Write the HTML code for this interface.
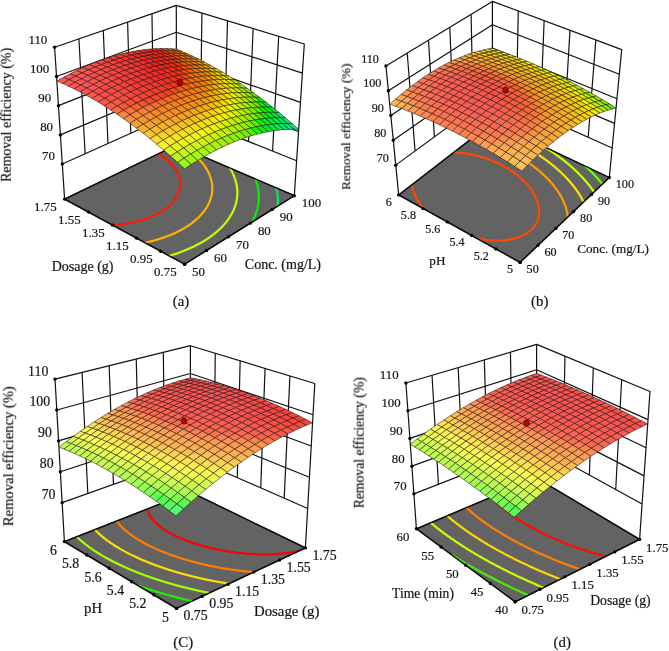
<!DOCTYPE html><html><head><meta charset="utf-8"><style>html,body{margin:0;padding:0;background:#fff;}svg{display:block;will-change:transform;}</style></head><body><svg width="669" height="651" viewBox="0 0 669 651"><clipPath id="fla"><polygon points="184.6,264.2 64.6,199.1 176.5,145 294.3,195.7"/></clipPath><path d="M62.29,164.07L176.45,112.78 M176.45,112.78L296.61,160.69 M60.37,134.88L176.42,85.94 M176.42,85.94L298.53,131.52 M58.45,105.68L176.38,59.09 M176.38,59.09L300.45,102.35 M56.52,76.49L176.34,32.25 M176.34,32.25L302.38,73.17 M85.12,153.81L78.94,38.92 M107.96,143.56L103.28,30.54 M130.79,133.3L127.62,22.16 M153.62,123.04L151.96,13.78 M272.58,151.11L278.7,36.28 M248.55,141.53L253.1,28.56 M224.52,131.95L227.5,20.84 M200.48,122.37L201.9,13.12" stroke="#111" stroke-width="1.2" fill="none"/><polyline points="64.6,199.1 54.6,47.3 176.3,5.4 304.3,44 294.3,195.7" stroke="#111" stroke-width="1.2" fill="none" stroke-linejoin="round"/><path d="M176.3,5.4L176.5,145" stroke="#111" stroke-width="1.2"/><polygon points="184.6,264.2 64.6,199.1 176.5,145 294.3,195.7" fill="#636363" stroke="#111" stroke-width="1.3" stroke-linejoin="round"/><g fill="none" stroke-width="2.2" stroke-linejoin="round" stroke-linecap="round" clip-path="url(#fla)"><polyline points="112.17,225.05 113.12,225 113.24,225 114.06,224.95 114.34,224.93 114.98,224.89 115.46,224.85 115.9,224.82 116.6,224.77 116.81,224.75 117.71,224.67 117.77,224.67 118.59,224.59 118.95,224.55 119.47,224.5 120.16,224.43 120.34,224.41 121.2,224.31 121.39,224.29 122.05,224.21 122.65,224.14 122.89,224.11 123.72,224 123.94,223.97 124.55,223.88 125.27,223.78 125.36,223.76 126.17,223.64 126.63,223.57 126.97,223.51 127.76,223.38 128.02,223.34 128.55,223.25 129.32,223.11 129.47,223.08 130.09,222.97 130.85,222.82 130.96,222.8 131.61,222.67 132.35,222.52 132.51,222.49 133.09,222.36 133.83,222.2 134.12,222.14 134.55,222.04 135.27,221.87 135.81,221.75 135.98,221.7 136.69,221.53 137.39,221.36 137.59,221.3 138.08,221.18 138.76,220.99 139.44,220.81 139.48,220.8 140.11,220.62 140.78,220.43 141.44,220.24 141.52,220.21 142.09,220.04 142.74,219.84 143.38,219.64 143.75,219.52 144.02,219.43 144.65,219.22 145.27,219.01 145.89,218.8 146.26,218.67 146.5,218.59 147.1,218.37 147.7,218.15 148.3,217.92 148.89,217.7 149.26,217.55 149.47,217.47 150.05,217.24 150.62,217 151.18,216.77 151.74,216.53 152.3,216.29 152.85,216.05 153.39,215.8 153.42,215.79 153.93,215.56 154.46,215.31 154.99,215.05 155.51,214.8 156.03,214.54 156.54,214.28 157.05,214.02 157.55,213.76 158.04,213.5 158.53,213.23 159.02,212.96 159.5,212.69 159.97,212.41 160.44,212.14 160.9,211.86 161.36,211.58 161.81,211.3 162.26,211.01 162.71,210.73 163.14,210.44 163.22,210.39 163.58,210.15 164,209.86 164.43,209.56 164.84,209.27 165.25,208.97 165.66,208.67 166.06,208.37 166.37,208.13 166.46,208.06 166.85,207.75 167.24,207.45 167.62,207.14 167.99,206.82 168.36,206.51 168.37,206.51 168.73,206.19 169.09,205.88 169.45,205.56 169.8,205.23 169.87,205.16 170.14,204.91 170.48,204.58 170.81,204.26 171.1,203.97 171.14,203.93 171.47,203.6 171.79,203.26 172.1,202.93 172.13,202.89 172.41,202.59 172.71,202.25 173.01,201.91 173.03,201.89 173.3,201.56 173.59,201.22 173.81,200.95 173.87,200.87 174.14,200.52 174.41,200.17 174.5,200.06 174.68,199.82 174.94,199.46 175.12,199.21 175.19,199.11 175.44,198.75 175.67,198.4 175.68,198.38 175.92,198.02 176.15,197.66 176.17,197.62 176.37,197.29 176.59,196.92 176.63,196.87 176.81,196.55 177.02,196.17 177.04,196.14 177.22,195.8 177.41,195.43 177.42,195.42 177.61,195.04 177.75,194.74 177.79,194.66 177.97,194.27 178.06,194.08 178.14,193.88 178.31,193.5 178.34,193.42 178.47,193.1 178.59,192.79 178.62,192.71 178.77,192.31 178.82,192.17 178.91,191.92 179.03,191.56 179.04,191.52 179.17,191.11 179.22,190.96 179.29,190.71 179.39,190.37 179.41,190.3 179.52,189.89 179.54,189.8 179.62,189.48 179.67,189.23 179.71,189.06 179.79,188.68 179.8,188.64 179.88,188.22 179.89,188.13 179.95,187.8 179.98,187.6 180.02,187.37 180.06,187.07 180.07,186.95 180.12,186.55 180.12,186.51 180.17,186.08 180.17,186.04 180.2,185.64 180.21,185.53 180.23,185.2 180.23,185.03 180.24,184.76 180.25,184.54 180.25,184.31 180.26,184.05 180.26,183.86 180.25,183.57 180.25,183.41 180.24,183.1 180.23,182.96 180.22,182.63 180.21,182.5 180.19,182.17 180.17,182.03 180.15,181.71 180.13,181.57 180.1,181.26 180.08,181.1 180.04,180.82 180.01,180.62 179.98,180.37 179.94,180.15 179.91,179.94 179.86,179.66 179.83,179.51 179.76,179.18 179.74,179.08 179.66,178.69 179.65,178.65 179.55,178.24 179.54,178.2 179.45,177.82 179.41,177.7 179.33,177.41 179.27,177.19 179.22,177 179.12,176.69 179.09,176.6 178.96,176.2 178.96,176.17 178.83,175.81 178.78,175.65 178.69,175.41 178.58,175.13 178.54,175.03 178.39,174.64 178.38,174.6 178.24,174.26 178.15,174.07 178.07,173.88 177.92,173.52 177.91,173.51 177.74,173.14 177.66,172.98 177.56,172.77 177.39,172.42 177.38,172.4 177.2,172.04 177.1,171.86 177.01,171.68 176.81,171.32 176.8,171.29 176.62,170.97 176.47,170.71 176.41,170.62 176.21,170.27 176.12,170.13 176,169.93 175.78,169.59 175.75,169.53 175.57,169.25 175.35,168.92 175.34,168.91 175.12,168.58 174.93,168.31 174.89,168.24 174.65,167.91 174.49,167.68 174.42,167.59 174.18,167.26 174.01,167.04 173.93,166.94 173.69,166.62 173.5,166.39 173.43,166.3 173.18,165.99 172.96,165.72 172.92,165.68 172.66,165.37 172.4,165.06 172.38,165.04 172.13,164.75 171.86,164.45 171.76,164.34 171.58,164.15 171.31,163.85 171.1,163.62 171.03,163.55 170.74,163.25 170.46,162.96 170.38,162.88 170.17,162.67 169.87,162.38 169.6,162.11 169.58,162.09 169.28,161.81 168.98,161.53 168.75,161.32 168.67,161.24 168.37,160.97 168.06,160.69 167.83,160.49 167.75,160.41 167.43,160.14 167.11,159.87 166.81,159.62 166.79,159.6 166.47,159.33 166.14,159.07 165.81,158.8 165.68,158.69 165.48,158.54 165.14,158.28 164.81,158.02 164.47,157.76 164.39,157.71 164.13,157.51 163.78,157.25 163.43,157 163.08,156.75 162.91,156.63 162.73,156.5 162.37,156.26 162.02,156.01 161.66,155.77 161.29,155.53 161.15,155.43 160.93,155.29 160.56,155.05 160.19,154.81 159.82,154.58 159.44,154.35 159.06,154.12 158.92,154.03 158.68,153.89 158.3,153.66" stroke="#ff1800"/><polyline points="144.86,242.71 145.05,242.67 145.63,242.55 146.4,242.38 146.66,242.33 147.16,242.22 147.92,242.04 148.32,241.95 148.67,241.87 149.42,241.7 150.04,241.55 150.16,241.52 150.9,241.34 151.63,241.15 151.81,241.11 152.35,240.97 153.07,240.78 153.65,240.62 153.79,240.59 154.5,240.4 155.2,240.2 155.57,240.1 155.9,240 156.6,239.8 157.29,239.6 157.59,239.51 157.97,239.4 158.65,239.19 159.33,238.98 159.72,238.86 160,238.77 160.66,238.56 161.32,238.35 161.98,238.13 161.99,238.13 162.63,237.91 163.28,237.69 163.92,237.47 164.45,237.28 164.56,237.24 165.19,237.02 165.82,236.79 166.44,236.56 167.06,236.33 167.17,236.28 167.67,236.09 168.28,235.85 168.89,235.62 169.49,235.38 170.09,235.13 170.28,235.06 170.68,234.89 171.27,234.65 171.85,234.4 172.43,234.15 173,233.9 173.57,233.65 174.12,233.4 174.14,233.39 174.7,233.14 175.26,232.88 175.81,232.62 176.36,232.36 176.91,232.09 177.45,231.83 177.98,231.56 178.51,231.3 179.04,231.03 179.57,230.76 180.09,230.48 180.51,230.26 180.6,230.21 181.11,229.93 181.62,229.66 182.12,229.38 182.62,229.1 183.11,228.82 183.6,228.53 184.09,228.25 184.57,227.96 185.05,227.67 185.52,227.38 185.99,227.09 186.46,226.8 186.61,226.71 186.92,226.51 187.38,226.21 187.83,225.91 188.28,225.62 188.73,225.32 189.17,225.01 189.61,224.71 190.04,224.41 190.47,224.1 190.9,223.8 191.32,223.49 191.74,223.18 191.88,223.07 192.15,222.87 192.56,222.55 192.96,222.24 193.37,221.92 193.76,221.61 194.16,221.29 194.55,220.97 194.62,220.91 194.93,220.65 195.31,220.33 195.69,220 196.06,219.68 196.43,219.35 196.63,219.18 196.8,219.02 197.16,218.7 197.52,218.37 197.87,218.03 198.22,217.7 198.24,217.68 198.57,217.37 198.91,217.03 199.25,216.69 199.58,216.36 199.6,216.34 199.91,216.02 200.24,215.67 200.56,215.33 200.77,215.1 200.87,214.99 201.19,214.64 201.5,214.3 201.8,213.95 201.81,213.95 202.1,213.6 202.4,213.25 202.69,212.9 202.72,212.86 202.98,212.55 203.27,212.19 203.55,211.84 203.55,211.83 203.83,211.48 204.1,211.12 204.3,210.85 204.37,210.76 204.63,210.4 204.89,210.04 204.98,209.91 205.15,209.68 205.4,209.31 205.61,209 205.65,208.95 205.89,208.58 206.13,208.21 206.18,208.13 206.37,207.84 206.6,207.47 206.71,207.28 206.82,207.1 207.05,206.72 207.2,206.46 207.27,206.35 207.48,205.97 207.65,205.66 207.69,205.59 207.89,205.21 208.07,204.88 208.1,204.83 208.29,204.45 208.46,204.12 208.48,204.07 208.67,203.68 208.82,203.38 208.86,203.29 209.03,202.91 209.15,202.65 209.21,202.52 209.38,202.13 209.46,201.94 209.54,201.73 209.71,201.34 209.74,201.24 209.86,200.95 210.01,200.56 210.01,200.55 210.16,200.15 210.26,199.89 210.3,199.75 210.44,199.35 210.48,199.23 210.58,198.95 210.69,198.58 210.7,198.55 210.83,198.14 210.88,197.95 210.95,197.74 211.06,197.33 211.06,197.32 211.17,196.92 211.22,196.71 211.27,196.51 211.37,196.1 211.37,196.09 211.47,195.68 211.51,195.5 211.56,195.26 211.63,194.91 211.64,194.85 211.72,194.43 211.74,194.33 211.8,194.01 211.84,193.75 211.87,193.58 211.93,193.19 211.93,193.16 211.99,192.73 212,192.63 212.04,192.31 212.07,192.07 212.09,191.88 212.12,191.53 212.13,191.45 212.17,191.01 212.17,190.99 212.2,190.58 212.21,190.45 212.23,190.14 212.24,189.93 212.25,189.71 212.26,189.41 212.26,189.27 212.27,188.89 212.27,188.82 212.27,188.38 212.27,188.38 212.27,187.94 212.27,187.87 212.26,187.49 212.26,187.37 212.25,187.04 212.24,186.88 212.23,186.59 212.21,186.39 212.2,186.13 212.18,185.9 212.16,185.68 212.14,185.42 212.12,185.22 212.1,184.95 212.08,184.76 212.05,184.47 212.03,184.3 211.99,184.01 211.97,183.83 211.92,183.54 211.9,183.37 211.86,183.08 211.83,182.9 211.78,182.63 211.74,182.43 211.7,182.18 211.66,181.95 211.61,181.73 211.56,181.48 211.52,181.29 211.46,181 211.43,180.85 211.35,180.52 211.32,180.41 211.23,180.04 211.22,179.98 211.11,179.55 211.11,179.55 210.99,179.12 210.98,179.06 210.87,178.7 210.83,178.57 210.75,178.28 210.68,178.07 210.62,177.86 210.53,177.58 210.49,177.45 210.36,177.08 210.35,177.04 210.21,176.63 210.19,176.57 210.06,176.23 210,176.06 209.91,175.83 209.81,175.55 209.76,175.43 209.6,175.04 209.6,175.03 209.44,174.64 209.39,174.52 209.28,174.25 209.17,174 209.11,173.87 208.94,173.48 208.94,173.48 208.76,173.1 208.69,172.95 208.58,172.72 208.44,172.42 208.4,172.34 208.22,171.97 208.17,171.88 208.03,171.6 207.9,171.34 207.84,171.23 207.64,170.86 207.61,170.8 207.44,170.5 207.31,170.25 207.24,170.13 207.04,169.77 206.99,169.7 206.83,169.42 206.67,169.14 206.62,169.06 206.41,168.71 206.33,168.58 206.19,168.36 205.97,168.01 205.97,168.01 205.75,167.66 205.6,167.43 205.53,167.32 205.3,166.98 205.22,166.85 205.07,166.64 204.84,166.3 204.82,166.27 204.6,165.96 204.4,165.68 204.37,165.63 204.13,165.29 203.97,165.08 203.89,164.96 203.64,164.64 203.52,164.47 203.39,164.31 203.14,163.98 203.04,163.86 202.89,163.66 202.64,163.34 202.55,163.24 202.38,163.02 202.12,162.7 202.04,162.61 201.86,162.39 201.6,162.08 201.51,161.97 201.33,161.76 201.06,161.45 200.95,161.32 200.79,161.14 200.52,160.84 200.36,160.66 200.24,160.53 199.97,160.23 199.75,160 199.69,159.93 199.41,159.63 199.12,159.33 199.11,159.32 198.84,159.03 198.55,158.74 198.44,158.63 198.26,158.44 197.97,158.15 197.73,157.92 197.68,157.86 197.38,157.57 197.08,157.29 196.99,157.2 196.78,157 196.48,156.72 196.21,156.46 196.18,156.43 195.87,156.15 195.57,155.87 195.38,155.71 195.26,155.6 194.95,155.32 194.63,155.04 194.51,154.93 194.32,154.77 194,154.5 193.69,154.23 193.58,154.14 193.37,153.96 193.04,153.69 192.72,153.42 192.59,153.32 192.39,153.16 192.07,152.89 191.74,152.63 191.53,152.46 191.41,152.37 191.07,152.11 190.74,151.85 190.4,151.6 190.38,151.58 190.07,151.34 189.73,151.09 189.39,150.83 189.14,150.65 189.04,150.58 188.7,150.33 188.35,150.08 188,149.83 187.78,149.68" stroke="#ffb200"/><polyline points="169.19,255.86 169.91,255.65 170.1,255.59 170.61,255.43 171.32,255.22 172.02,255.01 172.18,254.96 172.72,254.79 173.41,254.57 174.09,254.35 174.36,254.27 174.78,254.13 175.46,253.9 176.13,253.68 176.65,253.5 176.8,253.45 177.47,253.22 178.13,252.99 178.79,252.76 179.08,252.65 179.44,252.52 180.09,252.29 180.74,252.05 181.38,251.81 181.7,251.69 182.02,251.57 182.65,251.33 183.28,251.08 183.91,250.84 184.53,250.59 184.57,250.57 185.15,250.34 185.76,250.09 186.37,249.84 186.98,249.58 187.58,249.33 187.79,249.24 188.18,249.07 188.78,248.81 189.37,248.55 189.95,248.29 190.54,248.03 191.12,247.76 191.62,247.53 191.69,247.5 192.26,247.23 192.83,246.96 193.4,246.69 193.96,246.42 194.51,246.15 195.07,245.87 195.62,245.6 196.16,245.32 196.7,245.04 196.88,244.95 197.24,244.76 197.78,244.48 198.31,244.2 198.83,243.92 199.36,243.63 199.88,243.35 200.39,243.06 200.91,242.77 201.41,242.48 201.92,242.19 202.42,241.89 202.92,241.6 203.41,241.3 203.9,241.01 204.39,240.71 204.88,240.41 205.36,240.11 205.83,239.81 206.31,239.51 206.77,239.2 207.24,238.9 207.7,238.59 208.16,238.28 208.62,237.98 209.07,237.67 209.52,237.35 209.96,237.04 210.4,236.73 210.47,236.68 210.84,236.41 211.27,236.1 211.7,235.78 212.13,235.46 212.56,235.14 212.98,234.82 213.39,234.5 213.81,234.18 214.22,233.86 214.53,233.6 214.62,233.53 215.02,233.21 215.42,232.88 215.82,232.55 216.21,232.22 216.6,231.89 216.98,231.56 217.17,231.39 217.37,231.23 217.74,230.89 218.12,230.56 218.49,230.22 218.86,229.89 219.22,229.55 219.22,229.55 219.58,229.21 219.94,228.87 220.3,228.53 220.65,228.19 220.9,227.94 220.99,227.84 221.34,227.5 221.68,227.15 222.01,226.81 222.33,226.47 222.35,226.46 222.68,226.11 223,225.76 223.33,225.41 223.59,225.12 223.65,225.06 223.96,224.71 224.27,224.35 224.58,224 224.71,223.85 224.89,223.64 225.19,223.29 225.49,222.93 225.71,222.66 225.78,222.57 226.07,222.21 226.36,221.85 226.62,221.53 226.65,221.49 226.93,221.12 227.2,220.76 227.44,220.44 227.48,220.4 227.75,220.03 228.02,219.66 228.2,219.4 228.28,219.3 228.54,218.93 228.79,218.56 228.9,218.4 229.05,218.19 229.3,217.81 229.54,217.44 229.55,217.43 229.78,217.07 230.02,216.69 230.14,216.5 230.26,216.32 230.49,215.94 230.7,215.59 230.72,215.56 230.94,215.18 231.16,214.8 231.22,214.7 231.38,214.42 231.59,214.04 231.7,213.84 231.8,213.65 232.01,213.27 232.15,213 232.21,212.89 232.41,212.5 232.57,212.18 232.6,212.11 232.79,211.72 232.96,211.38 232.98,211.33 233.16,210.94 233.32,210.59 233.34,210.55 233.52,210.16 233.67,209.82 233.69,209.77 233.86,209.37 233.99,209.07 234.03,208.98 234.19,208.58 234.29,208.33 234.34,208.18 234.5,207.78 234.57,207.6 234.65,207.38 234.79,206.98 234.83,206.89 234.94,206.58 235.07,206.18 235.07,206.18 235.21,205.77 235.3,205.49 235.34,205.37 235.47,204.96 235.51,204.81 235.59,204.55 235.71,204.15 235.71,204.14 235.82,203.74 235.89,203.48 235.93,203.32 236.04,202.91 236.06,202.82 236.14,202.5 236.22,202.18 236.24,202.09 236.33,201.67 236.36,201.55 236.42,201.25 236.49,200.92 236.51,200.84 236.59,200.42 236.61,200.3 236.67,200 236.72,199.69 236.74,199.58 236.81,199.15 236.82,199.09 236.88,198.73 236.91,198.49 236.94,198.31 236.99,197.9 237,197.88 237.05,197.45 237.06,197.32 237.1,197.02 237.13,196.74 237.14,196.6 237.18,196.17 237.18,196.16 237.21,195.73 237.22,195.61 237.24,195.3 237.26,195.05 237.27,194.86 237.29,194.5 237.29,194.43 237.31,193.99 237.31,193.95 237.32,193.55 237.32,193.41 237.33,193.11 237.33,192.88 237.33,192.67 237.33,192.35 237.33,192.23 237.32,191.82 237.32,191.78 237.31,191.34 237.31,191.3 237.29,190.89 237.29,190.78 237.27,190.44 237.26,190.27 237.24,189.99 237.23,189.76 237.21,189.54 237.19,189.26 237.18,189.09 237.15,188.76 237.13,188.63 237.1,188.27 237.09,188.18 237.04,187.78 237.04,187.72 236.98,187.29 236.98,187.26 236.92,186.81 236.92,186.8 236.85,186.34 236.85,186.33 236.77,185.88 236.77,185.86 236.7,185.41 236.69,185.39 236.61,184.94 236.61,184.92 236.52,184.48 236.52,184.46 236.43,184 236.42,184 236.33,183.54 236.32,183.53 236.22,183.09 236.22,183.06 236.12,182.64 236.1,182.58 236,182.19 235.98,182.1 235.89,181.75 235.86,181.63 235.77,181.31 235.73,181.14 235.65,180.87 235.59,180.66 235.52,180.44 235.44,180.17 235.39,180 235.29,179.69 235.26,179.58 235.13,179.2 235.12,179.15 234.98,178.73 234.97,178.71 234.83,178.31 234.8,178.21 234.69,177.89 234.62,177.72 234.53,177.48 234.44,177.22 234.38,177.07 234.24,176.72 234.22,176.66 234.06,176.25 234.05,176.21 233.9,175.85 233.84,175.71 233.73,175.45 233.62,175.2 233.56,175.05 233.4,174.69 233.38,174.65 233.21,174.26 233.17,174.18 233.03,173.87 232.93,173.66 232.85,173.48 232.69,173.14 232.66,173.09 232.47,172.7 232.43,172.62 232.28,172.32 232.17,172.1 232.09,171.94 231.9,171.57 231.89,171.56 231.7,171.19 231.62,171.04 231.5,170.82 231.33,170.51 231.29,170.44 231.09,170.08 231.03,169.97 230.88,169.71 230.72,169.44 230.67,169.34 230.45,168.98 230.4,168.89 230.24,168.62 230.07,168.35 230.02,168.26 229.8,167.9 229.73,167.8" stroke="#c4ff00"/><polyline points="251.94,222.1 252.12,221.78 252.33,221.39 252.44,221.19 252.54,221.01 252.75,220.62 252.91,220.3 252.95,220.23 253.15,219.84 253.34,219.44 253.35,219.42 253.54,219.05 253.72,218.66 253.77,218.57 253.91,218.26 254.09,217.87 254.15,217.73 254.27,217.47 254.45,217.07 254.52,216.91 254.62,216.68 254.79,216.28 254.86,216.11 254.96,215.88 255.12,215.48 255.18,215.32 255.28,215.08 255.43,214.68 255.48,214.54 255.59,214.27 255.73,213.87 255.77,213.78 255.88,213.47 256.02,213.06 256.03,213.03 256.16,212.65 256.28,212.29 256.3,212.25 256.43,211.84 256.52,211.56 256.56,211.43 256.68,211.02 256.74,210.84 256.8,210.61 256.92,210.2 256.94,210.13 257.04,209.79 257.13,209.44 257.15,209.38 257.26,208.96 257.31,208.75 257.36,208.55 257.46,208.13 257.47,208.07 257.56,207.71 257.63,207.4 257.65,207.3 257.74,206.88 257.77,206.74 257.83,206.46 257.9,206.09 257.91,206.04 257.99,205.62 258.02,205.44 258.07,205.2 258.13,204.8 258.14,204.77 258.21,204.35 258.23,204.17 258.27,203.93 258.32,203.55 258.33,203.5 258.39,203.07 258.41,202.93 258.44,202.65 258.48,202.32 258.49,202.22 258.54,201.79 258.54,201.72 258.58,201.36 258.6,201.12 258.62,200.93 258.65,200.53 258.65,200.49 258.68,200.06 258.69,199.95 258.71,199.63 258.72,199.37 258.73,199.19 258.75,198.79 258.75,198.75 258.77,198.32 258.77,198.22 258.78,197.88 258.78,197.66 258.78,197.44 258.79,197.1 258.79,197 258.79,196.56 258.79,196.55 258.78,196.12 258.78,196 258.77,195.67 258.76,195.46 258.76,195.23 258.75,194.92 258.74,194.78 258.72,194.39 258.72,194.33 258.69,193.89 258.69,193.86 258.66,193.44 258.65,193.33 258.63,192.99 258.61,192.81 258.59,192.54 258.57,192.29 258.55,192.08 258.51,191.78 258.5,191.63 258.46,191.27 258.45,191.18 258.4,190.77 258.39,190.72 258.33,190.27 258.33,190.26 258.26,189.8 258.26,189.77 258.19,189.34 258.18,189.28 258.12,188.88 258.1,188.79 258.04,188.42 258.02,188.3 257.96,187.96 257.93,187.82 257.87,187.49 257.84,187.34 257.77,187.03 257.74,186.87 257.68,186.56 257.64,186.39 257.57,186.09 257.54,185.93 257.46,185.62 257.43,185.46 257.35,185.15 257.31,185 257.23,184.68 257.2,184.54 257.11,184.2 257.08,184.08 256.98,183.73 256.96,183.63 256.85,183.25 256.83,183.18 256.71,182.77 256.7,182.73 256.57,182.29 256.57,182.29 256.43,181.85 256.42,181.81 256.29,181.41 256.26,181.33 256.15,180.97 256.1,180.84 256,180.54 255.94,180.35 255.85,180.11 255.76,179.87 255.7,179.68 255.59,179.38 255.54,179.25 255.4,178.88" stroke="#07ed00"/><polyline points="277.74,206.09 277.75,205.92 277.79,205.48 277.79,205.47 277.82,205.05 277.84,204.86 277.85,204.62 277.88,204.25 277.88,204.18 277.9,203.75 277.91,203.65 277.92,203.31 277.93,203.05 277.94,202.87 277.95,202.46 277.95,202.43 277.96,201.99 277.96,201.88 277.96,201.55 277.96,201.3 277.96,201.11 277.96,200.72 277.96,200.67 277.96,200.23 277.95,200.15 277.95,199.78 277.94,199.59 277.93,199.34 277.92,199.03 277.92,198.9 277.9,198.47 277.9,198.45 277.87,198 277.87,197.92 277.84,197.55 277.83,197.38 277.81,197.11 277.79,196.84 277.78,196.66 277.75,196.3 277.74,196.21 277.7,195.76 277.7,195.76 277.65,195.3 277.64,195.23 277.6,194.85 277.58,194.71 277.54,194.4 277.52,194.19 277.48,193.94 277.45,193.67 277.42,193.48 277.37,193.16 277.36,193.03 277.3,192.65 277.29,192.57 277.22,192.14 277.21,192.11 277.13,191.65 277.13,191.64 277.05,191.19 277.04,191.14 276.96,190.73 276.95,190.64 276.87,190.26 276.85,190.15 276.78,189.8 276.75,189.66 276.68,189.34 276.64,189.17 276.57,188.87 276.53,188.69 276.47,188.4 276.42,188.21 276.35,187.93" stroke="#00ed63"/></g><polygon points="184.6,264.2 64.6,199.1 176.5,145 294.3,195.7" fill="none" stroke="#111" stroke-width="1.3" stroke-linejoin="round"/><g stroke="#201010" stroke-width="0.65" stroke-opacity="0.82" stroke-linejoin="round"><polygon points="176.59,50.99 170.95,48.69 176.26,49.03 181.88,51.33" fill="#f38c00"/><polygon points="182.28,53.46 176.59,50.99 181.88,51.33 187.56,53.81" fill="#f29200"/><polygon points="171.22,50.83 165.58,48.53 170.95,48.69 176.59,50.99" fill="#f37603"/><polygon points="188.03,56.11 182.28,53.46 187.56,53.81 193.29,56.45" fill="#f29b00"/><polygon points="176.92,53.3 171.22,50.83 176.59,50.99 182.28,53.46" fill="#f37900"/><polygon points="165.79,50.86 160.13,48.56 165.58,48.53 171.22,50.83" fill="#f46409"/><polygon points="193.83,58.93 188.03,56.11 193.29,56.45 199.08,59.27" fill="#f2a500"/><polygon points="182.69,55.95 176.92,53.3 182.28,53.46 188.03,56.11" fill="#f37e00"/><polygon points="171.5,53.33 165.79,50.86 171.22,50.83 176.92,53.3" fill="#f36806"/><polygon points="199.69,61.93 193.83,58.93 199.08,59.27 204.93,62.27" fill="#f1b200"/><polygon points="160.28,51.08 154.61,48.78 160.13,48.56 165.79,50.86" fill="#f4330f"/><polygon points="188.51,58.77 182.69,55.95 188.03,56.11 193.83,58.93" fill="#f28500"/><polygon points="177.27,55.98 171.5,53.33 176.92,53.3 182.69,55.95" fill="#f36c03"/><polygon points="205.61,65.1 199.69,61.93 204.93,62.27 210.83,65.44" fill="#f1c100"/><polygon points="166,53.55 160.28,51.08 165.79,50.86 171.5,53.33" fill="#f43d0c"/><polygon points="194.38,61.77 188.51,58.77 193.83,58.93 199.69,61.93" fill="#f29000"/><polygon points="154.69,51.49 149.02,49.2 154.61,48.78 160.28,51.08" fill="#f52915"/><polygon points="183.1,58.8 177.27,55.98 182.69,55.95 188.51,58.77" fill="#f37101"/><polygon points="211.58,68.46 205.61,65.1 210.83,65.44 216.78,68.8" fill="#f1d100"/><polygon points="171.78,56.2 166,53.55 171.5,53.33 177.27,55.98" fill="#f44b09"/><polygon points="200.32,64.95 194.38,61.77 199.69,61.93 205.61,65.1" fill="#f29e00"/><polygon points="160.43,53.96 154.69,51.49 160.28,51.08 166,53.55" fill="#f42912"/><polygon points="149.04,52.1 143.36,49.81 149.02,49.2 154.69,51.49" fill="#f5261a"/><polygon points="189,61.81 183.1,58.8 188.51,58.77 194.38,61.77" fill="#f37900"/><polygon points="217.61,72 211.58,68.46 216.78,68.8 222.79,72.33" fill="#f1e100"/><polygon points="177.63,59.02 171.78,56.2 177.27,55.98 183.1,58.8" fill="#f35b06"/><polygon points="206.31,68.32 200.32,64.95 205.61,65.1 211.58,68.46" fill="#f1af00"/><polygon points="166.22,56.61 160.43,53.96 166,53.55 171.78,56.2" fill="#f42a0f"/><polygon points="194.94,64.99 189,61.81 194.38,61.77 200.32,64.95" fill="#f28200"/><polygon points="154.78,54.58 149.04,52.1 154.69,51.49 160.43,53.96" fill="#f52618"/><polygon points="223.69,75.73 217.61,72 222.79,72.33 228.85,76.05" fill="#eef000"/><polygon points="143.31,52.91 137.63,50.62 143.36,49.81 149.04,52.1" fill="#f62520"/><polygon points="183.53,62.03 177.63,59.02 183.1,58.8 189,61.81" fill="#f36703"/><polygon points="212.35,71.86 206.31,68.32 211.58,68.46 217.61,72" fill="#f1c200"/><polygon points="172.08,59.44 166.22,56.61 171.78,56.2 177.63,59.02" fill="#f42b0c"/><polygon points="229.83,79.64 223.69,75.73 228.85,76.05 234.96,79.95" fill="#d8f000"/><polygon points="200.95,68.36 194.94,64.99 200.32,64.95 206.31,68.32" fill="#f28f00"/><polygon points="160.58,57.23 154.78,54.58 160.43,53.96 166.22,56.61" fill="#f52615"/><polygon points="149.06,55.39 143.31,52.91 149.04,52.1 154.78,54.58" fill="#f5241d"/><polygon points="189.5,65.22 183.53,62.03 189,61.81 194.94,64.99" fill="#f36f00"/><polygon points="218.45,75.6 212.35,71.86 217.61,72 223.69,75.73" fill="#f1d500"/><polygon points="137.52,53.93 131.83,51.63 137.63,50.62 143.31,52.91" fill="#f62926"/><polygon points="177.99,62.46 172.08,59.44 177.63,59.02 183.53,62.03" fill="#f44209"/><polygon points="236.01,83.74 229.83,79.64 234.96,79.95 241.13,84.04" fill="#bef000"/><polygon points="207.01,71.92 200.95,68.36 206.31,68.32 212.35,71.86" fill="#f2a200"/><polygon points="166.45,60.06 160.58,57.23 166.22,56.61 172.08,59.44" fill="#f42712"/><polygon points="195.52,68.6 189.5,65.22 194.94,64.99 200.95,68.36" fill="#f37a00"/><polygon points="154.87,58.05 149.06,55.39 154.78,54.58 160.58,57.23" fill="#f5231a"/><polygon points="224.61,79.52 218.45,75.6 223.69,75.73 229.83,79.64" fill="#f1e800"/><polygon points="143.27,56.41 137.52,53.93 143.31,52.91 149.06,55.39" fill="#f62623"/><polygon points="242.25,88.03 236.01,83.74 241.13,84.04 247.34,88.31" fill="#a5f000"/><polygon points="183.97,65.65 177.99,62.46 183.53,62.03 189.5,65.22" fill="#f35a06"/><polygon points="131.65,55.16 125.96,52.86 131.83,51.63 137.52,53.93" fill="#f72f2b"/><polygon points="213.13,75.66 207.01,71.92 212.35,71.86 218.45,75.6" fill="#f1b600"/><polygon points="172.38,63.08 166.45,60.06 172.08,59.44 177.99,62.46" fill="#f4290f"/><polygon points="230.82,83.63 224.61,79.52 229.83,79.64 236.01,83.74" fill="#e2f000"/><polygon points="201.6,72.16 195.52,68.6 200.95,68.36 207.01,71.92" fill="#f28600"/><polygon points="160.75,60.89 154.87,58.05 160.58,57.23 166.45,60.06" fill="#f52417"/><polygon points="248.54,92.51 242.25,88.03 247.34,88.31 253.61,92.78" fill="#89ef00"/><polygon points="149.09,59.07 143.27,56.41 149.06,55.39 154.87,58.05" fill="#f62420"/><polygon points="190.01,69.04 183.97,65.65 189.5,65.22 195.52,68.6" fill="#f36903"/><polygon points="219.31,79.59 213.13,75.66 218.45,75.6 224.61,79.52" fill="#f1cd00"/><polygon points="137.41,57.64 131.65,55.16 137.52,53.93 143.27,56.41" fill="#f62c28"/><polygon points="178.37,66.28 172.38,63.08 177.99,62.46 183.97,65.65" fill="#f42f0c"/><polygon points="125.71,56.6 120.01,54.29 125.96,52.86 131.65,55.16" fill="#f73431"/><polygon points="237.08,87.93 230.82,83.63 236.01,83.74 242.25,88.03" fill="#c7f000"/><polygon points="207.73,75.91 201.6,72.16 207.01,71.92 213.13,75.66" fill="#f29800"/><polygon points="166.69,63.91 160.75,60.89 166.45,60.06 172.38,63.08" fill="#f52514"/><polygon points="254.88,97.18 248.54,92.51 253.61,92.78 259.92,97.44" fill="#5eef00"/><polygon points="196.1,72.61 190.01,69.04 195.52,68.6 201.6,72.16" fill="#f37400"/><polygon points="225.54,83.71 219.31,79.59 224.61,79.52 230.82,83.63" fill="#f1e200"/><polygon points="154.97,61.92 149.09,59.07 154.87,58.05 160.75,60.89" fill="#f5231d"/><polygon points="143.23,60.31 137.41,57.64 143.27,56.41 149.09,59.07" fill="#f62926"/><polygon points="243.39,92.42 237.08,87.93 242.25,88.03 248.54,92.51" fill="#abf000"/><polygon points="184.42,69.68 178.37,66.28 183.97,65.65 190.01,69.04" fill="#f44e09"/><polygon points="131.47,59.09 125.71,56.6 131.65,55.16 137.41,57.64" fill="#f7312e"/><polygon points="213.93,79.86 207.73,75.91 213.13,75.66 219.31,79.59" fill="#f2af00"/><polygon points="261.27,102.05 254.88,97.18 259.92,97.44 266.28,102.29" fill="#0bef00"/><polygon points="119.7,58.25 114,55.94 120.01,54.29 125.71,56.6" fill="#f83936"/><polygon points="172.69,67.12 166.69,63.91 172.38,63.08 178.37,66.28" fill="#f42811"/><polygon points="231.82,88.03 225.54,83.71 230.82,83.63 237.08,87.93" fill="#e9f100"/><polygon points="202.26,76.37 196.1,72.61 201.6,72.16 207.73,75.91" fill="#f28100"/><polygon points="160.92,64.95 154.97,61.92 160.75,60.89 166.69,63.91" fill="#f5241a"/><polygon points="249.76,97.11 243.39,92.42 248.54,92.51 254.88,97.18" fill="#8eef00"/><polygon points="149.12,63.16 143.23,60.31 149.09,59.07 154.97,61.92" fill="#f62623"/><polygon points="190.53,73.26 184.42,69.68 190.01,69.04 196.1,72.61" fill="#f36706"/><polygon points="220.18,83.99 213.93,79.86 219.31,79.59 225.54,83.71" fill="#f1c800"/><polygon points="267.71,107.11 261.27,102.05 266.28,102.29 272.69,107.33" fill="#00ee1c"/><polygon points="137.3,61.76 131.47,59.09 137.41,57.64 143.23,60.31" fill="#f72e2b"/><polygon points="125.47,60.75 119.7,58.25 125.71,56.6 131.47,59.09" fill="#f73633"/><polygon points="178.75,70.52 172.69,67.12 178.37,66.28 184.42,69.68" fill="#f42b0e"/><polygon points="238.16,92.54 231.82,88.03 237.08,87.93 243.39,92.42" fill="#cbf000"/><polygon points="113.62,60.13 107.92,57.81 114,55.94 119.7,58.25" fill="#f83e3b"/><polygon points="208.47,80.32 202.26,76.37 207.73,75.91 213.93,79.86" fill="#f29400"/><polygon points="166.93,68.17 160.92,64.95 166.69,63.91 172.69,67.12" fill="#f52617"/><polygon points="256.17,102 249.76,97.11 254.88,97.18 261.27,102.05" fill="#62ef00"/><polygon points="274.19,112.36 267.71,107.11 272.69,107.33 279.15,112.56" fill="#00ee3d"/><polygon points="196.7,77.03 190.53,73.26 196.1,72.61 202.26,76.37" fill="#f37202"/><polygon points="226.48,88.32 220.18,83.99 225.54,83.71 231.82,88.03" fill="#f1df00"/><polygon points="155.08,66.2 149.12,63.16 154.97,61.92 160.92,64.95" fill="#f62420"/><polygon points="143.2,64.62 137.3,61.76 143.23,60.31 149.12,63.16" fill="#f62b28"/><polygon points="244.55,97.24 238.16,92.54 243.39,92.42 249.76,97.11" fill="#aef000"/><polygon points="184.88,74.11 178.75,70.52 184.42,69.68 190.53,73.26" fill="#f4480b"/><polygon points="131.3,63.43 125.47,60.75 131.47,59.09 137.3,61.76" fill="#f73430"/><polygon points="214.74,84.47 208.47,80.32 213.93,79.86 220.18,83.99" fill="#f2ac00"/><polygon points="262.63,107.08 256.17,102 261.27,102.05 267.71,107.11" fill="#0cef00"/><polygon points="119.39,62.63 113.62,60.13 119.7,58.25 125.47,60.75" fill="#f83b38"/><polygon points="173.01,71.58 166.93,68.17 172.69,67.12 178.75,70.52" fill="#f52914"/><polygon points="107.47,62.23 101.77,59.9 107.92,57.81 113.62,60.13" fill="#f94340"/><polygon points="280.72,117.82 274.19,112.36 279.15,112.56 285.65,118" fill="#00ee5f"/><polygon points="232.84,92.85 226.48,88.32 231.82,88.03 238.16,92.54" fill="#eaf100"/><polygon points="202.93,81 196.7,77.03 202.26,76.37 208.47,80.32" fill="#f38000"/><polygon points="161.1,69.43 155.08,66.2 160.92,64.95 166.93,68.17" fill="#f5251c"/><polygon points="250.99,102.14 244.55,97.24 249.76,97.11 256.17,102" fill="#8ef000"/><polygon points="149.16,67.67 143.2,64.62 149.12,63.16 155.08,66.2" fill="#f62825"/><polygon points="191.06,77.9 184.88,74.11 190.53,73.26 196.7,77.03" fill="#f36708"/><polygon points="221.06,88.82 214.74,84.47 220.18,83.99 226.48,88.32" fill="#f2c700"/><polygon points="269.15,112.36 262.63,107.08 267.71,107.11 274.19,112.36" fill="#00ef1d"/><polygon points="137.2,66.3 131.3,63.43 137.3,61.76 143.2,64.62" fill="#f7312d"/><polygon points="287.29,123.47 280.72,117.82 285.65,118 292.19,123.62" fill="#00ee70"/><polygon points="125.23,65.32 119.39,62.63 125.47,60.75 131.3,63.43" fill="#f83936"/><polygon points="179.14,75.18 173.01,71.58 178.75,70.52 184.88,74.11" fill="#f42d11"/><polygon points="239.25,97.57 232.84,92.85 238.16,92.54 244.55,97.24" fill="#cbf000"/><polygon points="113.24,64.74 107.47,62.23 113.62,60.13 119.39,62.63" fill="#f8403e"/><polygon points="209.21,85.16 202.93,81 208.47,80.32 214.74,84.47" fill="#f29300"/><polygon points="101.26,64.56 95.56,62.22 101.77,59.9 107.47,62.23" fill="#f94845"/><polygon points="167.19,72.85 161.1,69.43 166.93,68.17 173.01,71.58" fill="#f52819"/><polygon points="257.48,107.24 250.99,102.14 256.17,102 262.63,107.08" fill="#60ef00"/><polygon points="275.71,117.83 269.15,112.36 274.19,112.36 280.72,117.82" fill="#00ee3f"/><polygon points="197.3,81.88 191.06,77.9 196.7,77.03 202.93,81" fill="#f37305"/><polygon points="227.44,93.36 221.06,88.82 226.48,88.32 232.84,92.85" fill="#f1e000"/><polygon points="155.19,70.91 149.16,67.67 155.08,66.2 161.1,69.43" fill="#f62622"/><polygon points="293.91,129.32 287.29,123.47 292.19,123.62 298.78,129.45" fill="#00ed7f"/><polygon points="143.17,69.36 137.2,66.3 143.2,64.62 149.16,67.67" fill="#f72e2a"/><polygon points="245.72,102.49 239.25,97.57 244.55,97.24 250.99,102.14" fill="#acf000"/><polygon points="185.34,78.98 179.14,75.18 184.88,74.11 191.06,77.9" fill="#f44a0d"/><polygon points="131.13,68.2 125.23,65.32 131.3,63.43 137.2,66.3" fill="#f73633"/><polygon points="215.56,89.52 209.21,85.16 214.74,84.47 221.06,88.82" fill="#f2ad00"/><polygon points="264.02,112.54 257.48,107.24 262.63,107.08 269.15,112.36" fill="#09ef00"/><polygon points="119.08,67.44 113.24,64.74 119.39,62.63 125.23,65.32" fill="#f83e3b"/><polygon points="173.33,76.47 167.19,72.85 173.01,71.58 179.14,75.18" fill="#f52b16"/><polygon points="282.31,123.51 275.71,117.83 280.72,117.82 287.29,123.47" fill="#00ee63"/><polygon points="107.02,67.08 101.26,64.56 107.47,62.23 113.24,64.74" fill="#f94542"/><polygon points="94.97,67.12 89.28,64.77 95.56,62.22 101.26,64.56" fill="#f94d4a"/><polygon points="233.88,98.1 227.44,93.36 232.84,92.85 239.25,97.57" fill="#e8f100"/><polygon points="203.61,86.06 197.3,81.88 202.93,81 209.21,85.16" fill="#f38201"/><polygon points="161.29,74.34 155.19,70.91 161.1,69.43 167.19,72.85" fill="#f6281f"/><polygon points="252.23,107.61 245.72,102.49 250.99,102.14 257.48,107.24" fill="#8af000"/><polygon points="149.21,72.61 143.17,69.36 149.16,67.67 155.19,70.91" fill="#f62b27"/><polygon points="191.6,82.97 185.34,78.98 191.06,77.9 197.3,81.88" fill="#f46a0a"/><polygon points="221.96,94.08 215.56,89.52 221.06,88.82 227.44,93.36" fill="#f2ca00"/><polygon points="270.6,118.05 264.02,112.54 269.15,112.36 275.71,117.83" fill="#00ef22"/><polygon points="137.11,71.27 131.13,68.2 137.2,66.3 143.17,69.36" fill="#f73330"/><polygon points="288.96,129.39 282.31,123.51 287.29,123.47 293.91,129.32" fill="#00ee72"/><polygon points="124.99,70.33 119.08,67.44 125.23,65.32 131.13,68.2" fill="#f83b38"/><polygon points="179.55,80.28 173.33,76.47 179.14,75.18 185.34,78.98" fill="#f43013"/><polygon points="240.36,103.04 233.88,98.1 239.25,97.57 245.72,102.49" fill="#c7f100"/><polygon points="112.86,69.79 107.02,67.08 113.24,64.74 119.08,67.44" fill="#f84240"/><polygon points="209.97,90.43 203.61,86.06 209.21,85.16 215.56,89.52" fill="#f39700"/><polygon points="100.74,69.65 94.97,67.12 101.26,64.56 107.02,67.08" fill="#f94a47"/><polygon points="88.62,69.91 82.93,67.55 89.28,64.77 94.97,67.12" fill="#fa514e"/><polygon points="167.45,77.97 161.29,74.34 167.19,72.85 173.33,76.47" fill="#f52b1b"/><polygon points="258.8,112.93 252.23,107.61 257.48,107.24 264.02,112.54" fill="#58f000"/><polygon points="277.24,123.75 270.6,118.05 275.71,117.83 282.31,123.51" fill="#00ee45"/><polygon points="197.92,87.17 191.6,82.97 197.3,81.88 203.61,86.06" fill="#f37707"/><polygon points="228.41,98.84 221.96,94.08 227.44,93.36 233.88,98.1" fill="#f1e400"/><polygon points="155.31,76.05 149.21,72.61 155.19,70.91 161.29,74.34" fill="#f62924"/><polygon points="143.15,74.53 137.11,71.27 143.17,69.36 149.21,72.61" fill="#f7302c"/><polygon points="246.91,108.18 240.36,103.04 245.72,102.49 252.23,107.61" fill="#a7f000"/><polygon points="185.82,84.29 179.55,80.28 185.34,78.98 191.6,82.97" fill="#f4560f"/><polygon points="130.97,73.41 124.99,70.33 131.13,68.2 137.11,71.27" fill="#f73835"/><polygon points="216.39,95.01 209.97,90.43 215.56,89.52 221.96,94.08" fill="#f2b300"/><polygon points="265.42,118.46 258.8,112.93 264.02,112.54 270.6,118.05" fill="#01ef00"/><polygon points="118.78,72.69 112.86,69.79 119.08,67.44 124.99,70.33" fill="#f8403d"/><polygon points="283.92,129.66 277.24,123.75 282.31,123.51 288.96,129.39" fill="#00ee66"/><polygon points="173.67,81.8 167.45,77.97 173.33,76.47 179.55,80.28" fill="#f52f18"/><polygon points="106.58,72.37 100.74,69.65 107.02,67.08 112.86,69.79" fill="#f94744"/><polygon points="94.39,72.45 88.62,69.91 94.97,67.12 100.74,69.65" fill="#fa4e4c"/><polygon points="82.2,72.94 76.52,70.57 82.93,67.55 88.62,69.91" fill="#fa5553"/><polygon points="234.93,103.8 228.41,98.84 233.88,98.1 240.36,103.04" fill="#e2f100"/><polygon points="204.3,91.56 197.92,87.17 203.61,86.06 209.97,90.43" fill="#f38703"/><polygon points="161.48,79.7 155.31,76.05 161.29,74.34 167.45,77.97" fill="#f62c21"/><polygon points="253.5,113.53 246.91,108.18 252.23,107.61 258.8,112.93" fill="#83f000"/><polygon points="149.26,77.99 143.15,74.53 149.21,72.61 155.31,76.05" fill="#f62d29"/><polygon points="192.16,88.5 185.82,84.29 191.6,82.97 197.92,87.17" fill="#f46f0c"/><polygon points="272.08,124.19 265.42,118.46 270.6,118.05 277.24,123.75" fill="#00ef2a"/><polygon points="222.87,99.79 216.39,95.01 221.96,94.08 228.41,98.84" fill="#f2d100"/><polygon points="137.02,76.69 130.97,73.41 137.11,71.27 143.15,74.53" fill="#f73531"/><polygon points="124.76,75.79 118.78,72.69 124.99,70.33 130.97,73.41" fill="#f83d3a"/><polygon points="179.96,85.82 173.67,81.8 179.55,80.28 185.82,84.29" fill="#f53d15"/><polygon points="241.49,108.96 234.93,103.8 240.36,103.04 246.91,108.18" fill="#bff100"/><polygon points="112.49,75.28 106.58,72.37 112.86,69.79 118.78,72.69" fill="#f94441"/><polygon points="210.74,96.16 204.3,91.56 209.97,90.43 216.39,95.01" fill="#f39f00"/><polygon points="100.22,75.19 94.39,72.45 100.74,69.65 106.58,72.37" fill="#f94c49"/><polygon points="87.97,75.49 82.2,72.94 88.62,69.91 94.39,72.45" fill="#fa5350"/><polygon points="75.72,76.21 70.04,73.82 76.52,70.57 82.2,72.94" fill="#fa5553"/><polygon points="260.14,119.08 253.5,113.53 258.8,112.93 265.42,118.46" fill="#41f000"/><polygon points="167.72,83.54 161.48,79.7 167.45,77.97 173.67,81.8" fill="#f5301d"/><polygon points="278.79,130.12 272.08,124.19 277.24,123.75 283.92,129.66" fill="#00ef4f"/><polygon points="229.4,104.77 222.87,99.79 228.41,98.84 234.93,103.8" fill="#f2ec00"/><polygon points="198.55,92.91 192.16,88.5 197.92,87.17 204.3,91.56" fill="#f47e09"/><polygon points="155.44,81.65 149.26,77.99 155.31,76.05 161.48,79.7" fill="#f62e26"/><polygon points="143.14,80.16 137.02,76.69 143.15,74.53 149.26,77.99" fill="#f7322e"/><polygon points="248.11,114.33 241.49,108.96 246.91,108.18 253.5,113.53" fill="#9df100"/><polygon points="186.31,90.05 179.96,85.82 185.82,84.29 192.16,88.5" fill="#f46611"/><polygon points="130.81,79.08 124.76,75.79 130.97,73.41 137.02,76.69" fill="#f83a36"/><polygon points="217.24,100.96 210.74,96.16 216.39,95.01 222.87,99.79" fill="#f2bd00"/><polygon points="266.84,124.84 260.14,119.08 265.42,118.46 272.08,124.19" fill="#00ef0c"/><polygon points="118.48,78.39 112.49,75.28 118.78,72.69 124.76,75.79" fill="#f8413e"/><polygon points="174.02,87.58 167.72,83.54 173.67,81.8 179.96,85.82" fill="#f5351a"/><polygon points="106.14,78.12 100.22,75.19 106.58,72.37 112.49,75.28" fill="#f94946"/><polygon points="93.8,78.24 87.97,75.49 94.39,72.45 100.22,75.19" fill="#fa504d"/><polygon points="69.18,79.72 63.5,77.32 70.04,73.82 75.72,76.21" fill="#fb5553"/><polygon points="81.48,78.78 75.72,76.21 82.2,72.94 87.97,75.49" fill="#fa5553"/><polygon points="235.99,109.96 229.4,104.77 234.93,103.8 241.49,108.96" fill="#d7f100"/><polygon points="205.01,97.52 198.55,92.91 204.3,91.56 210.74,96.16" fill="#f39005"/><polygon points="161.68,85.51 155.44,81.65 161.48,79.7 167.72,83.54" fill="#f63123"/><polygon points="254.78,119.91 248.11,114.33 253.5,113.53 260.14,119.08" fill="#71f000"/><polygon points="149.32,83.84 143.14,80.16 149.26,77.99 155.44,81.65" fill="#f7312b"/><polygon points="192.72,94.48 186.31,90.05 192.16,88.5 198.55,92.91" fill="#f4780e"/><polygon points="273.58,130.8 266.84,124.84 272.08,124.19 278.79,130.12" fill="#00ef35"/><polygon points="223.79,105.96 217.24,100.96 222.87,99.79 229.4,104.77" fill="#f2db00"/><polygon points="136.93,82.57 130.81,79.08 137.02,76.69 143.14,80.16" fill="#f73633"/><polygon points="124.53,81.7 118.48,78.39 124.76,75.79 130.81,79.08" fill="#f83e3b"/><polygon points="180.38,91.82 174.02,87.58 179.96,85.82 186.31,90.05" fill="#f55617"/><polygon points="242.63,115.35 235.99,109.96 241.49,108.96 248.11,114.33" fill="#b3f100"/><polygon points="112.12,81.24 106.14,78.12 112.49,75.28 118.48,78.39" fill="#f94643"/><polygon points="211.53,102.34 205.01,97.52 210.74,96.16 217.24,100.96" fill="#f3ac02"/><polygon points="99.71,81.19 93.8,78.24 100.22,75.19 106.14,78.12" fill="#f94d4a"/><polygon points="62.57,83.48 56.9,81.06 63.5,77.32 69.18,79.72" fill="#fb5653"/><polygon points="87.31,81.54 81.48,78.78 87.97,75.49 93.8,78.24" fill="#fa5452"/><polygon points="74.93,82.31 69.18,79.72 75.72,76.21 81.48,78.78" fill="#fb5553"/><polygon points="261.5,125.69 254.78,119.91 260.14,119.08 266.84,124.84" fill="#14f000"/><polygon points="167.99,89.57 161.68,85.51 167.72,83.54 174.02,87.58" fill="#f6361f"/><polygon points="230.41,111.17 223.79,105.96 229.4,104.77 235.99,109.96" fill="#ecf200"/><polygon points="199.19,99.11 192.72,94.48 198.55,92.91 205.01,97.52" fill="#f4870a"/><polygon points="155.57,87.71 149.32,83.84 155.44,81.65 161.68,85.51" fill="#f63428"/><polygon points="143.13,86.26 136.93,82.57 143.14,80.16 149.32,83.84" fill="#f73530"/><polygon points="249.33,120.96 242.63,115.35 248.11,114.33 254.78,119.91" fill="#8ff100"/><polygon points="186.81,96.27 180.38,91.82 186.31,90.05 192.72,94.48" fill="#f47313"/><polygon points="130.66,85.21 124.53,81.7 130.81,79.08 136.93,82.57" fill="#f83b38"/><polygon points="218.1,107.37 211.53,102.34 217.24,100.96 223.79,105.96" fill="#f3cb00"/><polygon points="268.27,131.69 261.5,125.69 266.84,124.84 273.58,130.8" fill="#00f01e"/><polygon points="118.18,84.56 112.12,81.24 118.48,78.39 124.53,81.7" fill="#f84340"/><polygon points="105.7,84.33 99.71,81.19 106.14,78.12 112.12,81.24" fill="#f94a47"/><polygon points="174.37,93.83 167.99,89.57 174.02,87.58 180.38,91.82" fill="#f5471c"/><polygon points="93.22,84.51 87.31,81.54 93.8,78.24 99.71,81.19" fill="#fa514f"/><polygon points="68.31,86.09 62.57,83.48 69.18,79.72 74.93,82.31" fill="#fb5653"/><polygon points="80.75,85.09 74.93,82.31 81.48,78.78 87.31,81.54" fill="#fa5553"/><polygon points="237.07,116.59 230.41,111.17 235.99,109.96 242.63,115.35" fill="#c7f100"/><polygon points="205.73,103.95 199.19,99.11 205.01,97.52 211.53,102.34" fill="#f39f07"/><polygon points="161.89,91.79 155.57,87.71 161.68,85.51 167.99,89.57" fill="#f63824"/><polygon points="256.08,126.77 249.33,120.96 254.78,119.91 261.5,125.69" fill="#58f000"/><polygon points="149.39,90.15 143.13,86.26 149.32,83.84 155.57,87.71" fill="#f7382d"/><polygon points="193.3,100.93 186.81,96.27 192.72,94.48 199.19,99.11" fill="#f48210"/><polygon points="224.73,112.61 218.1,107.37 223.79,105.96 230.41,111.17" fill="#f2e900"/><polygon points="136.86,88.92 130.66,85.21 136.93,82.57 143.13,86.26" fill="#f73935"/><polygon points="124.31,88.09 118.18,84.56 124.53,81.7 130.66,85.21" fill="#f8403d"/><polygon points="180.81,98.3 174.37,93.83 180.38,91.82 186.81,96.27" fill="#f57018"/><polygon points="243.79,122.22 237.07,116.59 242.63,115.35 249.33,120.96" fill="#a4f100"/><polygon points="111.75,87.67 105.7,84.33 112.12,81.24 118.18,84.56" fill="#f94744"/><polygon points="212.32,109.01 205.73,103.95 211.53,102.34 218.1,107.37" fill="#f3bd03"/><polygon points="99.2,87.67 93.22,84.51 99.71,81.19 105.7,84.33" fill="#fa4e4c"/><polygon points="86.66,88.07 80.75,85.09 87.31,81.54 93.22,84.51" fill="#fa5553"/><polygon points="74.13,88.89 68.31,86.09 74.93,82.31 80.75,85.09" fill="#fb5653"/><polygon points="262.88,132.79 256.08,126.77 261.5,125.69 268.27,131.69" fill="#00f003"/><polygon points="168.28,96.07 161.89,91.79 167.99,89.57 174.37,93.83" fill="#f63f21"/><polygon points="231.42,118.05 224.73,112.61 230.41,111.17 237.07,116.59" fill="#dbf200"/><polygon points="199.85,105.8 193.3,100.93 199.19,99.11 205.73,103.95" fill="#f4950c"/><polygon points="155.72,94.25 149.39,90.15 155.57,87.71 161.89,91.79" fill="#f63b29"/><polygon points="143.12,92.83 136.86,88.92 143.13,86.26 149.39,90.15" fill="#f73c31"/><polygon points="250.57,128.06 243.79,122.22 249.33,120.96 256.08,126.77" fill="#79f100"/><polygon points="187.32,102.98 180.81,98.3 186.81,96.27 193.3,100.93" fill="#f57f15"/><polygon points="130.51,91.82 124.31,88.09 130.66,85.21 136.86,88.92" fill="#f83f39"/><polygon points="218.98,114.27 212.32,109.01 218.1,107.37 224.73,112.61" fill="#f3dc00"/><polygon points="117.89,91.22 111.75,87.67 118.18,84.56 124.31,88.09" fill="#f94441"/><polygon points="105.26,91.03 99.2,87.67 105.7,84.33 111.75,87.67" fill="#f94b49"/><polygon points="174.73,100.57 168.28,96.07 174.37,93.83 180.81,98.3" fill="#f5691d"/><polygon points="92.64,91.25 86.66,88.07 93.22,84.51 99.2,87.67" fill="#fa5350"/><polygon points="80.03,91.89 74.13,88.89 80.75,85.09 86.66,88.07" fill="#fa5553"/><polygon points="238.17,123.71 231.42,118.05 237.07,116.59 243.79,122.22" fill="#b5f200"/><polygon points="206.46,110.87 199.85,105.8 205.73,103.95 212.32,109.01" fill="#f4b208"/><polygon points="162.11,98.55 155.72,94.25 161.89,91.79 168.28,96.07" fill="#f64026"/><polygon points="257.39,134.11 250.57,128.06 256.08,126.77 262.88,132.79" fill="#1ff100"/><polygon points="149.46,96.95 143.12,92.83 149.39,90.15 155.72,94.25" fill="#f73f2e"/><polygon points="193.88,107.87 187.32,102.98 193.3,100.93 199.85,105.8" fill="#f48f11"/><polygon points="225.69,119.74 218.98,114.27 224.73,112.61 231.42,118.05" fill="#ebf200"/><polygon points="136.78,95.75 130.51,91.82 136.86,88.92 143.12,92.83" fill="#f84136"/><polygon points="124.09,94.97 117.89,91.22 124.31,88.09 130.51,91.82" fill="#f8453e"/><polygon points="181.25,105.27 174.73,100.57 180.81,98.3 187.32,102.98" fill="#f57e1a"/><polygon points="244.97,129.58 238.17,123.71 243.79,122.22 250.57,128.06" fill="#8ff100"/><polygon points="111.39,94.59 105.26,91.03 111.75,87.67 117.89,91.22" fill="#f94a45"/><polygon points="213.13,116.16 206.46,110.87 212.32,109.01 218.98,114.27" fill="#f3d205"/><polygon points="98.69,94.63 92.64,91.25 99.2,87.67 105.26,91.03" fill="#fa504d"/><polygon points="86.01,95.09 80.03,91.89 86.66,88.07 92.64,91.25" fill="#fa5753"/><polygon points="168.58,103.07 162.11,98.55 168.28,96.07 174.73,100.57" fill="#f66722"/><polygon points="232.45,125.43 225.69,119.74 231.42,118.05 238.17,123.71" fill="#c4f200"/><polygon points="200.51,112.97 193.88,107.87 199.85,105.8 206.46,110.87" fill="#f4aa0d"/><polygon points="155.87,101.28 149.46,96.95 155.72,94.25 162.11,98.55" fill="#f7442a"/><polygon points="143.13,99.89 136.78,95.75 143.12,92.83 149.46,96.95" fill="#f74433"/><polygon points="251.82,135.66 244.97,129.58 250.57,128.06 257.39,134.11" fill="#56f100"/><polygon points="187.84,110.18 181.25,105.27 187.32,102.98 193.88,107.87" fill="#f58d16"/><polygon points="130.37,98.92 124.09,94.97 130.51,91.82 136.78,95.75" fill="#f8473a"/><polygon points="219.86,121.66 213.13,116.16 218.98,114.27 225.69,119.74" fill="#f3ef01"/><polygon points="117.6,98.36 111.39,94.59 117.89,91.22 124.09,94.97" fill="#f94b42"/><polygon points="104.82,98.22 98.69,94.63 105.26,91.03 111.39,94.59" fill="#f9514a"/><polygon points="175.11,107.8 168.58,103.07 174.73,100.57 181.25,105.27" fill="#f67e1e"/><polygon points="92.06,98.49 86.01,95.09 92.64,91.25 98.69,94.63" fill="#fa5851"/><polygon points="239.28,131.33 232.45,125.43 238.17,123.71 244.97,129.58" fill="#a0f200"/><polygon points="207.2,118.29 200.51,112.97 206.46,110.87 213.13,116.16" fill="#f4c90a"/><polygon points="162.34,105.81 155.87,101.28 162.11,98.55 168.58,103.07" fill="#f66827"/><polygon points="149.54,104.24 143.13,99.89 149.46,96.95 155.87,101.28" fill="#f7492f"/><polygon points="194.48,115.31 187.84,110.18 193.88,107.87 200.51,112.97" fill="#f4a512"/><polygon points="226.65,127.38 219.86,121.66 225.69,119.74 232.45,125.43" fill="#d2f300"/><polygon points="136.72,103.09 130.37,98.92 136.78,95.75 143.13,99.89" fill="#f84a37"/><polygon points="123.88,102.34 117.6,98.36 124.09,94.97 130.37,98.92" fill="#f84d3f"/><polygon points="246.16,137.44 239.28,131.33 244.97,129.58 251.82,135.66" fill="#70f100"/><polygon points="181.7,112.73 175.11,107.8 181.25,105.27 187.84,110.18" fill="#f58d1b"/><polygon points="111.03,102.01 104.82,98.22 111.39,94.59 117.6,98.36" fill="#f95246"/><polygon points="213.95,123.81 207.2,118.29 213.13,116.16 219.86,121.66" fill="#f3e706"/><polygon points="98.19,102.1 92.06,98.49 98.69,94.63 104.82,98.22" fill="#fa584d"/><polygon points="168.88,110.57 162.34,105.81 168.58,103.07 175.11,107.8" fill="#f68023"/><polygon points="233.5,133.31 226.65,127.38 232.45,125.43 239.28,131.33" fill="#acf200"/><polygon points="201.19,120.65 194.48,115.31 200.51,112.97 207.2,118.29" fill="#f4c30f"/><polygon points="156.02,108.81 149.54,104.24 155.87,101.28 162.34,105.81" fill="#f76d2b"/><polygon points="143.14,107.46 136.72,103.09 143.13,99.89 149.54,104.24" fill="#f75134"/><polygon points="188.37,117.89 181.7,112.73 187.84,110.18 194.48,115.31" fill="#f5a217"/><polygon points="130.23,106.53 123.88,102.34 130.37,98.92 136.72,103.09" fill="#f8503b"/><polygon points="220.77,129.56 213.95,123.81 219.86,121.66 226.65,127.38" fill="#def302"/><polygon points="117.31,106.02 111.03,102.01 117.6,98.36 123.88,102.34" fill="#f95443"/><polygon points="104.39,105.92 98.19,102.1 104.82,98.22 111.03,102.01" fill="#f95a4a"/><polygon points="175.49,115.53 168.88,110.57 175.11,107.8 181.7,112.73" fill="#f68e20"/><polygon points="240.4,139.46 233.5,133.31 239.28,131.33 246.16,137.44" fill="#84f200"/><polygon points="207.96,126.21 201.19,120.65 207.2,118.29 213.95,123.81" fill="#f4e10b"/><polygon points="162.58,113.59 156.02,108.81 162.34,105.81 168.88,110.57" fill="#f68328"/><polygon points="149.63,112.05 143.14,107.46 149.54,104.24 156.02,108.81" fill="#f77630"/><polygon points="195.09,123.26 188.37,117.89 194.48,115.31 201.19,120.65" fill="#f5c013"/><polygon points="227.63,135.53 220.77,129.56 226.65,127.38 233.5,133.31" fill="#b7f300"/><polygon points="136.66,110.93 130.23,106.53 136.72,103.09 143.14,107.46" fill="#f86138"/><polygon points="123.67,110.23 117.31,106.02 123.88,102.34 130.23,106.53" fill="#f8573f"/><polygon points="182.17,120.72 175.49,115.53 181.7,112.73 188.37,117.89" fill="#f5a31c"/><polygon points="110.68,109.95 104.39,105.92 111.03,102.01 117.31,106.02" fill="#f95c47"/><polygon points="214.79,131.99 207.96,126.21 213.95,123.81 220.77,129.56" fill="#e7f307"/><polygon points="169.2,118.58 162.58,113.59 168.88,110.57 175.49,115.53" fill="#f69124"/><polygon points="234.56,141.71 227.63,135.53 233.5,133.31 240.4,139.46" fill="#8ff200"/><polygon points="201.88,128.85 195.09,123.26 201.19,120.65 207.96,126.21" fill="#f4dd10"/><polygon points="156.19,116.86 149.63,112.05 156.02,108.81 162.58,113.59" fill="#f7882c"/><polygon points="143.15,115.55 136.66,110.93 143.14,107.46 149.63,112.05" fill="#f78234"/><polygon points="188.91,126.12 182.17,120.72 188.37,117.89 195.09,123.26" fill="#f5bf18"/><polygon points="130.1,114.66 123.67,110.23 130.23,106.53 136.66,110.93" fill="#f8753c"/><polygon points="221.68,137.99 214.79,131.99 220.77,129.56 227.63,135.53" fill="#c0f304"/><polygon points="117.04,114.19 110.68,109.95 117.31,106.02 123.67,110.23" fill="#f96c43"/><polygon points="175.88,123.79 169.2,118.58 175.49,115.53 182.17,120.72" fill="#f6a520"/><polygon points="208.73,134.66 201.88,128.85 207.96,126.21 214.79,131.99" fill="#edf40c"/><polygon points="162.82,121.88 156.19,116.86 162.58,113.59 169.2,118.58" fill="#f69629"/><polygon points="149.72,120.38 143.15,115.55 149.63,112.05 156.19,116.86" fill="#f78e31"/><polygon points="195.71,131.74 188.91,126.12 195.09,123.26 201.88,128.85" fill="#f5dc14"/><polygon points="228.63,144.2 221.68,137.99 227.63,135.53 234.56,141.71" fill="#98f300"/><polygon points="136.6,119.31 130.1,114.66 136.66,110.93 143.15,115.55" fill="#f88a38"/><polygon points="123.47,118.65 117.04,114.19 123.67,110.23 130.1,114.66" fill="#f88840"/><polygon points="182.64,129.23 175.88,123.79 182.17,120.72 188.91,126.12" fill="#f5c11d"/><polygon points="215.64,140.69 208.73,134.66 214.79,131.99 221.68,137.99" fill="#c6f408"/><polygon points="169.52,127.12 162.82,121.88 169.2,118.58 175.88,123.79" fill="#f6aa25"/><polygon points="202.58,137.58 195.71,131.74 201.88,128.85 208.73,134.66" fill="#f0f411"/><polygon points="156.36,125.44 149.72,120.38 156.19,116.86 162.82,121.88" fill="#f79b2d"/><polygon points="143.18,124.17 136.6,119.31 143.15,115.55 149.72,120.38" fill="#f89535"/><polygon points="189.46,134.88 182.64,129.23 188.91,126.12 195.71,131.74" fill="#f5dd19"/><polygon points="129.98,123.33 123.47,118.65 130.1,114.66 136.6,119.31" fill="#f8933c"/><polygon points="222.61,146.95 215.64,140.69 221.68,137.99 228.63,144.2" fill="#a0f305"/><polygon points="176.29,132.59 169.52,127.12 175.88,123.79 182.64,129.23" fill="#f6c521"/><polygon points="209.51,143.65 202.58,137.58 208.73,134.66 215.64,140.69" fill="#caf40d"/><polygon points="163.07,130.71 156.36,125.44 162.82,121.88 169.52,127.12" fill="#f6b129"/><polygon points="149.83,129.26 143.18,124.17 149.72,120.38 156.36,125.44" fill="#f7a331"/><polygon points="196.34,140.76 189.46,134.88 195.71,131.74 202.58,137.58" fill="#f0f515"/><polygon points="136.56,128.22 129.98,123.33 136.6,119.31 143.18,124.17" fill="#f89e39"/><polygon points="183.12,138.28 176.29,132.59 182.64,129.23 189.46,134.88" fill="#f5e01d"/><polygon points="216.5,149.94 209.51,143.65 215.64,140.69 222.61,146.95" fill="#a5f409"/><polygon points="169.85,136.21 163.07,130.71 169.52,127.12 176.29,132.59" fill="#f6cb25"/><polygon points="203.29,146.86 196.34,140.76 202.58,137.58 209.51,143.65" fill="#ccf411"/><polygon points="156.55,134.56 149.83,129.26 156.36,125.44 163.07,130.71" fill="#f7ba2d"/><polygon points="143.21,133.34 136.56,128.22 143.18,124.17 149.83,129.26" fill="#f8ae35"/><polygon points="190.02,144.19 183.12,138.28 189.46,134.88 196.34,140.76" fill="#eff51a"/><polygon points="176.7,141.93 169.85,136.21 176.29,132.59 183.12,138.28" fill="#f6e522"/><polygon points="210.3,153.19 203.29,146.86 209.51,143.65 216.5,149.94" fill="#a7f40e"/><polygon points="163.34,140.1 156.55,134.56 163.07,130.71 169.85,136.21" fill="#f7d32a"/><polygon points="149.94,138.68 143.21,133.34 149.83,129.26 156.55,134.56" fill="#f7c531"/><polygon points="196.99,150.33 190.02,144.19 196.34,140.76 203.29,146.86" fill="#cbf516"/><polygon points="183.61,147.88 176.7,141.93 183.12,138.28 190.02,144.19" fill="#ebf51e"/><polygon points="170.2,145.85 163.34,140.1 169.85,136.21 176.7,141.93" fill="#f6ec26"/><polygon points="204.01,156.69 196.99,150.33 203.29,146.86 210.3,153.19" fill="#a7f412"/><polygon points="156.74,144.25 149.94,138.68 156.55,134.56 163.34,140.1" fill="#f7dd2e"/><polygon points="190.59,154.06 183.61,147.88 190.02,144.19 196.99,150.33" fill="#c8f51a"/><polygon points="177.12,151.84 170.2,145.85 176.7,141.93 183.61,147.88" fill="#e4f622"/><polygon points="163.61,150.04 156.74,144.25 163.34,140.1 170.2,145.85" fill="#f7f42a"/><polygon points="197.64,160.47 190.59,154.06 196.99,150.33 204.01,156.69" fill="#a5f516"/><polygon points="184.12,158.06 177.12,151.84 183.61,147.88 190.59,154.06" fill="#c3f51e"/><polygon points="170.55,156.07 163.61,150.04 170.2,145.85 177.12,151.84" fill="#dcf626"/><polygon points="191.18,164.51 184.12,158.06 190.59,154.06 197.64,160.47" fill="#a0f51a"/><polygon points="177.56,162.33 170.55,156.07 177.12,151.84 184.12,158.06" fill="#bcf622"/><polygon points="184.63,168.82 177.56,162.33 184.12,158.06 191.18,164.51" fill="#99f61e"/></g><ellipse cx="179.96" cy="82.32" rx="2.6" ry="3.2" fill="#c00000" stroke="#4a0000" stroke-width="0.8"/><g fill="#000"><circle cx="62.29" cy="164.07" r="1.7"/><circle cx="60.37" cy="134.88" r="1.7"/><circle cx="58.45" cy="105.68" r="1.7"/><circle cx="56.52" cy="76.49" r="1.7"/><circle cx="54.6" cy="47.3" r="1.7"/><circle cx="184.6" cy="264.2" r="1.7"/><circle cx="160.6" cy="251.18" r="1.7"/><circle cx="136.6" cy="238.16" r="1.7"/><circle cx="112.6" cy="225.14" r="1.7"/><circle cx="88.6" cy="212.12" r="1.7"/><circle cx="64.6" cy="199.1" r="1.7"/><circle cx="184.6" cy="264.2" r="1.7"/><circle cx="206.54" cy="250.5" r="1.7"/><circle cx="228.48" cy="236.8" r="1.7"/><circle cx="250.42" cy="223.1" r="1.7"/><circle cx="272.36" cy="209.4" r="1.7"/><circle cx="294.3" cy="195.7" r="1.7"/></g><g font-family="Liberation Serif" font-size="12.9" fill="#111" stroke="#111" stroke-width="0.2" opacity="0.99"><text x="54.99" y="160.47" text-anchor="end">70</text><text x="53.07" y="131.28" text-anchor="end">80</text><text x="51.15" y="102.08" text-anchor="end">90</text><text x="49.22" y="72.89" text-anchor="end">100</text><text x="47.3" y="43.7" text-anchor="end">110</text><text x="176.6" y="276.2" text-anchor="end">0.75</text><text x="152.6" y="263.18" text-anchor="end">0.95</text><text x="128.6" y="250.16" text-anchor="end">1.15</text><text x="104.6" y="237.14" text-anchor="end">1.35</text><text x="80.6" y="224.12" text-anchor="end">1.55</text><text x="56.6" y="211.1" text-anchor="end">1.75</text><text x="192.1" y="275.9">50</text><text x="214.04" y="262.2">60</text><text x="235.98" y="248.5">70</text><text x="257.92" y="234.8">80</text><text x="279.86" y="221.1">90</text><text x="301.8" y="207.4">100</text></g><g font-family="Liberation Serif" fill="#111" stroke="#111" stroke-width="0.2" opacity="0.99"><text x="0" y="0" font-size="14.0" text-anchor="middle" transform="translate(10.8,114.9) rotate(-90)">Removal efficiency (%)</text><text x="51.7" y="270.7" font-size="14.0" text-anchor="start">Dosage (g)</text><text x="244.8" y="268.7" font-size="14.0" text-anchor="start">Conc. (mg/L)</text><text x="181" y="305.8" font-size="14.8" text-anchor="middle">(a)</text></g><clipPath id="flb"><polygon points="520.1,262.4 398.7,194.9 492.4,122.5 609.3,177.5"/></clipPath><path d="M395.75,165.13L492.4,94.55 M492.4,94.55L612.16,147.98 M393.28,140.32L492.4,71.27 M492.4,71.27L614.55,123.39 M390.82,115.52L492.4,47.98 M492.4,47.98L616.93,98.79 M388.36,90.71L492.4,24.69 M492.4,24.69L619.32,74.2 M415.08,151.02L407.2,53 M434.41,136.9L428.5,40.1 M453.74,122.78L449.8,27.2 M473.07,108.67L471.1,14.3 M588.21,137.3L595.84,39.96 M564.26,126.61L569.98,30.32 M540.3,115.93L544.12,20.68 M516.35,105.24L518.26,11.04" stroke="#111" stroke-width="1.2" fill="none"/><polyline points="398.7,194.9 385.9,65.9 492.4,1.4 621.7,49.6 609.3,177.5" stroke="#111" stroke-width="1.2" fill="none" stroke-linejoin="round"/><path d="M492.4,1.4L492.4,122.5" stroke="#111" stroke-width="1.2"/><polygon points="520.1,262.4 398.7,194.9 492.4,122.5 609.3,177.5" fill="#636363" stroke="#111" stroke-width="1.3" stroke-linejoin="round"/><g fill="none" stroke-width="2.2" stroke-linejoin="round" stroke-linecap="round" clip-path="url(#flb)"><polyline points="476.46,238.25 477.11,238.39 477.79,238.54 478.24,238.63 478.48,238.68 479.18,238.82 479.88,238.95 479.94,238.96 480.59,239.08 481.3,239.21 481.56,239.25 482.02,239.33 482.74,239.45 483.11,239.51 483.46,239.56 484.2,239.67 484.61,239.73 484.93,239.77 485.68,239.87 486.05,239.92 486.43,239.96 487.18,240.05 487.44,240.08 487.95,240.14 488.72,240.21 488.79,240.22 489.49,240.28 490.1,240.33 490.27,240.35 491.06,240.41 491.37,240.43 491.86,240.46 492.6,240.5 492.67,240.5 493.48,240.54 493.8,240.55 494.3,240.57 494.97,240.59 495.13,240.59 495.97,240.61 496.11,240.61 496.82,240.62 497.22,240.62 497.68,240.61 498.3,240.61 498.54,240.6 499.36,240.58 499.42,240.58 500.31,240.55 500.4,240.55 501.22,240.51 501.41,240.5 502.13,240.45 502.39,240.43 503.06,240.38 503.36,240.36 504,240.3 504.31,240.27 504.96,240.21 505.24,240.18 505.94,240.1 506.14,240.07 506.93,239.97 507.03,239.96 507.91,239.83 507.94,239.83 508.76,239.7 508.98,239.66 509.6,239.55 510.04,239.47 510.42,239.4 511.12,239.26 511.22,239.24 512.01,239.07 512.24,239.02 512.78,238.89 513.39,238.75 513.54,238.71 514.29,238.51 514.57,238.44 515.02,238.31 515.74,238.11 515.81,238.09 516.44,237.89 517.09,237.68 517.13,237.67 517.81,237.44 518.45,237.22 518.47,237.21 519.12,236.97 519.76,236.72 519.89,236.67 520.39,236.47 521,236.21 521.45,236.01 521.61,235.94 522.2,235.67 522.78,235.39 523.19,235.19 523.34,235.11 523.9,234.82 524.45,234.53 524.98,234.23 525.21,234.1 525.51,233.93 526.02,233.61 526.52,233.3 527.02,232.98 527.5,232.65 527.95,232.34 527.97,232.32 528.43,231.99 528.88,231.65 529.32,231.3 529.75,230.95 530.17,230.6 530.59,230.24 530.99,229.88 531.38,229.51 531.76,229.13 532.13,228.76 532.49,228.37 532.85,227.99 533.19,227.6 533.52,227.2 533.71,226.98 533.85,226.8 534.16,226.4 534.47,225.99 534.76,225.57 535.05,225.16 535.33,224.73 535.4,224.62 535.59,224.31 535.85,223.88 536.1,223.44 536.34,223 536.37,222.94 536.57,222.56 536.79,222.11 537,221.66 537.06,221.53 537.2,221.21 537.39,220.74 537.57,220.28 537.57,220.28 537.74,219.81 537.91,219.34 537.97,219.14 538.06,218.86 538.2,218.38 538.28,218.08 538.33,217.89 538.46,217.4 538.53,217.09 538.57,216.91 538.67,216.41 538.72,216.14 538.77,215.9 538.85,215.39 538.87,215.24 538.92,214.88 538.98,214.38 538.98,214.36 539.04,213.84 539.06,213.55 539.08,213.31 539.11,212.78 539.11,212.74 539.13,212.25 539.13,211.96 539.14,211.7 539.14,211.21 539.13,211.16 539.12,210.61 539.12,210.47 539.1,210.05 539.08,209.75 539.06,209.49 539.03,209.05 539.01,208.93 538.96,208.37 538.96,208.35 538.88,207.78 538.87,207.7 538.8,207.2 538.78,207.04 538.7,206.61 538.67,206.4 538.6,206.02 538.55,205.76 538.47,205.42 538.41,205.14 538.34,204.81 538.27,204.53 538.19,204.2 538.12,203.93 538.03,203.59 537.96,203.34 537.86,202.97 537.79,202.75 537.67,202.34 537.62,202.18 537.46,201.7 537.43,201.61 537.24,201.06 537.24,201.05 537.04,200.5 537.01,200.41 536.83,199.96 536.75,199.76 536.62,199.42 536.49,199.09 536.4,198.89 536.2,198.42 536.18,198.37 535.95,197.85 535.9,197.74 535.71,197.34 535.58,197.06 535.47,196.83 535.24,196.36 535.23,196.33 534.98,195.84 534.88,195.66 534.72,195.35 534.5,194.94 534.46,194.87 534.2,194.39 534.1,194.22 533.93,193.91 533.68,193.49 533.65,193.44 533.38,192.98 533.23,192.74 533.09,192.52 532.81,192.06 532.76,191.99 532.52,191.61 532.27,191.22 532.23,191.16 531.93,190.72 531.74,190.44 531.63,190.28 531.33,189.84 531.19,189.65 531.02,189.41 530.71,188.98 530.61,188.84 530.4,188.56 530.08,188.14 529.99,188.02 529.76,187.72 529.44,187.31 529.34,187.18 529.11,186.9 528.79,186.49 528.65,186.32 528.45,186.09 528.12,185.69 527.92,185.45 527.78,185.29 527.44,184.9 527.15,184.55 527.1,184.5 526.76,184.12 526.41,183.73 526.32,183.63 526.06,183.35 525.71,182.97 525.44,182.69 525.35,182.59 525,182.22 524.64,181.85 524.51,181.71 524.28,181.48 523.91,181.12 523.55,180.75 523.5,180.71 523.18,180.4 522.81,180.04 522.43,179.68 522.41,179.66 522.06,179.33 521.68,178.98 521.3,178.64 521.23,178.57 520.92,178.29 520.54,177.95 520.15,177.61 519.95,177.43 519.76,177.27 519.37,176.94 518.98,176.61 518.59,176.28 518.53,176.23 518.19,175.95 517.79,175.63 517.39,175.3 516.99,174.98 516.94,174.94 516.59,174.66 516.18,174.35 515.77,174.03 515.36,173.72 515.13,173.55 514.95,173.41 514.54,173.11 514.12,172.8 513.71,172.5 513.29,172.2 513.01,172 512.87,171.9 512.44,171.6 512.02,171.31 511.59,171.02 511.16,170.73 510.73,170.44 510.39,170.21 510.3,170.15 509.87,169.87 509.43,169.59 509,169.31 508.56,169.03 508.12,168.75 507.67,168.48 507.23,168.21 506.78,167.94 506.74,167.91 506.33,167.67 505.88,167.41 505.43,167.14 504.98,166.88 504.52,166.62 504.07,166.36 503.61,166.11 503.15,165.85 502.68,165.6 502.22,165.35 501.75,165.1 501.29,164.86 500.82,164.62 500.34,164.37 499.87,164.13 499.4,163.9 498.92,163.66 498.44,163.43 497.96,163.19 497.47,162.96 496.99,162.74 496.5,162.51 496.01,162.29 495.52,162.06 495.03,161.84 494.54,161.63 494.04,161.41 493.54,161.2 493.04,160.99 492.54,160.78 492.03,160.57 491.52,160.36 491.2,160.23 491.02,160.16 490.5,159.96 489.99,159.76 489.48,159.56 488.96,159.36 488.44,159.17 487.92,158.98 487.39,158.79 487.08,158.68 486.87,158.6 486.34,158.42 485.81,158.24 485.27,158.06 484.74,157.88 484.2,157.7 483.99,157.64 483.66,157.53 483.11,157.36 482.57,157.19 482.02,157.02 481.47,156.86 481.4,156.84 480.92,156.7 480.36,156.54 479.8,156.38 479.24,156.23 479.13,156.2 478.67,156.08 478.11,155.93 477.54,155.78 477.07,155.66 476.96,155.64 476.39,155.49 475.81,155.36 475.23,155.22 475.18,155.21 474.64,155.09 474.05,154.95 473.46,154.83 473.41,154.82 472.86,154.7 472.26,154.58 471.76,154.48 471.66,154.46 471.05,154.34 470.44,154.23 470.2,154.19 469.83,154.12 469.21,154.02 468.71,153.93 468.59,153.91 467.97,153.81 467.34,153.72 467.29,153.71 466.7,153.62 466.06,153.53 465.92,153.51 465.42,153.45 464.77,153.37 464.61,153.35 464.12,153.29 463.46,153.21 463.35,153.2 462.8,153.15 462.13,153.08 462.13,153.08 461.45,153.02 460.95,152.98 460.77,152.96 460.09,152.91 459.81,152.89 459.39,152.86 458.7,152.82 458.7,152.82 457.99,152.79 457.62,152.77 457.28,152.75 456.57,152.73 456.56,152.73 455.83,152.71 455.54,152.7 455.09,152.7 454.55,152.69 454.35,152.69 453.6,152.69" stroke="#ff4800"/><polyline points="411.96,184.34 411.98,184.55 412.01,184.9 412.04,185.15 412.08,185.45 412.12,185.74 412.16,185.99 412.21,186.35 412.24,186.53 412.32,186.97 412.34,187.06 412.44,187.59 412.44,187.59 412.55,188.11 412.57,188.23 412.67,188.63 412.73,188.87 412.79,189.14 412.89,189.52 412.93,189.65 413.07,190.15 413.08,190.19 413.21,190.65 413.28,190.86 413.37,191.14 413.5,191.55 413.53,191.64 413.69,192.12 413.73,192.24 413.86,192.6 413.99,192.95 414.04,193.08 414.22,193.56 414.27,193.68 414.41,194.03 414.57,194.41 414.61,194.5 414.81,194.96 414.89,195.16 415.01,195.43 415.22,195.89 415.24,195.92 415.44,196.34 415.62,196.7 415.66,196.79 415.89,197.24 416.02,197.5 416.12,197.69 416.35,198.13 416.45,198.31 416.59,198.58 416.83,199.01 416.91,199.14 417.08,199.45 417.34,199.88 417.4,199.99 417.59,200.31 417.85,200.74 417.93,200.86 418.12,201.17 418.39,201.59 418.5,201.76 418.66,202.01 418.94,202.43 419.11,202.68 419.22,202.84 419.51,203.26 419.76,203.63 419.8,203.67 420.09,204.08 420.39,204.49 420.47,204.6 420.69,204.89 420.99,205.29 421.24,205.62 421.3,205.69 421.61,206.09 421.93,206.49 422.07,206.66 422.24,206.88 422.57,207.27 422.89,207.66 422.97,207.76 423.22,208.05 423.55,208.44 423.89,208.82 423.96,208.89" stroke="#ff4800"/><polyline points="518.93,262 518.99,261.99 519.88,261.89 519.98,261.88 520.82,261.78 520.99,261.76" stroke="#ff9d00"/><polyline points="567.79,216.85 567.75,216.54 567.71,216.13 567.69,215.97 567.62,215.42 567.61,215.39 567.53,214.81 567.52,214.73 567.44,214.22 567.41,214.04 567.34,213.63 567.29,213.37 567.23,213.04 567.16,212.7 567.11,212.44 567.02,212.05 566.98,211.84 566.88,211.4 566.84,211.24 566.73,210.76 566.7,210.63 566.57,210.13 566.54,210.02 566.41,209.51 566.38,209.41 566.24,208.9 566.21,208.79 566.06,208.29 566.02,208.17 565.87,207.69 565.83,207.54 565.69,207.09 565.63,206.91 565.49,206.51 565.41,206.28 565.29,205.93 565.19,205.64 565.08,205.35 564.95,204.99 564.87,204.78 564.71,204.35 564.66,204.22 564.45,203.69 564.44,203.66 564.21,203.11 564.18,203.04 563.99,202.56 563.9,202.38 563.75,202.02 563.61,201.71 563.51,201.49 563.31,201.04 563.27,200.95 563.03,200.43 563,200.36 562.78,199.91 562.67,199.68 562.53,199.39 562.33,198.99 562.27,198.87 562.01,198.37 561.98,198.3 561.75,197.86 561.61,197.6 561.48,197.36 561.23,196.9 561.21,196.86 560.94,196.37 560.84,196.19 560.67,195.88 560.43,195.47 560.39,195.4 560.11,194.92 560.01,194.75 559.82,194.44 559.57,194.02 559.53,193.96 559.24,193.49 559.12,193.29 558.95,193.03 558.66,192.56 558.65,192.55 558.36,192.1 558.16,191.8 558.06,191.64 557.76,191.19 557.66,191.04 557.45,190.74 557.14,190.29 557.14,190.28 556.83,189.85 556.59,189.5 556.52,189.41 556.21,188.97 556.03,188.72 555.89,188.53 555.57,188.1 555.45,187.93 555.25,187.67 554.93,187.24 554.85,187.13 554.61,186.82 554.28,186.39 554.22,186.32 553.95,185.98 553.62,185.56 553.58,185.51 553.29,185.15 552.95,184.73 552.9,184.68 552.61,184.33 552.28,183.92 552.21,183.83 551.94,183.51 551.59,183.11 551.48,182.98 551.25,182.71 550.9,182.32 550.73,182.11 550.56,181.92 550.21,181.53 549.94,181.23 549.86,181.14 549.51,180.76 549.15,180.37 549.12,180.34 548.8,179.99 548.44,179.61 548.27,179.43 548.08,179.23 547.72,178.85 547.38,178.5 547.36,178.48 546.99,178.11 546.63,177.74 546.45,177.55 546.26,177.37 545.89,177 545.53,176.64 545.48,176.59 545.15,176.28 544.78,175.92 544.45,175.6 544.41,175.56 544.03,175.2 543.66,174.85 543.38,174.59 543.28,174.5 542.9,174.15 542.52,173.8 542.25,173.55 542.14,173.45 541.75,173.11 541.37,172.77 541.05,172.48 540.98,172.43 540.6,172.09 540.21,171.75 539.82,171.41 539.78,171.38 539.43,171.08 539.03,170.75 538.64,170.42 538.42,170.24 538.25,170.09 537.85,169.77 537.45,169.44 537.05,169.12 536.97,169.05 536.65,168.8 536.25,168.48 535.85,168.16 535.45,167.84 535.41,167.81 535.04,167.53 534.64,167.21 534.23,166.9 533.82,166.59 533.71,166.51 533.41,166.29 533,165.98 532.59,165.67 532.18,165.37 531.84,165.13 531.76,165.07 531.35,164.77 530.93,164.47 530.51,164.17 530.09,163.88 529.75,163.64 529.67,163.58 529.25,163.29 528.83,163 528.41,162.71 527.98,162.42 527.56,162.14 527.37,162.01 527.13,161.85 526.7,161.57 526.27,161.29 525.84,161.01 525.41,160.73 524.98,160.45 524.55,160.18 524.54,160.17 524.11,159.9 523.68,159.63 523.24,159.36 522.8,159.09 522.36,158.82 521.92,158.55 521.48,158.29 521.04,158.02 520.95,157.97 520.59,157.76 520.15,157.5 519.7,157.24 519.26,156.98 518.81,156.72 518.36,156.47 517.91,156.21 517.46,155.96 517.01,155.71 516.55,155.46 516.1,155.21 515.64,154.96 515.29,154.77 515.19,154.72 514.73,154.47 514.27,154.23 513.81,153.99 513.35,153.75 512.88,153.51 512.42,153.27 511.95,153.03 511.49,152.8 511.02,152.57 510.55,152.33 510.08,152.1 509.61,151.87 509.14,151.65 508.67,151.42 508.19,151.19 507.72,150.97 507.24,150.75 506.76,150.53 506.28,150.31 505.8,150.09 505.32,149.87 504.84,149.66 504.36,149.44 503.87,149.23 503.38,149.02 502.98,148.85 502.9,148.81 502.41,148.6 501.92,148.39 501.43,148.19 500.93,147.98 500.44,147.78 499.94,147.58 499.45,147.38 498.95,147.18 498.45,146.98 497.95,146.79 497.45,146.59 496.94,146.4 496.93,146.4 496.44,146.21 495.93,146.02 495.43,145.83 494.92,145.65 494.41,145.46 493.89,145.28 493.38,145.09 492.93,144.93 492.87,144.91 492.35,144.73 491.83,144.55 491.31,144.38 490.79,144.2 490.27,144.03 489.75,143.86 489.71,143.84 489.22,143.68 488.7,143.52 488.17,143.35 487.64,143.18 487.11,143.02 486.92,142.96 486.57,142.85 486.04,142.69 485.5,142.53 484.97,142.37 484.43,142.22 484.43,142.22 483.88,142.06 483.34,141.91 482.8,141.76 482.25,141.61 482.15,141.58 481.7,141.46 481.15,141.31 480.6,141.17 480.04,141.02 480.04,141.02 479.49,140.88 478.93,140.74 478.37,140.6 478.07,140.53 477.81,140.47 477.24,140.33 476.68,140.2 476.21,140.09 476.11,140.07 475.54,139.94 474.97,139.81 474.44,139.7 474.39,139.69 473.82,139.56 473.24,139.44 472.76,139.34 472.66,139.32 472.07,139.2 471.49,139.09" stroke="#ff9d00"/><polyline points="583.51,201.76 583.48,201.71 583.24,201.24 583.13,201.02 582.97,200.72 582.77,200.33 582.7,200.2 582.43,199.69 582.4,199.64 582.15,199.18 582.02,198.94 581.87,198.67 581.63,198.24 581.59,198.17 581.31,197.67 581.23,197.53 581.02,197.18 580.82,196.82 580.74,196.69 580.45,196.2 580.39,196.11 580.15,195.71 579.95,195.39 579.86,195.23 579.56,194.75 579.5,194.66 579.26,194.28 579.04,193.93 578.96,193.8 578.66,193.33 578.57,193.2 578.35,192.87 578.08,192.46 578.04,192.4 577.73,191.94 577.58,191.71 577.42,191.48 577.11,191.03 577.06,190.96 576.79,190.57 576.53,190.2 576.48,190.12 576.16,189.68 575.99,189.44 575.84,189.23 575.52,188.79 575.43,188.67 575.19,188.35 574.87,187.91 574.85,187.89 574.54,187.48 574.26,187.11 574.21,187.04 573.88,186.61 573.65,186.32 573.55,186.19 573.21,185.76 573.02,185.52 572.88,185.34 572.54,184.92 572.38,184.71 572.2,184.5 571.86,184.08 571.71,183.9 571.52,183.67 571.18,183.26 571.03,183.08 570.84,182.85 570.49,182.44 570.33,182.25 570.14,182.03 569.8,181.63 569.6,181.41 569.45,181.23 569.1,180.83 568.86,180.56 568.74,180.43 568.39,180.04 568.09,179.7 568.04,179.65 567.68,179.25 567.32,178.87 567.29,178.83 566.96,178.48 566.6,178.09 566.47,177.95 566.24,177.71 565.88,177.33 565.62,177.06 565.52,176.95 565.15,176.57 564.79,176.19 564.75,176.16 564.42,175.82 564.05,175.45 563.84,175.24 563.68,175.08 563.31,174.71 562.94,174.34 562.9,174.31 562.57,173.98 562.2,173.61 561.93,173.36 561.82,173.25 561.45,172.89 561.07,172.53 560.92,172.39 560.69,172.18 560.31,171.82 559.93,171.47 559.87,171.41 559.55,171.12 559.17,170.77 558.79,170.42 558.78,170.41 558.4,170.07 558.02,169.73 557.64,169.39 557.63,169.38 557.24,169.04 556.86,168.7 556.47,168.36 556.45,168.35 556.08,168.03 555.69,167.69 555.29,167.36 555.21,167.28 554.9,167.02 554.51,166.69 554.11,166.36 553.9,166.18 553.72,166.03 553.32,165.71 552.92,165.38 552.53,165.06 552.52,165.06 552.13,164.74 551.73,164.42 551.32,164.1 551.07,163.89 550.92,163.78 550.52,163.46 550.12,163.15 549.71,162.83 549.53,162.69 549.31,162.52 548.9,162.21 548.49,161.9 548.08,161.59 547.88,161.44 547.67,161.28 547.26,160.98 546.85,160.67 546.44,160.37 546.12,160.13 546.03,160.07 545.62,159.77 545.2,159.47 544.79,159.17 544.37,158.88 544.21,158.76 543.95,158.58 543.54,158.29 543.12,158 542.7,157.7 542.28,157.41 542.12,157.31 541.86,157.13 541.44,156.84 541.01,156.55 540.59,156.27 540.17,155.98 539.8,155.74 539.74,155.7 539.31,155.42 538.89,155.14 538.46,154.86 538.03,154.59 537.6,154.31 537.18,154.04 537.17,154.04 536.74,153.76 536.31,153.49 535.88,153.22 535.44,152.95 535.01,152.68 534.58,152.41 534.14,152.15 534.1,152.12 533.7,151.88 533.27,151.62 532.83,151.35 532.39,151.09 531.95,150.83 531.51,150.57 531.07,150.32 530.62,150.06 530.25,149.84 530.18,149.8 529.74,149.55 529.29,149.3 528.85,149.04 528.4,148.79 527.95,148.54 527.5,148.29 527.06,148.05 526.61,147.8 526.16,147.56 525.7,147.31 525.25,147.07 524.8,146.83 524.53,146.68 524.35,146.59 523.89,146.35 523.44,146.11 522.98,145.87 522.52,145.64 522.06,145.4 521.61,145.17 521.15,144.93 520.68,144.7 520.22,144.47 519.76,144.24 519.3,144.01 518.83,143.79 518.37,143.56 517.9,143.34 517.44,143.11 516.97,142.89 516.5,142.67 516.03,142.45 515.56,142.23 515.09,142.01 514.62,141.8 514.15,141.58 513.67,141.36 513.2,141.15 512.72,140.94 512.25,140.73 511.77,140.52 511.29,140.31 510.81,140.1 510.33,139.89 509.85,139.69 509.37,139.48 508.89,139.28 508.58,139.15 508.4,139.08 507.92,138.88 507.43,138.68 506.94,138.48 506.46,138.28 505.97,138.08 505.48,137.89 504.99,137.69 504.5,137.5 504,137.31 503.51,137.12 503.02,136.93 502.52,136.74 502.52,136.74 502.02,136.55 501.53,136.36 501.03,136.18 500.53,136 500.03,135.81 499.53,135.63 499.02,135.45 498.52,135.27 498.31,135.2 498.01,135.09 497.51,134.92 497,134.74 496.49,134.57 495.98,134.39 495.47,134.22 494.96,134.05 494.88,134.02 494.45,133.88 493.93,133.71 493.42,133.54 492.9,133.38 492.38,133.21 491.9,133.06 491.86,133.05 491.34,132.88 490.82,132.72 490.3,132.56 489.78,132.4 489.25,132.25 489.22,132.24 488.73,132.09 488.2,131.93 487.67,131.78 487.14,131.63 486.78,131.52 486.61,131.48 486.08,131.33 485.54,131.18 485.01,131.03 484.5,130.89 484.47,130.88 483.93,130.74 483.39,130.6 482.85,130.45" stroke="#ffe300"/><polyline points="593.97,191.72 593.9,191.62 593.65,191.26 593.37,190.87 593.32,190.81 593,190.35 592.83,190.12 592.67,189.9 592.34,189.45 592.28,189.36 592.02,189.01 591.71,188.6 591.69,188.56 591.35,188.12 591.13,187.83 591.02,187.68 590.69,187.24 590.54,187.05 590.35,186.81 590.01,186.37 589.93,186.27 589.67,185.94 589.33,185.51 589.31,185.49 588.99,185.09 588.68,184.69 588.65,184.66 588.31,184.24 588.03,183.9 587.96,183.82 587.62,183.4 587.36,183.09 587.27,182.98 586.92,182.57 586.68,182.28 586.57,182.16 586.22,181.75 585.98,181.46 585.87,181.34 585.52,180.93 585.26,180.64 585.16,180.53 584.81,180.13 584.53,179.81 584.45,179.72 584.1,179.33 583.77,178.97 583.74,178.93 583.38,178.53 583.02,178.14 583,178.12 582.66,177.75 582.3,177.36 582.2,177.26 581.93,176.97 581.57,176.58 581.39,176.39 581.2,176.2 580.84,175.82 580.55,175.52 580.47,175.43 580.1,175.05 579.73,174.68 579.69,174.63 579.36,174.3 578.99,173.93 578.81,173.74 578.62,173.55 578.25,173.18 577.9,172.83 577.87,172.81 577.5,172.44 577.12,172.08 576.96,171.92 576.75,171.71 576.37,171.35 575.99,170.99 575.99,170.99 575.61,170.63 575.23,170.27 574.99,170.04 574.85,169.91 574.47,169.55 574.09,169.2 573.97,169.09 573.7,168.85 573.32,168.5 572.94,168.15 572.9,168.12 572.55,167.8 572.16,167.45 571.8,167.13 571.78,167.1 571.39,166.76 571,166.42 570.67,166.12 570.61,166.08 570.22,165.74 569.83,165.4 569.49,165.1 569.44,165.06 569.04,164.73 568.65,164.39 568.26,164.06 568.26,164.06 567.86,163.73 567.47,163.4 567.07,163.07 566.98,162.99 566.67,162.74 566.27,162.41 565.88,162.09 565.65,161.91 565.48,161.76 565.08,161.44 564.68,161.12 564.27,160.8 564.26,160.79 563.87,160.48 563.47,160.17 563.07,159.85 562.81,159.65 562.66,159.53 562.26,159.22 561.85,158.91 561.44,158.6 561.27,158.47 561.04,158.29 560.63,157.98 560.22,157.67 559.81,157.37 559.66,157.25 559.4,157.06 558.99,156.76 558.58,156.46 558.17,156.15 557.95,156 557.75,155.85 557.34,155.56 556.93,155.26 556.51,154.96 556.13,154.69 556.1,154.67 555.68,154.37 555.26,154.08 554.85,153.79 554.43,153.5 554.17,153.32 554.01,153.21 553.59,152.92 553.17,152.63 552.75,152.34 552.33,152.06 552.06,151.88 551.91,151.77 551.49,151.49 551.06,151.21 550.64,150.93 550.21,150.65 549.79,150.37 549.75,150.35 549.36,150.09 548.94,149.82 548.51,149.54 548.08,149.27 547.65,149 547.23,148.72 547.19,148.7 546.8,148.45 546.37,148.18 545.93,147.91 545.5,147.65 545.07,147.38 544.64,147.12 544.27,146.89" stroke="#cdff00"/><polyline points="500.17,126.36 499.92,126.27 499.42,126.1 498.92,125.93 498.41,125.77 497.9,125.6 497.4,125.43 496.94,125.29 496.89,125.27 496.38,125.11 495.87,124.94 495.36,124.78 494.85,124.62 494.34,124.46 494.06,124.38 493.82,124.3 493.31,124.15 492.79,123.99 492.28,123.84 491.76,123.68" stroke="#cdff00"/><polyline points="602.26,183.77 601.9,183.34 601.74,183.14 601.55,182.92 601.2,182.51 601.07,182.35 600.85,182.09 600.49,181.67 600.38,181.54 600.14,181.26 599.78,180.85 599.68,180.73 599.42,180.44 599.06,180.03 598.96,179.92 598.71,179.63 598.35,179.22 598.23,179.09 597.98,178.82 597.62,178.42 597.48,178.27 597.26,178.02 596.9,177.63 596.72,177.43 596.53,177.23 596.16,176.84 595.93,176.59 595.8,176.45 595.43,176.06 595.13,175.74 595.06,175.67 594.69,175.28 594.32,174.89 594.32,174.88 593.95,174.51 593.58,174.13 593.48,174.02 593.21,173.75 592.84,173.37 592.62,173.15 592.46,172.99 592.09,172.61 591.74,172.27 591.71,172.24 591.34,171.87 590.96,171.5 590.84,171.38 590.58,171.13 590.21,170.76 589.92,170.48 589.83,170.39 589.45,170.02 589.07,169.66 588.97,169.57 588.69,169.3 588.3,168.94 588,168.65 587.92,168.58 587.54,168.22 587.15,167.86 587,167.72 586.77,167.5 586.38,167.15 586,166.8 585.97,166.77 585.61,166.45 585.22,166.09 584.92,165.82" stroke="#69ff00"/></g><polygon points="520.1,262.4 398.7,194.9 492.4,122.5 609.3,177.5" fill="none" stroke="#111" stroke-width="1.3" stroke-linejoin="round"/><g stroke="#201010" stroke-width="0.65" stroke-opacity="0.82" stroke-linejoin="round"><polygon points="493.46,50.99 487.71,49.07 492.28,48.31 498,50.23" fill="#def310"/><polygon points="499.25,53.02 493.46,50.99 498,50.23 503.78,52.25" fill="#e4f30e"/><polygon points="488.85,51.95 483.09,50.02 487.71,49.07 493.46,50.99" fill="#f4e917"/><polygon points="505.11,55.16 499.25,53.02 503.78,52.25 509.6,54.39" fill="#e9f30d"/><polygon points="494.67,53.98 488.85,51.95 493.46,50.99 499.25,53.02" fill="#f3e415"/><polygon points="511.01,57.4 505.11,55.16 509.6,54.39 515.48,56.63" fill="#ecf20b"/><polygon points="484.18,53.1 478.39,51.17 483.09,50.02 488.85,51.95" fill="#f4d71d"/><polygon points="500.54,56.12 494.67,53.98 499.25,53.02 505.11,55.16" fill="#f3df13"/><polygon points="516.97,59.76 511.01,57.4 515.48,56.63 521.42,58.98" fill="#edf209"/><polygon points="490.01,55.14 484.18,53.1 488.85,51.95 494.67,53.98" fill="#f4d31c"/><polygon points="506.47,58.37 500.54,56.12 505.11,55.16 511.01,57.4" fill="#f3dc11"/><polygon points="479.44,54.46 473.64,52.52 478.39,51.17 484.18,53.1" fill="#f5ca24"/><polygon points="522.98,62.23 516.97,59.76 521.42,58.98 527.4,61.45" fill="#edf207"/><polygon points="495.91,57.28 490.01,55.14 494.67,53.98 500.54,56.12" fill="#f4d01a"/><polygon points="512.45,60.74 506.47,58.37 511.01,57.4 516.97,59.76" fill="#f3da10"/><polygon points="485.3,56.5 479.44,54.46 484.18,53.1 490.01,55.14" fill="#f5c622"/><polygon points="529.04,64.81 522.98,62.23 527.4,61.45 533.43,64.02" fill="#ecf205"/><polygon points="501.86,59.54 495.91,57.28 500.54,56.12 506.47,58.37" fill="#f4cd18"/><polygon points="474.64,56.02 468.82,54.08 473.64,52.52 479.44,54.46" fill="#f5bf2b"/><polygon points="518.48,63.21 512.45,60.74 516.97,59.76 522.98,62.23" fill="#f3d90e"/><polygon points="491.21,58.65 485.3,56.5 490.01,55.14 495.91,57.28" fill="#f4c221"/><polygon points="535.15,67.51 529.04,64.81 533.43,64.02 539.51,66.71" fill="#eaf203"/><polygon points="507.86,61.91 501.86,59.54 506.47,58.37 512.45,60.74" fill="#f3cb16"/><polygon points="480.51,58.07 474.64,56.02 479.44,54.46 485.3,56.5" fill="#f5ba29"/><polygon points="524.57,65.8 518.48,63.21 522.98,62.23 529.04,64.81" fill="#f2d90c"/><polygon points="469.77,57.79 463.94,55.85 468.82,54.08 474.64,56.02" fill="#f6b431"/><polygon points="541.31,70.31 535.15,67.51 539.51,66.71 545.65,69.5" fill="#e6f201"/><polygon points="497.18,60.92 491.21,58.65 495.91,57.28 501.86,59.54" fill="#f4c01f"/><polygon points="513.92,64.4 507.86,61.91 512.45,60.74 518.48,63.21" fill="#f3ca14"/><polygon points="486.44,60.23 480.51,58.07 485.3,56.5 491.21,58.65" fill="#f5b627"/><polygon points="530.71,68.5 524.57,65.8 529.04,64.81 535.15,67.51" fill="#f2da0a"/><polygon points="547.52,73.23 541.31,70.31 545.65,69.5 551.83,72.42" fill="#e1f100"/><polygon points="475.66,59.85 469.77,57.79 474.64,56.02 480.51,58.07" fill="#f6af30"/><polygon points="503.21,63.29 497.18,60.92 501.86,59.54 507.86,61.91" fill="#f4be1d"/><polygon points="520.03,66.99 513.92,64.4 518.48,63.21 524.57,65.8" fill="#f3ca12"/><polygon points="464.85,59.78 459,57.83 463.94,55.85 469.77,57.79" fill="#f6ab38"/><polygon points="492.43,62.5 486.44,60.23 491.21,58.65 497.18,60.92" fill="#f5b325"/><polygon points="536.9,71.32 530.71,68.5 535.15,67.51 541.31,70.31" fill="#f2dd08"/><polygon points="553.78,76.27 547.52,73.23 551.83,72.42 558.05,75.44" fill="#daf100"/><polygon points="509.29,65.78 503.21,63.29 507.86,61.91 513.92,64.4" fill="#f4bc1b"/><polygon points="481.61,62.01 475.66,59.85 480.51,58.07 486.44,60.23" fill="#f6ab2e"/><polygon points="526.2,69.7 520.03,66.99 524.57,65.8 530.71,68.5" fill="#f3cb10"/><polygon points="470.75,61.84 464.85,59.78 469.77,57.79 475.66,59.85" fill="#f6a636"/><polygon points="543.14,74.25 536.9,71.32 541.31,70.31 547.52,73.23" fill="#f2e106"/><polygon points="498.48,64.88 492.43,62.5 497.18,60.92 503.21,63.29" fill="#f5b123"/><polygon points="560.08,79.43 553.78,76.27 558.05,75.44 564.32,78.58" fill="#d2f100"/><polygon points="459.86,61.98 454,60.02 459,57.83 464.85,59.78" fill="#f7a53e"/><polygon points="515.42,68.39 509.29,65.78 513.92,64.4 520.03,66.99" fill="#f4bc19"/><polygon points="487.62,64.29 481.61,62.01 486.44,60.23 492.43,62.5" fill="#f5a72c"/><polygon points="532.41,72.53 526.2,69.7 530.71,68.5 536.9,71.32" fill="#f3cc0e"/><polygon points="549.43,77.3 543.14,74.25 547.52,73.23 553.78,76.27" fill="#f2e604"/><polygon points="476.72,64.01 470.75,61.84 475.66,59.85 481.61,62.01" fill="#f6a234"/><polygon points="566.44,82.7 560.08,79.43 564.32,78.58 570.64,81.84" fill="#c8f100"/><polygon points="504.59,67.38 498.48,64.88 503.21,63.29 509.29,65.78" fill="#f4af22"/><polygon points="465.78,64.05 459.86,61.98 464.85,59.78 470.75,61.84" fill="#f79a3d"/><polygon points="521.61,71.11 515.42,68.39 520.03,66.99 526.2,69.7" fill="#f4bc17"/><polygon points="493.69,66.69 487.62,64.29 492.43,62.5 498.48,64.88" fill="#f5a52a"/><polygon points="538.68,75.47 532.41,72.53 536.9,71.32 543.14,74.25" fill="#f3ce0c"/><polygon points="454.81,64.4 448.94,62.43 454,60.02 459.86,61.98" fill="#f89545"/><polygon points="555.76,80.47 549.43,77.3 553.78,76.27 560.08,79.43" fill="#f2ec02"/><polygon points="572.83,86.08 566.44,82.7 570.64,81.84 577.01,85.22" fill="#bdf100"/><polygon points="510.74,70 504.59,67.38 509.29,65.78 515.42,68.39" fill="#f4ae20"/><polygon points="482.75,66.3 476.72,64.01 481.61,62.01 487.62,64.29" fill="#f69e32"/><polygon points="527.86,73.95 521.61,71.11 526.2,69.7 532.41,72.53" fill="#f3bd15"/><polygon points="471.76,66.23 465.78,64.05 470.75,61.84 476.72,64.01" fill="#f7903b"/><polygon points="499.81,69.19 493.69,66.69 498.48,64.88 504.59,67.38" fill="#f5a328"/><polygon points="545,78.54 538.68,75.47 543.14,74.25 549.43,77.3" fill="#f2d10a"/><polygon points="562.15,83.75 555.76,80.47 560.08,79.43 566.44,82.7" fill="#eff100"/><polygon points="579.28,89.59 572.83,86.08 577.01,85.22 583.41,88.71" fill="#b1f000"/><polygon points="460.75,66.48 454.81,64.4 459.86,61.98 465.78,64.05" fill="#f78643"/><polygon points="516.96,72.73 510.74,70 515.42,68.39 521.61,71.11" fill="#f4ae1e"/><polygon points="488.83,68.7 482.75,66.3 487.62,64.29 493.69,66.69" fill="#f69931"/><polygon points="449.71,67.04 443.83,65.06 448.94,62.43 454.81,64.4" fill="#f8854b"/><polygon points="534.15,76.91 527.86,73.95 532.41,72.53 538.68,75.47" fill="#f3be13"/><polygon points="551.37,81.71 545,78.54 549.43,77.3 555.76,80.47" fill="#f2d408"/><polygon points="477.81,68.53 471.76,66.23 476.72,64.01 482.75,66.3" fill="#f78639"/><polygon points="585.76,93.22 579.28,89.59 583.41,88.71 589.86,92.32" fill="#a5f000"/><polygon points="506,71.82 499.81,69.19 504.59,67.38 510.74,70" fill="#f5a226"/><polygon points="568.58,87.15 562.15,83.75 566.44,82.7 572.83,86.08" fill="#e5f100"/><polygon points="466.74,68.67 460.75,66.48 465.78,64.05 471.76,66.23" fill="#f77841"/><polygon points="523.23,75.58 516.96,72.73 521.61,71.11 527.86,73.95" fill="#f4af1c"/><polygon points="494.98,71.22 488.83,68.7 493.69,66.69 499.81,69.19" fill="#f6952f"/><polygon points="540.5,79.98 534.15,76.91 538.68,75.47 545,78.54" fill="#f3c111"/><polygon points="455.65,69.13 449.71,67.04 454.81,64.4 460.75,66.48" fill="#f87649"/><polygon points="592.29,96.96 585.76,93.22 589.86,92.32 596.35,96.04" fill="#96f000"/><polygon points="557.79,85.01 551.37,81.71 555.76,80.47 562.15,83.75" fill="#f2d706"/><polygon points="575.06,90.68 568.58,87.15 572.83,86.08 579.28,89.59" fill="#d8f100"/><polygon points="444.54,69.91 438.65,67.92 443.83,65.06 449.71,67.04" fill="#f97b51"/><polygon points="512.23,74.56 506,71.82 510.74,70 516.96,72.73" fill="#f5a124"/><polygon points="483.91,70.94 477.81,68.53 482.75,66.3 488.83,68.7" fill="#f67e37"/><polygon points="529.55,78.55 523.23,75.58 527.86,73.95 534.15,76.91" fill="#f4b11a"/><polygon points="472.8,70.98 466.74,68.67 471.76,66.23 477.81,68.53" fill="#f76e3f"/><polygon points="501.18,73.86 494.98,71.22 499.81,69.19 506,71.82" fill="#f5932d"/><polygon points="546.9,83.17 540.5,79.98 545,78.54 551.37,81.71" fill="#f3c40f"/><polygon points="598.87,100.82 592.29,96.96 596.35,96.04 602.89,99.89" fill="#85f000"/><polygon points="564.25,88.43 557.79,85.01 562.15,83.75 568.58,87.15" fill="#f2de04"/><polygon points="581.59,94.32 575.06,90.68 579.28,89.59 585.76,93.22" fill="#caf100"/><polygon points="461.66,71.33 455.65,69.13 460.75,66.48 466.74,68.67" fill="#f86e47"/><polygon points="518.53,77.43 512.23,74.56 516.96,72.73 523.23,75.58" fill="#f5a222"/><polygon points="490.07,73.47 483.91,70.94 488.83,68.7 494.98,71.22" fill="#f67835"/><polygon points="450.5,72.01 444.54,69.91 449.71,67.04 455.65,69.13" fill="#f8724f"/><polygon points="535.93,81.63 529.55,78.55 534.15,76.91 540.5,79.98" fill="#f4b317"/><polygon points="439.33,73.01 433.43,71.01 438.65,67.92 444.54,69.91" fill="#f97752"/><polygon points="605.48,104.81 598.87,100.82 602.89,99.89 609.46,103.85" fill="#6bf000"/><polygon points="478.92,73.4 472.8,70.98 477.81,68.53 483.91,70.94" fill="#f7693d"/><polygon points="553.35,86.48 546.9,83.17 551.37,81.71 557.79,85.01" fill="#f3c80d"/><polygon points="507.44,76.62 501.18,73.86 506,71.82 512.23,74.56" fill="#f5932b"/><polygon points="588.15,98.08 581.59,94.32 585.76,93.22 592.29,96.96" fill="#bbf100"/><polygon points="570.77,91.97 564.25,88.43 568.58,87.15 575.06,90.68" fill="#f2e802"/><polygon points="467.74,73.65 461.66,71.33 466.74,68.67 472.8,70.98" fill="#f86845"/><polygon points="524.88,80.41 518.53,77.43 523.23,75.58 529.55,78.55" fill="#f4a320"/><polygon points="496.3,76.12 490.07,73.47 494.98,71.22 501.18,73.86" fill="#f67533"/><polygon points="456.52,74.22 450.5,72.01 455.65,69.13 461.66,71.33" fill="#f86b4d"/><polygon points="612.13,108.91 605.48,104.81 609.46,103.85 616.07,107.94" fill="#4bef00"/><polygon points="542.36,84.84 535.93,81.63 540.5,79.98 546.9,83.17" fill="#f3b715"/><polygon points="594.76,101.96 588.15,98.08 592.29,96.96 598.87,100.82" fill="#acf000"/><polygon points="559.85,89.92 553.35,86.48 557.79,85.01 564.25,88.43" fill="#f2cd0b"/><polygon points="445.29,75.12 439.33,73.01 444.54,69.91 450.5,72.01" fill="#f96f52"/><polygon points="577.33,95.63 570.77,91.97 575.06,90.68 581.59,94.32" fill="#eff100"/><polygon points="485.1,75.95 478.92,73.4 483.91,70.94 490.07,73.47" fill="#f7653c"/><polygon points="513.76,79.49 507.44,76.62 512.23,74.56 518.53,77.43" fill="#f59529"/><polygon points="434.05,76.33 428.15,74.32 433.43,71.01 439.33,73.01" fill="#fa7552"/><polygon points="531.28,83.51 524.88,80.41 529.55,78.55 535.93,81.63" fill="#f4a61e"/><polygon points="473.87,76.09 467.74,73.65 472.8,70.98 478.92,73.4" fill="#f86244"/><polygon points="502.58,78.89 496.3,76.12 501.18,73.86 507.44,76.62" fill="#f67531"/><polygon points="548.83,88.17 542.36,84.84 546.9,83.17 553.35,86.48" fill="#f3ba13"/><polygon points="601.42,105.97 594.76,101.96 598.87,100.82 605.48,104.81" fill="#9cf000"/><polygon points="462.61,76.56 456.52,74.22 461.66,71.33 467.74,73.65" fill="#f8644c"/><polygon points="566.39,93.47 559.85,89.92 564.25,88.43 570.77,91.97" fill="#f2d308"/><polygon points="583.93,99.41 577.33,95.63 581.59,94.32 588.15,98.08" fill="#e1f100"/><polygon points="520.13,82.49 513.76,79.49 518.53,77.43 524.88,80.41" fill="#f59827"/><polygon points="451.32,77.35 445.29,75.12 450.5,72.01 456.52,74.22" fill="#f96952"/><polygon points="491.34,78.61 485.1,75.95 490.07,73.47 496.3,76.12" fill="#f7633a"/><polygon points="440.03,78.46 434.05,76.33 439.33,73.01 445.29,75.12" fill="#f96d52"/><polygon points="537.74,86.73 531.28,83.51 535.93,81.63 542.36,84.84" fill="#f4a91c"/><polygon points="428.73,79.9 422.82,77.87 428.15,74.32 434.05,76.33" fill="#fa7453"/><polygon points="480.07,78.65 473.87,76.09 478.92,73.4 485.1,75.95" fill="#f75e42"/><polygon points="608.11,110.09 601.42,105.97 605.48,104.81 612.13,108.91" fill="#88f000"/><polygon points="555.36,91.62 548.83,88.17 553.35,86.48 559.85,89.92" fill="#f3bf11"/><polygon points="508.92,81.78 502.58,78.89 507.44,76.62 513.76,79.49" fill="#f6772f"/><polygon points="590.58,103.31 583.93,99.41 588.15,98.08 594.76,101.96" fill="#d0f100"/><polygon points="572.99,97.15 566.39,93.47 570.77,91.97 577.33,95.63" fill="#f2d806"/><polygon points="468.76,79.01 462.61,76.56 467.74,73.65 473.87,76.09" fill="#f85e4a"/><polygon points="526.56,85.6 520.13,82.49 524.88,80.41 531.28,83.51" fill="#f59a25"/><polygon points="497.65,81.39 491.34,78.61 496.3,76.12 502.58,78.89" fill="#f66138"/><polygon points="457.42,79.69 451.32,77.35 456.52,74.22 462.61,76.56" fill="#f96351"/><polygon points="544.24,90.07 537.74,86.73 542.36,84.84 548.83,88.17" fill="#f4ad1a"/><polygon points="446.07,80.7 440.03,78.46 445.29,75.12 451.32,77.35" fill="#f96652"/><polygon points="597.27,107.33 590.58,103.31 594.76,101.96 601.42,105.97" fill="#bff100"/><polygon points="561.94,95.19 555.36,91.62 559.85,89.92 566.39,93.47" fill="#f3c40f"/><polygon points="579.63,100.95 572.99,97.15 577.33,95.63 583.93,99.41" fill="#f2e304"/><polygon points="486.33,81.32 480.07,78.65 485.1,75.95 491.34,78.61" fill="#f75b40"/><polygon points="515.31,84.79 508.92,81.78 513.76,79.49 520.13,82.49" fill="#f67c2d"/><polygon points="434.71,82.04 428.73,79.9 434.05,76.33 440.03,78.46" fill="#fa6c52"/><polygon points="423.35,83.7 417.44,81.66 422.82,77.87 428.73,79.9" fill="#fb7753"/><polygon points="474.97,81.58 468.76,79.01 473.87,76.09 480.07,78.65" fill="#f85a48"/><polygon points="533.04,88.84 526.56,85.6 531.28,83.51 537.74,86.73" fill="#f59d22"/><polygon points="504.01,84.29 497.65,81.39 502.58,78.89 508.92,81.78" fill="#f66136"/><polygon points="550.8,93.54 544.24,90.07 548.83,88.17 555.36,91.62" fill="#f4b218"/><polygon points="463.58,82.16 457.42,79.69 462.61,76.56 468.76,79.01" fill="#f95e50"/><polygon points="604,111.48 597.27,107.33 601.42,105.97 608.11,110.09" fill="#adf100"/><polygon points="568.57,98.89 561.94,95.19 566.39,93.47 572.99,97.15" fill="#f3ca0d"/><polygon points="586.31,104.87 579.63,100.95 583.93,99.41 590.58,103.31" fill="#f2f102"/><polygon points="452.18,83.06 446.07,80.7 451.32,77.35 457.42,79.69" fill="#f96152"/><polygon points="521.77,87.92 515.31,84.79 520.13,82.49 526.56,85.6" fill="#f5842b"/><polygon points="492.65,84.12 486.33,81.32 491.34,78.61 497.65,81.39" fill="#f7593e"/><polygon points="440.76,84.3 434.71,82.04 440.03,78.46 446.07,80.7" fill="#fa6552"/><polygon points="429.34,85.85 423.35,83.7 428.73,79.9 434.71,82.04" fill="#fa6e53"/><polygon points="539.58,92.2 533.04,88.84 537.74,86.73 544.24,90.07" fill="#f4a120"/><polygon points="417.93,87.74 412.01,85.68 417.44,81.66 423.35,83.7" fill="#fb7b53"/><polygon points="481.25,84.27 474.97,81.58 480.07,78.65 486.33,81.32" fill="#f85746"/><polygon points="510.42,87.32 504.01,84.29 508.92,81.78 515.31,84.79" fill="#f66233"/><polygon points="557.41,97.13 550.8,93.54 555.36,91.62 561.94,95.19" fill="#f3b815"/><polygon points="593.04,108.92 586.31,104.87 590.58,103.31 597.27,107.33" fill="#e2f100"/><polygon points="575.25,102.7 568.57,98.89 572.99,97.15 579.63,100.95" fill="#f2d10a"/><polygon points="469.81,84.74 463.58,82.16 468.76,79.01 474.97,81.58" fill="#f8594e"/><polygon points="528.27,91.17 521.77,87.92 526.56,85.6 533.04,88.84" fill="#f58c29"/><polygon points="499.03,87.04 492.65,84.12 497.65,81.39 504.01,84.29" fill="#f7593c"/><polygon points="458.35,85.55 452.18,83.06 457.42,79.69 463.58,82.16" fill="#f95c52"/><polygon points="546.17,95.68 539.58,92.2 544.24,90.07 550.8,93.54" fill="#f4a61e"/><polygon points="446.88,86.67 440.76,84.3 446.07,80.7 452.18,83.06" fill="#fa6052"/><polygon points="564.07,100.84 557.41,97.13 561.94,95.19 568.57,98.89" fill="#f3bd13"/><polygon points="599.82,113.09 593.04,108.92 597.27,107.33 604,111.48" fill="#cff100"/><polygon points="487.58,87.08 481.25,84.27 486.33,81.32 492.65,84.12" fill="#f85544"/><polygon points="435.4,88.13 429.34,85.85 434.71,82.04 440.76,84.3" fill="#fa6753"/><polygon points="581.97,106.65 575.25,102.7 579.63,100.95 586.31,104.87" fill="#f2d808"/><polygon points="516.9,90.47 510.42,87.32 515.31,84.79 521.77,87.92" fill="#f66531"/><polygon points="423.92,89.91 417.93,87.74 423.35,83.7 429.34,85.85" fill="#fb7353"/><polygon points="412.46,92.02 406.53,89.94 412.01,85.68 417.93,87.74" fill="#fb8653"/><polygon points="476.1,87.45 469.81,84.74 474.97,81.58 481.25,84.27" fill="#f8564c"/><polygon points="534.84,94.55 528.27,91.17 533.04,88.84 539.58,92.2" fill="#f59727"/><polygon points="505.47,90.08 499.03,87.04 504.01,84.29 510.42,87.32" fill="#f75a3a"/><polygon points="464.59,88.15 458.35,85.55 463.58,82.16 469.81,84.74" fill="#f95b52"/><polygon points="552.81,99.29 546.17,95.68 550.8,93.54 557.41,97.13" fill="#f4ab1c"/><polygon points="570.78,104.68 564.07,100.84 568.57,98.89 575.25,102.7" fill="#f3c411"/><polygon points="588.73,110.71 581.97,106.65 586.31,104.87 593.04,108.92" fill="#f2e506"/><polygon points="453.06,89.17 446.88,86.67 452.18,83.06 458.35,85.55" fill="#fa5c52"/><polygon points="493.98,90.02 487.58,87.08 492.65,84.12 499.03,87.04" fill="#f75442"/><polygon points="523.43,93.74 516.9,90.47 521.77,87.92 528.27,91.17" fill="#f6702f"/><polygon points="441.52,90.52 435.4,88.13 440.76,84.3 446.88,86.67" fill="#fa6153"/><polygon points="429.98,92.2 423.92,89.91 429.34,85.85 435.4,88.13" fill="#fb6b53"/><polygon points="418.45,94.21 412.46,92.02 417.93,87.74 423.92,89.91" fill="#fb7a53"/><polygon points="406.94,96.54 401.01,94.45 406.53,89.94 412.46,92.02" fill="#fc9953"/><polygon points="541.45,98.05 534.84,94.55 539.58,92.2 546.17,95.68" fill="#f59c24"/><polygon points="482.45,90.28 476.1,87.45 481.25,84.27 487.58,87.08" fill="#f8544a"/><polygon points="511.97,93.24 505.47,90.08 510.42,87.32 516.9,90.47" fill="#f65c38"/><polygon points="559.5,103.03 552.81,99.29 557.41,97.13 564.07,100.84" fill="#f4b219"/><polygon points="595.55,114.91 588.73,110.71 593.04,108.92 599.82,113.09" fill="#eff204"/><polygon points="577.54,108.65 570.78,104.68 575.25,102.7 581.97,106.65" fill="#f3cc0e"/><polygon points="470.89,90.87 464.59,88.15 469.81,84.74 476.1,87.45" fill="#f95a52"/><polygon points="530.02,97.13 523.43,93.74 528.27,91.17 534.84,94.55" fill="#f67d2d"/><polygon points="459.31,91.79 453.06,89.17 458.35,85.55 464.59,88.15" fill="#f95a52"/><polygon points="500.44,93.07 493.98,90.02 499.03,87.04 505.47,90.08" fill="#f75440"/><polygon points="447.71,93.04 441.52,90.52 446.88,86.67 453.06,89.17" fill="#fa5d52"/><polygon points="548.12,101.68 541.45,98.05 546.17,95.68 552.81,99.29" fill="#f5a122"/><polygon points="436.11,94.61 429.98,92.2 435.4,88.13 441.52,90.52" fill="#fb6553"/><polygon points="488.87,93.23 482.45,90.28 487.58,87.08 493.98,90.02" fill="#f85248"/><polygon points="566.24,106.89 559.5,103.03 564.07,100.84 570.78,104.68" fill="#f4b917"/><polygon points="424.51,96.52 418.45,94.21 423.92,89.91 429.98,92.2" fill="#fb7253"/><polygon points="401.38,101.3 395.45,99.19 401.01,94.45 406.94,96.54" fill="#fcac53"/><polygon points="412.93,98.75 406.94,96.54 412.46,92.02 418.45,94.21" fill="#fc8753"/><polygon points="584.34,112.74 577.54,108.65 581.97,106.65 588.73,110.71" fill="#f3d40c"/><polygon points="518.52,96.53 511.97,93.24 516.9,90.47 523.43,93.74" fill="#f66035"/><polygon points="477.26,93.72 470.89,90.87 476.1,87.45 482.45,90.28" fill="#f95850"/><polygon points="536.67,100.65 530.02,97.13 534.84,94.55 541.45,98.05" fill="#f58b2b"/><polygon points="506.96,96.26 500.44,93.07 505.47,90.08 511.97,93.24" fill="#f7563e"/><polygon points="465.63,94.53 459.31,91.79 464.59,88.15 470.89,90.87" fill="#f95a52"/><polygon points="554.85,105.44 548.12,101.68 552.81,99.29 559.5,103.03" fill="#f4a720"/><polygon points="573.03,110.87 566.24,106.89 570.78,104.68 577.54,108.65" fill="#f3c015"/><polygon points="453.97,95.67 447.71,93.04 453.06,89.17 459.31,91.79" fill="#fa5b52"/><polygon points="591.19,116.95 584.34,112.74 588.73,110.71 595.55,114.91" fill="#f2dd0a"/><polygon points="495.35,96.31 488.87,93.23 493.98,90.02 500.44,93.07" fill="#f85246"/><polygon points="525.14,99.95 518.52,96.53 523.43,93.74 530.02,97.13" fill="#f66533"/><polygon points="442.31,97.15 436.11,94.61 441.52,90.52 447.71,93.04" fill="#fa6053"/><polygon points="395.77,106.32 389.85,104.18 395.45,99.19 401.38,101.3" fill="#fcb753"/><polygon points="430.65,98.95 424.51,96.52 429.98,92.2 436.11,94.61" fill="#fb6c53"/><polygon points="407.37,103.53 401.38,101.3 406.94,96.54 412.93,98.75" fill="#fc9e53"/><polygon points="419,101.08 412.93,98.75 418.45,94.21 424.51,96.52" fill="#fb7b53"/><polygon points="543.37,104.3 536.67,100.65 541.45,98.05 548.12,101.68" fill="#f59928"/><polygon points="483.69,96.69 477.26,93.72 482.45,90.28 488.87,93.23" fill="#f8564e"/><polygon points="513.54,99.57 506.96,96.26 511.97,93.24 518.52,96.53" fill="#f7593c"/><polygon points="561.62,109.32 554.85,105.44 559.5,103.03 566.24,106.89" fill="#f4ae1e"/><polygon points="472.01,97.39 465.63,94.53 470.89,90.87 477.26,93.72" fill="#f95952"/><polygon points="579.87,114.98 573.03,110.87 577.54,108.65 584.34,112.74" fill="#f3c813"/><polygon points="460.3,98.43 453.97,95.67 459.31,91.79 465.63,94.53" fill="#fa5a52"/><polygon points="531.81,103.49 525.14,99.95 530.02,97.13 536.67,100.65" fill="#f67331"/><polygon points="501.89,99.51 495.35,96.31 500.44,93.07 506.96,96.26" fill="#f85444"/><polygon points="448.58,99.8 442.31,97.15 447.71,93.04 453.97,95.67" fill="#fa5d53"/><polygon points="550.12,108.08 543.37,104.3 548.12,101.68 554.85,105.44" fill="#f59f26"/><polygon points="436.86,101.5 430.65,98.95 436.11,94.61 442.31,97.15" fill="#fb6753"/><polygon points="401.77,108.57 395.77,106.32 401.38,101.3 407.37,103.53" fill="#fcb253"/><polygon points="425.14,103.53 419,101.08 424.51,96.52 430.65,98.95" fill="#fb7553"/><polygon points="413.44,105.89 407.37,103.53 412.93,98.75 419,101.08" fill="#fc8f53"/><polygon points="490.19,99.78 483.69,96.69 488.87,93.23 495.35,96.31" fill="#f8544c"/><polygon points="568.44,113.32 561.62,109.32 566.24,106.89 573.03,110.87" fill="#f4b61b"/><polygon points="520.18,103 513.54,99.57 518.52,96.53 525.14,99.95" fill="#f75e39"/><polygon points="586.76,119.22 579.87,114.98 584.34,112.74 591.19,116.95" fill="#f3d110"/><polygon points="478.45,100.38 472.01,97.39 477.26,93.72 483.69,96.69" fill="#f95952"/><polygon points="538.53,107.16 531.81,103.49 536.67,100.65 543.37,104.3" fill="#f6842f"/><polygon points="508.49,102.84 501.89,99.51 506.96,96.26 513.54,99.57" fill="#f75642"/><polygon points="466.69,101.32 460.3,98.43 465.63,94.53 472.01,97.39" fill="#fa5a52"/><polygon points="556.92,111.98 550.12,108.08 554.85,105.44 561.62,109.32" fill="#f5a524"/><polygon points="454.92,102.58 448.58,99.8 453.97,95.67 460.3,98.43" fill="#fa5b53"/><polygon points="575.32,117.46 568.44,113.32 573.03,110.87 579.87,114.98" fill="#f4be19"/><polygon points="443.13,104.18 436.86,101.5 442.31,97.15 448.58,99.8" fill="#fb6353"/><polygon points="496.75,103 490.19,99.78 495.35,96.31 501.89,99.51" fill="#f8544a"/><polygon points="526.87,106.56 520.18,103 525.14,99.95 531.81,103.49" fill="#f66437"/><polygon points="431.35,106.1 425.14,103.53 430.65,98.95 436.86,101.5" fill="#fb6f53"/><polygon points="407.83,110.94 401.77,108.57 407.37,103.53 413.44,105.89" fill="#fca753"/><polygon points="419.58,108.36 413.44,105.89 419,101.08 425.14,103.53" fill="#fc8053"/><polygon points="484.97,103.5 478.45,100.38 483.69,96.69 490.19,99.78" fill="#f95951"/><polygon points="545.31,110.96 538.53,107.16 543.37,104.3 550.12,108.08" fill="#f5942c"/><polygon points="515.15,106.29 508.49,102.84 513.54,99.57 520.18,103" fill="#f75a3f"/><polygon points="563.78,116.01 556.92,111.98 561.62,109.32 568.44,113.32" fill="#f4ad21"/><polygon points="473.15,104.33 466.69,101.32 472.01,97.39 478.45,100.38" fill="#f95a52"/><polygon points="582.24,121.72 575.32,117.46 579.87,114.98 586.76,119.22" fill="#f3c616"/><polygon points="461.32,105.49 454.92,102.58 460.3,98.43 466.69,101.32" fill="#fa5b52"/><polygon points="533.62,110.25 526.87,106.56 531.81,103.49 538.53,107.16" fill="#f67035"/><polygon points="503.37,106.35 496.75,103 501.89,99.51 508.49,102.84" fill="#f85647"/><polygon points="449.48,106.98 443.13,104.18 448.58,99.8 454.92,102.58" fill="#fb6053"/><polygon points="437.63,108.8 431.35,106.1 436.86,101.5 443.13,104.18" fill="#fb6b53"/><polygon points="413.98,113.44 407.83,110.94 413.44,105.89 419.58,108.36" fill="#fc9d53"/><polygon points="425.79,110.96 419.58,108.36 425.14,103.53 431.35,106.1" fill="#fc7b53"/><polygon points="552.14,114.88 545.31,110.96 550.12,108.08 556.92,111.98" fill="#f59f2a"/><polygon points="491.54,106.74 484.97,103.5 490.19,99.78 496.75,103" fill="#f9584f"/><polygon points="570.68,120.17 563.78,116.01 568.44,113.32 575.32,117.46" fill="#f4b61f"/><polygon points="521.86,109.88 515.15,106.29 520.18,103 526.87,106.56" fill="#f7603d"/><polygon points="479.68,107.46 473.15,104.33 478.45,100.38 484.97,103.5" fill="#f95a52"/><polygon points="540.43,114.07 533.62,110.25 538.53,107.16 545.31,110.96" fill="#f68333"/><polygon points="467.79,108.52 461.32,105.49 466.69,101.32 473.15,104.33" fill="#fa5b52"/><polygon points="510.05,109.83 503.37,106.35 508.49,102.84 515.15,106.29" fill="#f85a45"/><polygon points="455.89,109.9 449.48,106.98 454.92,102.58 461.32,105.49" fill="#fa5e53"/><polygon points="559.03,118.93 552.14,114.88 556.92,111.98 563.78,116.01" fill="#f5a628"/><polygon points="443.98,111.62 437.63,108.8 443.13,104.18 449.48,106.98" fill="#fb6853"/><polygon points="577.64,124.46 570.68,120.17 575.32,117.46 582.24,121.72" fill="#f4be1d"/><polygon points="498.18,110.11 491.54,106.74 496.75,103 503.37,106.35" fill="#f8594d"/><polygon points="432.08,113.68 425.79,110.96 431.35,106.1 437.63,108.8" fill="#fb7653"/><polygon points="420.19,116.06 413.98,113.44 419.58,108.36 425.79,110.96" fill="#fc9253"/><polygon points="528.64,113.59 521.86,109.88 526.87,106.56 533.62,110.25" fill="#f7673b"/><polygon points="486.27,110.73 479.68,107.46 484.97,103.5 491.54,106.74" fill="#f95b52"/><polygon points="547.29,118.02 540.43,114.07 545.31,110.96 552.14,114.88" fill="#f69630"/><polygon points="516.78,113.43 510.05,109.83 515.15,106.29 521.86,109.88" fill="#f75f43"/><polygon points="474.33,111.68 467.79,108.52 473.15,104.33 479.68,107.46" fill="#fa5b52"/><polygon points="565.97,123.12 559.03,118.93 563.78,116.01 570.68,120.17" fill="#f5ae25"/><polygon points="462.37,112.96 455.89,109.9 461.32,105.49 467.79,108.52" fill="#fa5e53"/><polygon points="504.88,113.61 498.18,110.11 503.37,106.35 510.05,109.83" fill="#f85c4b"/><polygon points="535.47,117.43 528.64,113.59 533.62,110.25 540.43,114.07" fill="#f77539"/><polygon points="450.4,114.57 443.98,111.62 449.48,106.98 455.89,109.9" fill="#fb6653"/><polygon points="438.44,116.52 432.08,113.68 437.63,108.8 443.98,111.62" fill="#fb7353"/><polygon points="426.48,118.8 420.19,116.06 425.79,110.96 432.08,113.68" fill="#fc8953"/><polygon points="554.21,122.1 547.29,118.02 552.14,114.88 559.03,118.93" fill="#f6a12e"/><polygon points="492.92,114.12 486.27,110.73 491.54,106.74 498.18,110.11" fill="#f95d52"/><polygon points="523.58,117.17 516.78,113.43 521.86,109.88 528.64,113.59" fill="#f76541"/><polygon points="572.95,127.43 565.97,123.12 570.68,120.17 577.64,124.46" fill="#f5b723"/><polygon points="480.93,114.96 474.33,111.68 479.68,107.46 486.27,110.73" fill="#f95c52"/><polygon points="468.92,116.14 462.37,112.96 467.79,108.52 474.33,111.68" fill="#fa5f53"/><polygon points="542.36,121.4 535.47,117.43 540.43,114.07 547.29,118.02" fill="#f68a36"/><polygon points="511.64,117.24 504.88,113.61 510.05,109.83 516.78,113.43" fill="#f86049"/><polygon points="456.9,117.65 450.4,114.57 455.89,109.9 462.37,112.96" fill="#fb6653"/><polygon points="561.17,126.31 554.21,122.1 559.03,118.93 565.97,123.12" fill="#f5a92b"/><polygon points="444.86,119.5 438.44,116.52 443.98,111.62 450.4,114.57" fill="#fb7153"/><polygon points="432.84,121.68 426.48,118.8 432.08,113.68 438.44,116.52" fill="#fc8053"/><polygon points="499.64,117.64 492.92,114.12 498.18,110.11 504.88,113.61" fill="#f96050"/><polygon points="530.44,121.04 523.58,117.17 528.64,113.59 535.47,117.43" fill="#f76d3e"/><polygon points="487.6,118.38 480.93,114.96 486.27,110.73 492.92,114.12" fill="#f95f52"/><polygon points="549.3,125.51 542.36,121.4 547.29,118.02 554.21,122.1" fill="#f69c34"/><polygon points="518.46,121 511.64,117.24 516.78,113.43 523.58,117.17" fill="#f86646"/><polygon points="475.54,119.45 468.92,116.14 474.33,111.68 480.93,114.96" fill="#fa6152"/><polygon points="568.19,130.65 561.17,126.31 565.97,123.12 572.95,127.43" fill="#f5b129"/><polygon points="463.46,120.86 456.9,117.65 462.37,112.96 468.92,116.14" fill="#fa6653"/><polygon points="451.36,122.6 444.86,119.5 450.4,114.57 456.9,117.65" fill="#fb7053"/><polygon points="506.42,121.3 499.64,117.64 504.88,113.61 511.64,117.24" fill="#f8644e"/><polygon points="537.35,125.03 530.44,121.04 535.47,117.43 542.36,121.4" fill="#f7803c"/><polygon points="439.27,124.68 432.84,121.68 438.44,116.52 444.86,119.5" fill="#fb7e53"/><polygon points="494.34,121.93 487.6,118.38 492.92,114.12 499.64,117.64" fill="#f96452"/><polygon points="556.3,129.74 549.3,125.51 554.21,122.1 561.17,126.31" fill="#f6a531"/><polygon points="525.34,124.89 518.46,121 523.58,117.17 530.44,121.04" fill="#f86e44"/><polygon points="482.22,122.89 475.54,119.45 480.93,114.96 487.6,118.38" fill="#fa6452"/><polygon points="470.08,124.19 463.46,120.86 468.92,116.14 475.54,119.45" fill="#fa6853"/><polygon points="544.32,129.16 537.35,125.03 542.36,121.4 549.3,125.51" fill="#f7953a"/><polygon points="513.26,125.08 506.42,121.3 511.64,117.24 518.46,121" fill="#f86a4c"/><polygon points="457.93,125.83 451.36,122.6 456.9,117.65 463.46,120.86" fill="#fb7153"/><polygon points="445.78,127.8 439.27,124.68 444.86,119.5 451.36,122.6" fill="#fb7d53"/><polygon points="563.35,134.11 556.3,129.74 561.17,126.31 568.19,130.65" fill="#f6ad2f"/><polygon points="501.13,125.6 494.34,121.93 499.64,117.64 506.42,121.3" fill="#f96a52"/><polygon points="532.28,128.92 525.34,124.89 530.44,121.04 537.35,125.03" fill="#f77c42"/><polygon points="488.97,126.46 482.22,122.89 487.6,118.38 494.34,121.93" fill="#fa6852"/><polygon points="551.35,133.43 544.32,129.16 549.3,125.51 556.3,129.74" fill="#f6a337"/><polygon points="476.78,127.66 470.08,124.19 475.54,119.45 482.22,122.89" fill="#fa6b53"/><polygon points="520.16,129 513.26,125.08 518.46,121 525.34,124.89" fill="#f8714a"/><polygon points="464.57,129.19 457.93,125.83 463.46,120.86 470.08,124.19" fill="#fb7253"/><polygon points="452.36,131.06 445.78,127.8 451.36,122.6 457.93,125.83" fill="#fb7d53"/><polygon points="507.99,129.42 501.13,125.6 506.42,121.3 513.26,125.08" fill="#f97051"/><polygon points="539.27,133.07 532.28,128.92 537.35,125.03 544.32,129.16" fill="#f7913f"/><polygon points="495.78,130.17 488.97,126.46 494.34,121.93 501.13,125.6" fill="#f96e52"/><polygon points="558.43,137.82 551.35,133.43 556.3,129.74 563.35,134.11" fill="#f6ab35"/><polygon points="527.12,133.05 520.16,129 525.34,124.89 532.28,128.92" fill="#f87c47"/><polygon points="483.54,131.26 476.78,127.66 482.22,122.89 488.97,126.46" fill="#fa6f52"/><polygon points="471.28,132.69 464.57,129.19 470.08,124.19 476.78,127.66" fill="#fa7553"/><polygon points="546.32,137.36 539.27,133.07 544.32,129.16 551.35,133.43" fill="#f7a43d"/><polygon points="514.92,133.36 507.99,129.42 513.26,125.08 520.16,129" fill="#f8764f"/><polygon points="459,134.45 452.36,131.06 457.93,125.83 464.57,129.19" fill="#fb7f53"/><polygon points="502.66,134.01 495.78,130.17 501.13,125.6 507.99,129.42" fill="#f97552"/><polygon points="534.14,137.23 527.12,133.05 532.28,128.92 539.27,133.07" fill="#f89245"/><polygon points="490.37,134.99 483.54,131.26 488.97,126.46 495.78,130.17" fill="#fa7552"/><polygon points="553.43,141.79 546.32,137.36 551.35,133.43 558.43,137.82" fill="#f7ab3a"/><polygon points="478.05,136.31 471.28,132.69 476.78,127.66 483.54,131.26" fill="#fa7953"/><polygon points="521.9,137.44 514.92,133.36 520.16,129 527.12,133.05" fill="#f8834c"/><polygon points="465.72,137.97 459,134.45 464.57,129.19 471.28,132.69" fill="#fb8353"/><polygon points="509.6,137.98 502.66,134.01 507.99,129.42 514.92,133.36" fill="#f97d52"/><polygon points="541.22,141.55 534.14,137.23 539.27,133.07 546.32,137.36" fill="#f7a442"/><polygon points="497.26,138.86 490.37,134.99 495.78,130.17 502.66,134.01" fill="#fa7b52"/><polygon points="528.94,141.65 521.9,137.44 527.12,133.05 534.14,137.23" fill="#f8974a"/><polygon points="484.89,140.07 478.05,136.31 483.54,131.26 490.37,134.99" fill="#fa7e53"/><polygon points="472.5,141.63 465.72,137.97 471.28,132.69 478.05,136.31" fill="#fb8b53"/><polygon points="516.61,142.09 509.6,137.98 514.92,133.36 521.9,137.44" fill="#f98e52"/><polygon points="548.35,146.01 541.22,141.55 546.32,137.36 553.43,141.79" fill="#f7ac40"/><polygon points="504.22,142.86 497.26,138.86 502.66,134.01 509.6,137.98" fill="#f98952"/><polygon points="536.04,146 528.94,141.65 534.14,137.23 541.22,141.55" fill="#f8a848"/><polygon points="491.8,143.97 484.89,140.07 490.37,134.99 497.26,138.86" fill="#fa8b52"/><polygon points="479.36,145.42 472.5,141.63 478.05,136.31 484.89,140.07" fill="#fa9553"/><polygon points="523.67,146.33 516.61,142.09 521.9,137.44 528.94,141.65" fill="#f99f4f"/><polygon points="511.24,146.99 504.22,142.86 509.6,137.98 516.61,142.09" fill="#f99a52"/><polygon points="543.2,150.48 536.04,146 541.22,141.55 548.35,146.01" fill="#f8af45"/><polygon points="498.78,148 491.8,143.97 497.26,138.86 504.22,142.86" fill="#fa9952"/><polygon points="486.28,149.34 479.36,145.42 484.89,140.07 491.8,143.97" fill="#faa053"/><polygon points="530.79,150.71 523.67,146.33 528.94,141.65 536.04,146" fill="#f8ad4d"/><polygon points="518.33,151.27 511.24,146.99 516.61,142.09 523.67,146.33" fill="#f9a952"/><polygon points="505.81,152.16 498.78,148 504.22,142.86 511.24,146.99" fill="#faa752"/><polygon points="537.98,155.22 530.79,150.71 536.04,146 543.2,150.48" fill="#f8b34a"/><polygon points="493.27,153.4 486.28,149.34 491.8,143.97 498.78,148" fill="#faab53"/><polygon points="525.47,155.67 518.33,151.27 523.67,146.33 530.79,150.71" fill="#f9b252"/><polygon points="512.92,156.47 505.81,152.16 511.24,146.99 518.33,151.27" fill="#f9b152"/><polygon points="500.32,157.6 493.27,153.4 498.78,148 505.81,152.16" fill="#fab252"/><polygon points="532.68,160.22 525.47,155.67 530.79,150.71 537.98,155.22" fill="#f9b84f"/><polygon points="520.08,160.91 512.92,156.47 518.33,151.27 525.47,155.67" fill="#f9b752"/><polygon points="507.44,161.93 500.32,157.6 505.81,152.16 512.92,156.47" fill="#fab752"/><polygon points="527.31,165.49 520.08,160.91 525.47,155.67 532.68,160.22" fill="#f9be52"/><polygon points="514.62,166.41 507.44,161.93 512.92,156.47 520.08,160.91" fill="#fabd52"/><polygon points="521.87,171.02 514.62,166.41 520.08,160.91 527.31,165.49" fill="#f9c452"/></g><ellipse cx="505.47" cy="90.08" rx="2.6" ry="3.2" fill="#c00000" stroke="#4a0000" stroke-width="0.8"/><g fill="#000"><circle cx="395.75" cy="165.13" r="1.7"/><circle cx="393.28" cy="140.32" r="1.7"/><circle cx="390.82" cy="115.52" r="1.7"/><circle cx="388.36" cy="90.71" r="1.7"/><circle cx="385.9" cy="65.9" r="1.7"/><circle cx="520.1" cy="262.4" r="1.7"/><circle cx="495.82" cy="248.9" r="1.7"/><circle cx="471.54" cy="235.4" r="1.7"/><circle cx="447.26" cy="221.9" r="1.7"/><circle cx="422.98" cy="208.4" r="1.7"/><circle cx="398.7" cy="194.9" r="1.7"/><circle cx="520.1" cy="262.4" r="1.7"/><circle cx="537.94" cy="245.42" r="1.7"/><circle cx="555.78" cy="228.44" r="1.7"/><circle cx="573.62" cy="211.46" r="1.7"/><circle cx="591.46" cy="194.48" r="1.7"/><circle cx="609.3" cy="177.5" r="1.7"/></g><g font-family="Liberation Serif" font-size="12.1" fill="#111" stroke="#111" stroke-width="0.2" opacity="0.99"><text x="388.75" y="161.73" text-anchor="end">70</text><text x="386.28" y="136.92" text-anchor="end">80</text><text x="383.82" y="112.12" text-anchor="end">90</text><text x="381.36" y="87.31" text-anchor="end">100</text><text x="378.9" y="62.5" text-anchor="end">110</text><text x="513.1" y="273.4" text-anchor="end">5</text><text x="488.82" y="259.9" text-anchor="end">5.2</text><text x="464.54" y="246.4" text-anchor="end">5.4</text><text x="440.26" y="232.9" text-anchor="end">5.6</text><text x="415.98" y="219.4" text-anchor="end">5.8</text><text x="391.7" y="205.9" text-anchor="end">6</text><text x="526.6" y="273.3">50</text><text x="544.44" y="256.32">60</text><text x="562.28" y="239.34">70</text><text x="580.12" y="222.36">80</text><text x="597.96" y="205.38">90</text><text x="615.8" y="188.4">100</text></g><g font-family="Liberation Serif" fill="#111" stroke="#111" stroke-width="0.2" opacity="0.99"><text x="0" y="0" font-size="13.2" text-anchor="middle" transform="translate(350.2,126.7) rotate(-90)">Removal efficiency (%)</text><text x="429.3" y="265.1" font-size="13.2" text-anchor="start">pH</text><text x="577.2" y="252.6" font-size="13.2" text-anchor="start">Conc. (mg/L)</text><text x="539.7" y="305.9" font-size="14.8" text-anchor="middle">(b)</text></g><clipPath id="flc"><polygon points="176.5,608.4 64.4,541.6 190.4,492 305.4,547.9"/></clipPath><path d="M62.15,502.67L190.4,456.95 M190.4,456.95L307.65,508.52 M60.36,471.78L190.4,429.14 M190.4,429.14L309.44,477.26 M58.57,440.89L190.4,401.33 M190.4,401.33L311.23,446.01 M56.79,409.99L190.4,373.51 M190.4,373.51L313.01,414.75 M87.8,493.53L82.08,372.42 M113.45,484.39L109.16,365.74 M139.1,475.24L136.24,359.06 M164.75,466.1L163.32,352.38 M284.2,498.21L289.92,375.94 M260.75,487.89L265.04,368.38 M237.3,477.58L240.16,360.82 M213.85,467.27L215.28,353.26" stroke="#111" stroke-width="1.2" fill="none"/><polyline points="64.4,541.6 55,379.1 190.4,345.7 314.8,383.5 305.4,547.9" stroke="#111" stroke-width="1.2" fill="none" stroke-linejoin="round"/><path d="M190.4,345.7L190.4,492" stroke="#111" stroke-width="1.2"/><polygon points="176.5,608.4 64.4,541.6 190.4,492 305.4,547.9" fill="#636363" stroke="#111" stroke-width="1.3" stroke-linejoin="round"/><g fill="none" stroke-width="2.2" stroke-linejoin="round" stroke-linecap="round" clip-path="url(#flc)"><polyline points="147.73,509.09 147.73,509.12 147.77,509.45 147.79,509.61 147.82,509.81 147.87,510.11 147.88,510.16 147.95,510.52 147.97,510.61 148.03,510.87 148.09,511.13 148.11,511.22 148.21,511.56 148.24,511.67 148.31,511.91 148.4,512.21 148.42,512.25 148.53,512.59 148.6,512.78 148.65,512.92 148.78,513.26 148.82,513.35 148.92,513.59 149.06,513.92 149.07,513.95 149.21,514.25 149.35,514.56 149.36,514.58 149.53,514.9 149.67,515.19 149.69,515.23 149.87,515.55 150.03,515.84 150.05,515.87 150.23,516.19 150.42,516.5 150.43,516.52 150.62,516.82 150.82,517.13 150.88,517.22 151.03,517.44 151.24,517.75 151.38,517.95 151.46,518.06 151.68,518.37 151.91,518.67 151.94,518.72 152.15,518.98 152.38,519.28 152.58,519.52 152.63,519.58 152.88,519.88 153.13,520.18 153.29,520.36 153.39,520.48 153.65,520.77 153.92,521.07 154.1,521.26 154.19,521.36 154.47,521.65 154.75,521.94 155.02,522.22 155.03,522.23 155.32,522.52 155.62,522.81 155.91,523.09 156.09,523.26 156.22,523.38 156.52,523.66 156.83,523.94 157.15,524.23 157.35,524.4 157.47,524.51 157.79,524.78 158.12,525.06 158.45,525.34 158.79,525.61 158.87,525.68 159.12,525.89 159.47,526.16 159.82,526.43 160.17,526.71 160.52,526.98 160.79,527.17 160.88,527.24 161.24,527.51 161.61,527.78 161.98,528.05 162.35,528.31 162.73,528.57 163.11,528.84 163.43,529.05 163.5,529.1 163.89,529.36 164.28,529.62 164.68,529.88 165.08,530.13 165.48,530.39 165.89,530.65 166.3,530.9 166.71,531.16 167.13,531.41 167.55,531.66 167.98,531.91 168.4,532.16 168.43,532.17 168.84,532.41 169.27,532.66 169.71,532.9 170.15,533.15 170.6,533.39 171.05,533.64 171.5,533.88 171.96,534.12 172.42,534.36 172.88,534.6 173.35,534.84 173.82,535.08 174.29,535.32 174.77,535.55 175.25,535.79 175.67,535.99 175.73,536.02 176.22,536.25 176.71,536.49 177.21,536.72 177.7,536.95 178.2,537.17 178.71,537.4 179.22,537.63 179.73,537.86 180.24,538.08 180.76,538.3 181.28,538.53 181.8,538.75 182.04,538.85 182.33,538.97 182.86,539.19 183.4,539.41 183.94,539.63 184.48,539.84 185.02,540.06 185.57,540.27 186.04,540.46 186.12,540.49 186.68,540.7 187.24,540.91 187.8,541.12 188.37,541.33 188.94,541.54 189.32,541.68 189.51,541.75 190.08,541.95 190.66,542.16 191.25,542.36 191.83,542.57 192.2,542.69 192.42,542.77 193.02,542.97 193.61,543.17 194.21,543.37 194.82,543.57 194.82,543.57 195.43,543.76 196.04,543.96 196.65,544.15 197.24,544.34 197.27,544.34 197.89,544.53 198.52,544.72 199.15,544.91 199.52,545.03 199.78,545.1 200.41,545.29 201.05,545.47 201.68,545.65 201.7,545.66 202.35,545.84 203,546.02 203.65,546.2 203.74,546.23 204.31,546.38 204.97,546.56 205.64,546.74 205.71,546.76 206.31,546.91 206.98,547.09 207.62,547.25 207.66,547.26 208.34,547.43 209.03,547.6 209.46,547.71 209.71,547.77 210.41,547.94 211.11,548.1 211.25,548.14 211.81,548.27 212.51,548.43 212.98,548.54 213.22,548.59 213.93,548.75 214.65,548.91 214.67,548.91 215.37,549.07 216.1,549.22 216.32,549.27 216.83,549.38 217.56,549.53 217.94,549.6 218.3,549.68 219.05,549.83 219.51,549.92 219.79,549.97 220.54,550.12 221.06,550.22 221.3,550.26 222.06,550.41 222.57,550.5 222.83,550.55 223.6,550.68 224.06,550.77 224.37,550.82 225.15,550.96 225.52,551.02 225.93,551.09 226.72,551.22 226.95,551.26 227.52,551.35 228.31,551.48 228.37,551.49 229.12,551.6 229.75,551.7 229.93,551.73 230.74,551.85 231.12,551.9 231.56,551.97 232.38,552.09 232.47,552.1 233.21,552.2 233.8,552.28 234.05,552.31 234.89,552.42 235.1,552.45 235.73,552.53 236.4,552.61 236.58,552.64 237.44,552.74 237.67,552.77 238.3,552.84 238.93,552.91 239.17,552.94 240.05,553.04 240.17,553.05 240.93,553.13 241.4,553.18 241.81,553.22 242.61,553.3 242.71,553.31 243.61,553.39 243.8,553.41 244.51,553.48 244.99,553.52 245.43,553.56 246.16,553.62 246.35,553.63 247.27,553.71 247.31,553.71 248.21,553.78 248.46,553.79 249.15,553.84 249.59,553.87 250.1,553.91 250.7,553.95 251.06,553.97 251.81,554.01 252.02,554.02 252.91,554.07 253,554.08 253.98,554.13 253.99,554.13 254.97,554.17 255.06,554.18 255.97,554.21 256.12,554.22 256.98,554.25 257.18,554.26 258,554.28 258.22,554.29 259.03,554.31 259.25,554.32 260.06,554.33 260.27,554.34 261.11,554.35 261.28,554.36 262.17,554.37 262.28,554.37 263.24,554.38 263.27,554.38 264.25,554.38 264.32,554.38 265.22,554.38 265.42,554.38 266.19,554.37 266.53,554.37 267.14,554.36 267.65,554.35 268.09,554.34 268.78,554.33 269.02,554.32 269.93,554.3 269.95,554.3 270.87,554.27 271.1,554.26 271.78,554.24 272.28,554.22 272.69,554.2 273.48,554.17 273.58,554.16 274.47,554.12 274.7,554.11 275.34,554.07 275.94,554.04 276.22,554.02 277.08,553.97 277.19,553.96 277.93,553.91 278.48,553.87 278.78,553.84 279.62,553.78 279.78,553.76 280.45,553.71 281.11,553.65 281.27,553.63 282.09,553.56 282.47,553.52 282.9,553.47 283.7,553.39 283.87,553.37 284.5,553.3 285.28,553.21 285.29,553.21 286.06,553.12 286.76,553.03 286.84,553.02 287.6,552.92 288.27,552.83 288.36,552.82 289.11,552.71 289.83,552.6 289.86,552.6 290.59,552.48 291.32,552.37 291.45,552.35 292.05,552.25 292.76,552.12 293.14,552.06 293.47,552 294.18,551.87 294.87,551.74 294.91,551.73 295.56,551.6 296.25,551.46 296.78,551.35" stroke="#ff0000"/><polyline points="116.62,520.97 116.84,521.27 116.87,521.32 117.06,521.58 117.29,521.88 117.51,522.16 117.52,522.18 117.76,522.48 117.99,522.78 118.21,523.05 118.23,523.08 118.48,523.37 118.73,523.67 118.98,523.97 118.98,523.97 119.23,524.26 119.49,524.56 119.75,524.85 119.83,524.94 120.02,525.15 120.29,525.44 120.56,525.73 120.78,525.97 120.83,526.02 121.11,526.31 121.39,526.6 121.67,526.89 121.84,527.05 121.96,527.18 122.25,527.46 122.55,527.75 122.84,528.04 123.04,528.22 123.14,528.32 123.45,528.61 123.75,528.89 124.06,529.17 124.37,529.45 124.41,529.49 124.69,529.74 125.01,530.02 125.33,530.3 125.65,530.58 125.98,530.85 126.01,530.88 126.31,531.13 126.64,531.41 126.98,531.69 127.32,531.96 127.66,532.24 127.93,532.46 128,532.51 128.35,532.79 128.7,533.06 129.05,533.33 129.41,533.61 129.77,533.88 130.13,534.15 130.35,534.31 130.5,534.42 130.86,534.69 131.23,534.96 131.61,535.22 131.98,535.49 132.36,535.76 132.74,536.03 133.13,536.29 133.51,536.56 133.71,536.69 133.9,536.82 134.3,537.08 134.69,537.35 135.09,537.61 135.49,537.87 135.9,538.13 136.3,538.39 136.71,538.65 137.12,538.91 137.54,539.17 137.95,539.43 138.37,539.69 138.8,539.94 139.22,540.2 139.65,540.45 140.08,540.71 140.51,540.96 140.95,541.22 141.19,541.36 141.39,541.47 141.83,541.72 142.27,541.97 142.72,542.23 143.17,542.48 143.62,542.73 144.08,542.97 144.53,543.22 144.99,543.47 145.35,543.66 145.46,543.72 145.92,543.96 146.39,544.21 146.86,544.46 147.33,544.7 147.81,544.95 148.29,545.19 148.77,545.43 149.25,545.67 149.74,545.91 150.23,546.16 150.72,546.4 151.21,546.64 151.71,546.87 152.21,547.11 152.71,547.35 153.22,547.59 153.72,547.82 154.23,548.06 154.31,548.09 154.75,548.29 155.26,548.53 155.78,548.76 156.3,548.99 156.82,549.23 157.35,549.46 157.88,549.69 158.41,549.92 158.94,550.15 159.15,550.24 159.48,550.38 160.02,550.61 160.56,550.83 161.11,551.06 161.65,551.29 162.2,551.51 162.75,551.74 163.04,551.85 163.31,551.96 163.87,552.18 164.43,552.41 164.99,552.63 165.56,552.85 166.12,553.07 166.44,553.19 166.69,553.29 167.27,553.51 167.85,553.73 168.42,553.94 169.01,554.16 169.51,554.35 169.59,554.38 170.18,554.59 170.77,554.81 171.36,555.02 171.95,555.23 172.35,555.37 172.55,555.45 173.15,555.66 173.76,555.87 174.36,556.08 174.97,556.29 175.02,556.3 175.58,556.49 176.2,556.7 176.81,556.91 177.43,557.12 177.54,557.15 178.06,557.32 178.68,557.52 179.31,557.73 179.94,557.93 179.95,557.93 180.58,558.13 181.21,558.33 181.85,558.53 182.26,558.66 182.49,558.73 183.14,558.93 183.79,559.13 184.44,559.33 184.48,559.34 185.09,559.52 185.75,559.72 186.41,559.91 186.64,559.98 187.07,560.1 187.73,560.3 188.4,560.49 188.73,560.58 189.07,560.68 189.75,560.87 190.42,561.06 190.76,561.15 191.1,561.25 191.78,561.43 192.47,561.62 192.74,561.69 193.16,561.8 193.85,561.99 194.54,562.17 194.67,562.2 195.24,562.35 195.94,562.53 196.56,562.69 196.65,562.71 197.35,562.89 198.06,563.07 198.41,563.16 198.77,563.25 199.49,563.42 200.21,563.6 200.22,563.6 200.93,563.77 201.66,563.95 202,564.03 202.38,564.12 203.11,564.29 203.75,564.44 203.85,564.46 204.59,564.63 205.33,564.79 205.47,564.83 206.07,564.96 206.82,565.13 207.16,565.2 207.57,565.29 208.32,565.45 208.82,565.56 209.08,565.62 209.84,565.78 210.46,565.91 210.6,565.94 211.37,566.09 212.07,566.24 212.14,566.25 212.91,566.41 213.67,566.56 213.69,566.56 214.47,566.71 215.24,566.86 215.25,566.87 216.04,567.02 216.79,567.16 216.83,567.17 217.63,567.32 218.32,567.44 218.42,567.46 219.23,567.61 219.83,567.72 220.03,567.75 220.84,567.9 221.33,567.98 221.65,568.04 222.47,568.18 222.8,568.23 223.29,568.32 224.11,568.45 224.26,568.48 224.94,568.59 225.71,568.71 225.77,568.72 226.6,568.86 227.14,568.94 227.44,568.99 228.28,569.12 228.55,569.16 229.13,569.24 229.95,569.37 229.98,569.37 230.83,569.5 231.34,569.57 231.69,569.62 232.56,569.74 232.71,569.76 233.42,569.86 234.07,569.95 234.29,569.98 235.17,570.1 235.42,570.13 236.05,570.21 236.75,570.3 236.93,570.33 237.82,570.44 238.07,570.47 238.71,570.55 239.38,570.63 239.6,570.65 240.5,570.76 240.68,570.78 241.41,570.86 241.97,570.93 242.32,570.97 243.23,571.07 243.24,571.07 244.15,571.16 244.51,571.2 245.08,571.26 245.76,571.33 246,571.35 246.94,571.45 247,571.45 247.88,571.54 248.24,571.57 248.82,571.62 249.46,571.68 249.77,571.71 250.68,571.79 250.72,571.79 251.68,571.87 251.88,571.89 252.64,571.95 253.08,571.99 253.61,572.03" stroke="#ff7c00"/><polyline points="94.67,529.35 94.84,529.54 94.94,529.64 95.21,529.93 95.49,530.22 95.77,530.51 95.94,530.69 96.05,530.8 96.33,531.09 96.62,531.38 96.9,531.67 97.16,531.93 97.19,531.96 97.49,532.24 97.79,532.53 98.08,532.82 98.39,533.1 98.54,533.25 98.69,533.39 99,533.67 99.31,533.96 99.62,534.24 99.93,534.52 100.12,534.69 100.25,534.81 100.57,535.09 100.89,535.37 101.21,535.65 101.54,535.93 101.87,536.21 101.96,536.29 102.2,536.49 102.54,536.77 102.87,537.05 103.21,537.33 103.55,537.6 103.9,537.88 104.17,538.1 104.24,538.16 104.59,538.43 104.94,538.71 105.3,538.99 105.66,539.26 106.01,539.53 106.38,539.81 106.74,540.08 106.97,540.26 107.1,540.35 107.47,540.63 107.84,540.9 108.22,541.17 108.59,541.44 108.97,541.71 109.35,541.98 109.73,542.25 110.12,542.52 110.51,542.79 110.9,543.06 110.97,543.11 111.29,543.33 111.68,543.59 112.08,543.86 112.48,544.13 112.88,544.39 113.29,544.66 113.69,544.92 114.1,545.19 114.51,545.45 114.93,545.71 115.34,545.98 115.76,546.24 116.18,546.5 116.6,546.76 117.03,547.02 117.46,547.28 117.89,547.54 118.32,547.8 118.75,548.06 119.19,548.32 119.63,548.58 120.07,548.84 120.51,549.1 120.96,549.35 121.41,549.61 121.86,549.86 122.31,550.12 122.77,550.37 123.23,550.63 123.69,550.88 124.15,551.14 124.61,551.39 125.08,551.64 125.55,551.89 126.02,552.15 126.49,552.4 126.97,552.65 127.45,552.9 127.93,553.15 128.41,553.4 128.9,553.64 129.38,553.89 129.87,554.14 130.37,554.39 130.86,554.63 131.36,554.88 131.61,555 131.86,555.13 132.36,555.37 132.86,555.61 133.37,555.86 133.87,556.1 134.39,556.35 134.9,556.59 135.41,556.83 135.93,557.07 136.45,557.31 136.97,557.55 137.17,557.65 137.5,557.79 138.02,558.03 138.55,558.27 139.08,558.51 139.62,558.75 140.15,558.98 140.69,559.22 141.23,559.46 141.54,559.59 141.77,559.69 142.32,559.93 142.87,560.16 143.42,560.4 143.97,560.63 144.52,560.86 145.08,561.1 145.31,561.19 145.64,561.33 146.2,561.56 146.77,561.79 147.33,562.02 147.9,562.25 148.47,562.48 148.71,562.58 149.04,562.71 149.62,562.94 150.2,563.16 150.78,563.39 151.36,563.62 151.85,563.8 151.95,563.84 152.53,564.07 153.12,564.29 153.71,564.51 154.31,564.74 154.78,564.91 154.91,564.96 155.51,565.18 156.11,565.4 156.71,565.62 157.32,565.84 157.56,565.93 157.93,566.06 158.54,566.28 159.15,566.5 159.77,566.72 160.21,566.87 160.39,566.94 161.01,567.15 161.63,567.37 162.26,567.58 162.74,567.75 162.88,567.8 163.51,568.01 164.15,568.22 164.78,568.44 165.19,568.57 165.42,568.65 166.06,568.86 166.7,569.07 167.35,569.28 167.55,569.35 168,569.49 168.65,569.7 169.3,569.91 169.85,570.08 169.95,570.11 170.61,570.32 171.27,570.52 171.93,570.73 172.08,570.78 172.6,570.93 173.27,571.14 173.94,571.34 174.25,571.44 174.61,571.54 175.29,571.74 175.96,571.94 176.38,572.07 176.64,572.14 177.33,572.34 178.01,572.54 178.45,572.67 178.7,572.74 179.39,572.94 180.08,573.13 180.49,573.25 180.78,573.33 181.48,573.52 182.18,573.72 182.48,573.8 182.88,573.91 183.59,574.1 184.3,574.29 184.44,574.33 185.01,574.48 185.72,574.67 186.36,574.84 186.44,574.86 187.16,575.05 187.88,575.24 188.25,575.33 188.6,575.43 189.33,575.61 190.06,575.8 190.11,575.81 190.79,575.98 191.53,576.16 191.94,576.26 192.27,576.35 193.01,576.53 193.75,576.71 193.75,576.71 194.5,576.89 195.25,577.07 195.53,577.13 196,577.24 196.75,577.42 197.28,577.54 197.51,577.6 198.27,577.77 199.02,577.94 199.03,577.95 199.8,578.12 200.57,578.29 200.73,578.33 201.34,578.46 202.12,578.63 202.42,578.7 202.89,578.8 203.67,578.97 204.09,579.06 204.46,579.14 205.24,579.3 205.74,579.41 206.03,579.47 206.82,579.63 207.38,579.75 207.62,579.8 208.42,579.96 208.99,580.07 209.22,580.12 210.02,580.28 210.59,580.39 210.83,580.44 211.64,580.59 212.18,580.7 212.45,580.75 213.27,580.91 213.74,581 214.08,581.06 214.91,581.22 215.3,581.29 215.73,581.37 216.56,581.52 216.83,581.57 217.39,581.67 218.23,581.82 218.36,581.84 219.06,581.96 219.87,582.1 219.91,582.11 220.75,582.26 221.36,582.36 221.6,582.4 222.45,582.54 222.85,582.61 223.3,582.68 224.16,582.82 224.32,582.85 225.02,582.96 225.77,583.08 225.88,583.1 226.75,583.24 227.22,583.31 227.62,583.37 228.5,583.5 228.66,583.53 229.37,583.64" stroke="#ffdf00"/><polyline points="76.33,536.35 76.63,536.64 76.92,536.93 77.22,537.22 77.26,537.25 77.52,537.5 77.83,537.79 78.14,538.08 78.44,538.36 78.75,538.65 78.92,538.79 79.07,538.93 79.38,539.22 79.7,539.5 80.02,539.79 80.34,540.07 80.67,540.35 80.84,540.5 80.99,540.63 81.32,540.92 81.65,541.2 81.99,541.48 82.32,541.76 82.66,542.04 83,542.32 83.13,542.43 83.34,542.6 83.69,542.88 84.03,543.16 84.38,543.44 84.73,543.72 85.09,544 85.44,544.28 85.8,544.55 86,544.71 86.16,544.83 86.52,545.11 86.88,545.38 87.25,545.66 87.62,545.94 87.99,546.21 88.36,546.49 88.74,546.76 89.11,547.04 89.49,547.31 89.87,547.58 89.96,547.64 90.26,547.86 90.64,548.13 91.03,548.4 91.42,548.67 91.81,548.94 92.21,549.22 92.6,549.49 93,549.76 93.4,550.03 93.81,550.3 94.21,550.57 94.62,550.83 95.03,551.1 95.44,551.37 95.85,551.64 96.27,551.91 96.68,552.17 97.1,552.44 97.52,552.71 97.95,552.97 98.37,553.24 98.79,553.49 98.8,553.5 99.23,553.77 99.67,554.03 100.1,554.3 100.54,554.56 100.97,554.82 101.42,555.09 101.86,555.35 102.3,555.61 102.75,555.87 103.2,556.14 103.39,556.24 103.65,556.4 104.1,556.66 104.56,556.92 105.02,557.18 105.48,557.44 105.94,557.7 106.4,557.95 106.87,558.21 107.34,558.47 107.81,558.73 108.28,558.98 108.75,559.24 109.23,559.5 109.71,559.75 110.19,560.01 110.67,560.26 111.16,560.52 111.65,560.77 112.14,561.03 112.63,561.28 113.12,561.53 113.62,561.79 113.87,561.91 114.11,562.04 114.61,562.29 115.11,562.54 115.62,562.79 116.12,563.04 116.63,563.29 117.14,563.54 117.66,563.79 118.17,564.04 118.69,564.29 119.21,564.54 119.47,564.67 119.73,564.79 120.25,565.03 120.77,565.28 121.3,565.53 121.83,565.77 122.36,566.02 122.9,566.26 123.43,566.51 123.97,566.75 123.98,566.76 124.51,567 125.05,567.24 125.6,567.48 126.14,567.72 126.69,567.97 127.24,568.21 127.79,568.45 127.91,568.5 128.35,568.69 128.91,568.93 129.47,569.17 130.03,569.41 130.59,569.65 131.16,569.89 131.47,570.01 131.72,570.12 132.29,570.36 132.87,570.6 133.44,570.83 134.02,571.07 134.6,571.3 134.76,571.37 135.18,571.54 135.76,571.77 136.34,572.01 136.93,572.24 137.52,572.47 137.84,572.6 138.11,572.71 138.71,572.94 139.3,573.17 139.9,573.4 140.5,573.63 140.77,573.73 141.1,573.86 141.71,574.09 142.32,574.32 142.92,574.55 143.54,574.78 143.56,574.79 144.15,575 144.77,575.23 145.38,575.46 146,575.68 146.25,575.77 146.63,575.91 147.25,576.13 147.88,576.36 148.51,576.58 148.83,576.7 149.14,576.8 149.77,577.03 150.41,577.25 151.04,577.47 151.34,577.57 151.69,577.69 152.33,577.91 152.97,578.13 153.62,578.35 153.77,578.4 154.27,578.57 154.92,578.79 155.57,579 156.13,579.19 156.23,579.22 156.89,579.44 157.55,579.65 158.21,579.87 158.44,579.94 158.88,580.08 159.55,580.3 160.22,580.51 160.7,580.66 160.89,580.72 161.56,580.93 162.24,581.15 162.9,581.35 162.92,581.36 163.6,581.57 164.28,581.78 164.97,581.98 165.06,582.01 165.66,582.19 166.35,582.4 167.04,582.61 167.18,582.65 167.74,582.81 168.44,583.02 169.14,583.22 169.26,583.26 169.84,583.43 170.54,583.63 171.25,583.84 171.31,583.85 171.96,584.04 172.67,584.24 173.32,584.42 173.39,584.44 174.1,584.64 174.82,584.84 175.31,584.97 175.54,585.04 176.27,585.24 177,585.43 177.26,585.51 177.72,585.63 178.46,585.83 179.19,586.02 179.19,586.02 179.93,586.22 180.67,586.41 181.08,586.52 181.41,586.6 182.15,586.8 182.9,586.99 182.96,587 183.65,587.18 184.4,587.37 184.81,587.47 185.15,587.56 185.91,587.75 186.64,587.93 186.67,587.93 187.43,588.12 188.19,588.31 188.45,588.37 188.96,588.49 189.73,588.68 190.24,588.8 190.5,588.86 191.27,589.04 192,589.22 192.05,589.23 192.83,589.41 193.61,589.59 193.75,589.62 194.4,589.77 195.18,589.95 195.48,590.01 195.97,590.12 196.76,590.3 197.2,590.4 197.56,590.48 198.36,590.65 198.9,590.77 199.16,590.83 199.96,591 200.58,591.13 200.77,591.17 201.58,591.34 202.24,591.48 202.39,591.51 203.2,591.68 203.89,591.83 204.02,591.85 204.84,592.02 205.53,592.16 205.66,592.19 206.48,592.35 207.15,592.49 207.31,592.52 208.14,592.68 208.76,592.8 208.97,592.85 209.81,593.01" stroke="#a6ff00"/><polyline points="137.53,585.33 137.72,585.4 138.36,585.63 139,585.86 139.65,586.08 140.04,586.22 140.3,586.31 140.94,586.54 141.6,586.77 142.25,586.99 142.49,587.08 142.9,587.22 143.56,587.44 144.22,587.67 144.88,587.89 144.88,587.89 145.54,588.12 146.21,588.34 146.88,588.56 147.22,588.68 147.55,588.79 148.22,589.01 148.9,589.23 149.51,589.43 149.57,589.45 150.25,589.67 150.93,589.89 151.61,590.11 151.75,590.16 152.3,590.33 152.99,590.55 153.68,590.76 153.96,590.85 154.37,590.98 155.06,591.2 155.76,591.41 156.13,591.53 156.46,591.63 157.16,591.84 157.86,592.06 158.26,592.18 158.57,592.27 159.28,592.48 159.98,592.7 160.36,592.81 160.7,592.91 161.41,593.12 162.13,593.33 162.43,593.42 162.85,593.54 163.57,593.75 164.29,593.96 164.47,594.01 165.02,594.17 165.74,594.37 166.47,594.58 166.49,594.59 167.21,594.79 167.94,594.99 168.47,595.14 168.68,595.2 169.42,595.4 170.16,595.61 170.44,595.68 170.9,595.81 171.65,596.01 172.38,596.21 172.4,596.21 173.15,596.41 173.9,596.61 174.29,596.72 174.66,596.81 175.41,597.01 176.17,597.21 176.19,597.21 176.94,597.41 177.7,597.61 178.06,597.7 178.47,597.8 179.24,598 179.92,598.17 180.01,598.19 180.78,598.39 181.56,598.58 181.75,598.63 182.34,598.77 183.12,598.96 183.57,599.07 183.91,599.15 184.69,599.35 185.37,599.51 185.48,599.53 186.27,599.72 187.07,599.91 187.16,599.93 187.86,600.1 188.66,600.29 188.92,600.35 189.46,600.47 190.26,600.66 190.68,600.75 191.07,600.84 191.88,601.02 192.41,601.14 192.69,601.21" stroke="#22ed00"/></g><polygon points="176.5,608.4 64.4,541.6 190.4,492 305.4,547.9" fill="none" stroke="#111" stroke-width="1.3" stroke-linejoin="round"/><g stroke="#201010" stroke-width="0.65" stroke-opacity="0.82" stroke-linejoin="round"><polygon points="189.86,380.41 184.44,379.35 190.44,377.77 195.86,378.8" fill="#fa524f"/><polygon points="183.79,382.21 178.39,381.12 184.44,379.35 189.86,380.41" fill="#fa5553"/><polygon points="195.34,381.58 189.86,380.41 195.86,378.8 201.36,379.94" fill="#fa514e"/><polygon points="177.66,384.19 172.26,383.07 178.39,381.12 183.79,382.21" fill="#fa5553"/><polygon points="189.27,383.41 183.79,382.21 189.86,380.41 195.34,381.58" fill="#fa5552"/><polygon points="200.9,382.87 195.34,381.58 201.36,379.94 206.92,381.19" fill="#fa514e"/><polygon points="171.46,386.37 166.08,385.21 172.26,383.07 177.66,384.19" fill="#fb5653"/><polygon points="183.13,385.44 177.66,384.19 183.79,382.21 189.27,383.41" fill="#fa5553"/><polygon points="194.81,384.74 189.27,383.41 195.34,381.58 200.9,382.87" fill="#fa5451"/><polygon points="206.52,384.29 200.9,382.87 206.92,381.19 212.55,382.57" fill="#fa504d"/><polygon points="165.21,388.74 159.83,387.54 166.08,385.21 171.46,386.37" fill="#fb5653"/><polygon points="176.92,387.65 171.46,386.37 177.66,384.19 183.13,385.44" fill="#fb5553"/><polygon points="188.66,386.8 183.13,385.44 189.27,383.41 194.81,384.74" fill="#fa5553"/><polygon points="200.43,386.2 194.81,384.74 200.9,382.87 206.52,384.29" fill="#fa5351"/><polygon points="212.22,385.83 206.52,384.29 212.55,382.57 218.25,384.08" fill="#fa4f4c"/><polygon points="158.88,391.31 153.52,390.07 159.83,387.54 165.21,388.74" fill="#fb5953"/><polygon points="170.65,390.06 165.21,388.74 171.46,386.37 176.92,387.65" fill="#fb5653"/><polygon points="182.45,389.06 176.92,387.65 183.13,385.44 188.66,386.8" fill="#fb5553"/><polygon points="194.27,388.3 188.66,386.8 194.81,384.74 200.43,386.2" fill="#fa5553"/><polygon points="206.12,387.77 200.43,386.2 206.52,384.29 212.22,385.83" fill="#fa5350"/><polygon points="152.5,394.08 147.15,392.79 153.52,390.07 158.88,391.31" fill="#fc5c53"/><polygon points="217.98,387.49 212.22,385.83 218.25,384.08 224.02,385.7" fill="#f94e4b"/><polygon points="164.31,392.67 158.88,391.31 165.21,388.74 170.65,390.06" fill="#fb5653"/><polygon points="176.16,391.51 170.65,390.06 176.92,387.65 182.45,389.06" fill="#fb5653"/><polygon points="188.04,390.59 182.45,389.06 188.66,386.8 194.27,388.3" fill="#fb5553"/><polygon points="199.95,389.91 194.27,388.3 200.43,386.2 206.12,387.77" fill="#fa5553"/><polygon points="146.05,397.04 140.72,395.72 147.15,392.79 152.5,394.08" fill="#fc6053"/><polygon points="211.87,389.48 206.12,387.77 212.22,385.83 217.98,387.49" fill="#fa524f"/><polygon points="223.82,389.29 217.98,387.49 224.02,385.7 229.86,387.46" fill="#f94d4b"/><polygon points="157.91,395.48 152.5,394.08 158.88,391.31 164.31,392.67" fill="#fb5953"/><polygon points="169.82,394.16 164.31,392.67 170.65,390.06 176.16,391.51" fill="#fb5653"/><polygon points="181.75,393.08 176.16,391.51 182.45,389.06 188.04,390.59" fill="#fb5553"/><polygon points="139.54,400.21 134.22,398.84 140.72,395.72 146.05,397.04" fill="#fc6453"/><polygon points="193.71,392.25 188.04,390.59 194.27,388.3 199.95,389.91" fill="#fa5553"/><polygon points="205.7,391.66 199.95,389.91 206.12,387.77 211.87,389.48" fill="#fa5552"/><polygon points="151.45,398.49 146.05,397.04 152.5,394.08 157.91,395.48" fill="#fc5d53"/><polygon points="217.7,391.31 211.87,389.48 217.98,387.49 223.82,389.29" fill="#fa514e"/><polygon points="229.73,391.21 223.82,389.29 229.86,387.46 235.78,389.34" fill="#f94c4a"/><polygon points="163.4,397.01 157.91,395.48 164.31,392.67 169.82,394.16" fill="#fb5753"/><polygon points="175.39,395.78 169.82,394.16 176.16,391.51 181.75,393.08" fill="#fb5653"/><polygon points="132.97,403.59 127.67,402.17 134.22,398.84 139.54,400.21" fill="#fc6b53"/><polygon points="187.41,394.79 181.75,393.08 188.04,390.59 193.71,392.25" fill="#fb5553"/><polygon points="199.45,394.04 193.71,392.25 199.95,389.91 205.7,391.66" fill="#fa5553"/><polygon points="144.93,401.71 139.54,400.21 146.05,397.04 151.45,398.49" fill="#fc6253"/><polygon points="211.52,393.53 205.7,391.66 211.87,389.48 217.7,391.31" fill="#fa5452"/><polygon points="156.93,400.07 151.45,398.49 157.91,395.48 163.4,397.01" fill="#fc5b53"/><polygon points="223.61,393.28 217.7,391.31 223.82,389.29 229.73,391.21" fill="#fa504d"/><polygon points="235.71,393.27 229.73,391.21 235.78,389.34 241.77,391.36" fill="#f94b49"/><polygon points="168.97,398.68 163.4,397.01 169.82,394.16 175.39,395.78" fill="#fb5653"/><polygon points="126.34,407.17 121.06,405.71 127.67,402.17 132.97,403.59" fill="#fc8a53"/><polygon points="181.04,397.52 175.39,395.78 181.75,393.08 187.41,394.79" fill="#fb5653"/><polygon points="138.34,405.13 132.97,403.59 139.54,400.21 144.93,401.71" fill="#fc6753"/><polygon points="193.14,396.62 187.41,394.79 193.71,392.25 199.45,394.04" fill="#fb5553"/><polygon points="205.27,395.96 199.45,394.04 205.7,391.66 211.52,393.53" fill="#fa5553"/><polygon points="150.39,403.33 144.93,401.71 151.45,398.49 156.93,400.07" fill="#fc6053"/><polygon points="217.41,395.54 211.52,393.53 217.7,391.31 223.61,393.28" fill="#fa5351"/><polygon points="162.48,401.78 156.93,400.07 163.4,397.01 168.97,398.68" fill="#fc5953"/><polygon points="229.58,395.38 223.61,393.28 229.73,391.21 235.71,393.27" fill="#fa4f4c"/><polygon points="119.65,410.97 114.38,409.45 121.06,405.71 126.34,407.17" fill="#fd9c53"/><polygon points="241.76,395.46 235.71,393.27 241.77,391.36 247.82,393.51" fill="#f94a48"/><polygon points="174.6,400.47 168.97,398.68 175.39,395.78 181.04,397.52" fill="#fb5653"/><polygon points="131.69,408.77 126.34,407.17 132.97,403.59 138.34,405.13" fill="#fc7e53"/><polygon points="186.76,399.4 181.04,397.52 187.41,394.79 193.14,396.62" fill="#fb5653"/><polygon points="143.79,406.81 138.34,405.13 144.93,401.71 150.39,403.33" fill="#fc6553"/><polygon points="198.94,398.58 193.14,396.62 199.45,394.04 205.27,395.96" fill="#fb5553"/><polygon points="211.15,398.01 205.27,395.96 211.52,393.53 217.41,395.54" fill="#fa5553"/><polygon points="112.9,414.97 107.65,413.4 114.38,409.45 119.65,410.97" fill="#fda853"/><polygon points="155.92,405.09 150.39,403.33 156.93,400.07 162.48,401.78" fill="#fc5e53"/><polygon points="223.38,397.69 217.41,395.54 223.61,393.28 229.58,395.38" fill="#fa524f"/><polygon points="235.63,397.61 229.58,395.38 235.71,393.27 241.76,395.46" fill="#f94e4b"/><polygon points="168.1,403.62 162.48,401.78 168.97,398.68 174.6,400.47" fill="#fb5853"/><polygon points="124.98,412.61 119.65,410.97 126.34,407.17 131.69,408.77" fill="#fd9953"/><polygon points="247.89,397.79 241.76,395.46 247.82,393.51 253.96,395.79" fill="#f94946"/><polygon points="180.31,402.39 174.6,400.47 181.04,397.52 186.76,399.4" fill="#fb5653"/><polygon points="137.12,410.49 131.69,408.77 138.34,405.13 143.79,406.81" fill="#fc7353"/><polygon points="192.55,401.41 186.76,399.4 193.14,396.62 198.94,398.58" fill="#fb5553"/><polygon points="106.09,419.19 100.86,417.57 107.65,413.4 112.9,414.97" fill="#fdb653"/><polygon points="204.82,400.68 198.94,398.58 205.27,395.96 211.15,398.01" fill="#fa5553"/><polygon points="149.31,408.61 143.79,406.81 150.39,403.33 155.92,405.09" fill="#fc6353"/><polygon points="217.11,400.2 211.15,398.01 217.41,395.54 223.38,397.69" fill="#fa5553"/><polygon points="161.53,406.98 155.92,405.09 162.48,401.78 168.1,403.62" fill="#fc5d53"/><polygon points="118.22,416.67 112.9,414.97 119.65,410.97 124.98,412.61" fill="#fda453"/><polygon points="229.43,399.97 223.38,397.69 229.58,395.38 235.63,397.61" fill="#fa514e"/><polygon points="241.75,399.99 235.63,397.61 241.76,395.46 247.89,397.79" fill="#f94d4a"/><polygon points="173.79,405.59 168.1,403.62 174.6,400.47 180.31,402.39" fill="#fb5753"/><polygon points="254.09,400.26 247.89,397.79 253.96,395.79 260.16,398.22" fill="#f94845"/><polygon points="130.4,414.39 124.98,412.61 131.69,408.77 137.12,410.49" fill="#fc9353"/><polygon points="186.09,404.45 180.31,402.39 186.76,399.4 192.55,401.41" fill="#fb5653"/><polygon points="99.22,423.63 94.02,421.95 100.86,417.57 106.09,419.19" fill="#fdca54"/><polygon points="142.62,412.35 137.12,410.49 143.79,406.81 149.31,408.61" fill="#fc6a53"/><polygon points="198.42,403.56 192.55,401.41 198.94,398.58 204.82,400.68" fill="#fb5553"/><polygon points="210.77,402.92 204.82,400.68 211.15,398.01 217.11,400.2" fill="#fa5553"/><polygon points="111.39,420.94 106.09,419.19 112.9,414.97 118.22,416.67" fill="#fdb153"/><polygon points="154.9,410.55 149.31,408.61 155.92,405.09 161.53,406.98" fill="#fc6253"/><polygon points="223.15,402.53 217.11,400.2 223.38,397.69 229.43,399.97" fill="#fa5452"/><polygon points="167.21,409 161.53,406.98 168.1,403.62 173.79,405.59" fill="#fc5c53"/><polygon points="235.54,402.39 229.43,399.97 235.63,397.61 241.75,399.99" fill="#fa504d"/><polygon points="123.61,418.5 118.22,416.67 124.98,412.61 130.4,414.39" fill="#fda153"/><polygon points="247.95,402.5 241.75,399.99 247.89,397.79 254.09,400.26" fill="#f94b49"/><polygon points="92.3,428.28 87.12,426.55 94.02,421.95 99.22,423.63" fill="#fde154"/><polygon points="179.57,407.7 173.79,405.59 180.31,402.39 186.09,404.45" fill="#fb5653"/><polygon points="260.37,402.87 254.09,400.26 260.16,398.22 266.44,400.78" fill="#f94744"/><polygon points="135.88,416.3 130.4,414.39 137.12,410.49 142.62,412.35" fill="#fc8c53"/><polygon points="191.95,406.65 186.09,404.45 192.55,401.41 198.42,403.56" fill="#fb5653"/><polygon points="104.5,425.44 99.22,423.63 106.09,419.19 111.39,420.94" fill="#fdc553"/><polygon points="148.2,414.34 142.62,412.35 149.31,408.61 154.9,410.55" fill="#fc6853"/><polygon points="204.36,405.84 198.42,403.56 204.82,400.68 210.77,402.92" fill="#fb5553"/><polygon points="216.8,405.29 210.77,402.92 217.11,400.2 223.15,402.53" fill="#fa5553"/><polygon points="116.76,422.83 111.39,420.94 118.22,416.67 123.61,418.5" fill="#fdae53"/><polygon points="160.57,412.63 154.9,410.55 161.53,406.98 167.21,409" fill="#fc6153"/><polygon points="229.26,405 223.15,402.53 229.43,399.97 235.54,402.39" fill="#fa5350"/><polygon points="85.32,433.16 80.16,431.37 87.12,426.55 92.3,428.28" fill="#fdf554"/><polygon points="241.74,404.95 235.54,402.39 241.75,399.99 247.95,402.5" fill="#fa4f4c"/><polygon points="172.97,411.16 167.21,409 173.79,405.59 179.57,407.7" fill="#fc5b53"/><polygon points="129.08,420.46 123.61,418.5 130.4,414.39 135.88,416.3" fill="#fd9f53"/><polygon points="254.23,405.16 247.95,402.5 254.09,400.26 260.37,402.87" fill="#f94a47"/><polygon points="266.72,405.63 260.37,402.87 266.44,400.78 272.79,403.49" fill="#f94643"/><polygon points="97.56,430.15 92.3,428.28 99.22,423.63 104.5,425.44" fill="#fddc54"/><polygon points="185.41,409.95 179.57,407.7 186.09,404.45 191.95,406.65" fill="#fb5653"/><polygon points="141.44,418.34 135.88,416.3 142.62,412.35 148.2,414.34" fill="#fc8853"/><polygon points="197.88,408.98 191.95,406.65 198.42,403.56 204.36,405.84" fill="#fb5653"/><polygon points="109.85,427.38 104.5,425.44 111.39,420.94 116.76,422.83" fill="#fdc153"/><polygon points="210.38,408.27 204.36,405.84 210.77,402.92 216.8,405.29" fill="#fb5553"/><polygon points="78.29,438.26 73.15,436.41 80.16,431.37 85.32,433.16" fill="#eefd54"/><polygon points="153.86,416.47 148.2,414.34 154.9,410.55 160.57,412.63" fill="#fc6853"/><polygon points="222.91,407.81 216.8,405.29 223.15,402.53 229.26,405" fill="#fa5553"/><polygon points="166.31,414.84 160.57,412.63 167.21,409 172.97,411.16" fill="#fc6153"/><polygon points="122.21,424.85 116.76,422.83 123.61,418.5 129.08,420.46" fill="#fdac53"/><polygon points="235.45,407.61 229.26,405 235.54,402.39 241.74,404.95" fill="#fa524f"/><polygon points="90.56,435.09 85.32,433.16 92.3,428.28 97.56,430.15" fill="#fdf154"/><polygon points="248.01,407.66 241.74,404.95 247.95,402.5 254.23,405.16" fill="#f94e4b"/><polygon points="178.8,413.46 172.97,411.16 179.57,407.7 185.41,409.95" fill="#fb5b53"/><polygon points="260.57,407.97 254.23,405.16 260.37,402.87 266.72,405.63" fill="#f94946"/><polygon points="134.62,422.57 129.08,420.46 135.88,416.3 141.44,418.34" fill="#fc9d53"/><polygon points="273.15,408.53 266.72,405.63 272.79,403.49 279.22,406.34" fill="#f94442"/><polygon points="191.33,412.33 185.41,409.95 191.95,406.65 197.88,408.98" fill="#fb5653"/><polygon points="102.89,432.15 97.56,430.15 104.5,425.44 109.85,427.38" fill="#fdd754"/><polygon points="71.2,443.58 66.08,441.67 73.15,436.41 78.29,438.26" fill="#d4fe54"/><polygon points="147.08,420.53 141.44,418.34 148.2,414.34 153.86,416.47" fill="#fc8453"/><polygon points="203.89,411.46 197.88,408.98 204.36,405.84 210.38,408.27" fill="#fb5653"/><polygon points="115.28,429.46 109.85,427.38 116.76,422.83 122.21,424.85" fill="#fdbd53"/><polygon points="216.48,410.84 210.38,408.27 216.8,405.29 222.91,407.81" fill="#fa5553"/><polygon points="159.58,418.73 153.86,416.47 160.57,412.63 166.31,414.84" fill="#fc6753"/><polygon points="83.5,440.25 78.29,438.26 85.32,433.16 90.56,435.09" fill="#f3fd54"/><polygon points="229.09,410.48 222.91,407.81 229.26,405 235.45,407.61" fill="#fa5552"/><polygon points="172.13,417.19 166.31,414.84 172.97,411.16 178.8,413.46" fill="#fc6153"/><polygon points="241.71,410.37 235.45,407.61 241.74,404.95 248.01,407.66" fill="#fa514e"/><polygon points="127.74,427.01 122.21,424.85 129.08,420.46 134.62,422.57" fill="#fdaa53"/><polygon points="254.35,410.51 248.01,407.66 254.23,405.16 260.57,407.97" fill="#f94c49"/><polygon points="64.06,449.13 58.97,447.15 66.08,441.67 71.2,443.58" fill="#bafe54"/><polygon points="95.87,437.15 90.56,435.09 97.56,430.15 102.89,432.15" fill="#fdee54"/><polygon points="184.72,415.9 178.8,413.46 185.41,409.95 191.33,412.33" fill="#fb5b53"/><polygon points="267,410.92 260.57,407.97 266.72,405.63 273.15,408.53" fill="#f94845"/><polygon points="279.65,411.58 273.15,408.53 279.22,406.34 285.73,409.35" fill="#f94340"/><polygon points="140.24,424.81 134.62,422.57 141.44,418.34 147.08,420.53" fill="#fc9c53"/><polygon points="197.33,414.87 191.33,412.33 197.88,408.98 203.89,411.46" fill="#fb5753"/><polygon points="108.3,434.29 102.89,432.15 109.85,427.38 115.28,429.46" fill="#fdd453"/><polygon points="76.39,445.63 71.2,443.58 78.29,438.26 83.5,440.25" fill="#d8fd54"/><polygon points="152.79,422.85 147.08,420.53 153.86,416.47 159.58,418.73" fill="#fc8253"/><polygon points="209.98,414.08 203.89,411.46 210.38,408.27 216.48,410.84" fill="#fb5553"/><polygon points="222.65,413.56 216.48,410.84 222.91,407.81 229.09,410.48" fill="#fa5553"/><polygon points="120.79,431.68 115.28,429.46 122.21,424.85 127.74,427.01" fill="#fdbb53"/><polygon points="165.39,421.15 159.58,418.73 166.31,414.84 172.13,417.19" fill="#fc6753"/><polygon points="88.79,442.37 83.5,440.25 90.56,435.09 95.87,437.15" fill="#f7fd54"/><polygon points="235.34,413.29 229.09,410.48 235.45,407.61 241.71,410.37" fill="#fa5451"/><polygon points="248.05,413.27 241.71,410.37 248.01,407.66 254.35,410.51" fill="#fa4f4d"/><polygon points="178.03,419.69 172.13,417.19 178.8,413.46 184.72,415.9" fill="#fc6153"/><polygon points="133.34,429.31 127.74,427.01 134.62,422.57 140.24,424.81" fill="#fda953"/><polygon points="260.77,413.52 254.35,410.51 260.57,407.97 267,410.92" fill="#f94b48"/><polygon points="101.25,439.35 95.87,437.15 102.89,432.15 108.3,434.29" fill="#fdeb54"/><polygon points="69.22,451.24 64.06,449.13 71.2,443.58 76.39,445.63" fill="#befe54"/><polygon points="273.5,414.02 267,410.92 273.15,408.53 279.65,411.58" fill="#f94643"/><polygon points="190.7,418.49 184.72,415.9 191.33,412.33 197.33,414.87" fill="#fb5c53"/><polygon points="286.23,414.78 279.65,411.58 285.73,409.35 292.31,412.5" fill="#f8423f"/><polygon points="145.94,427.19 140.24,424.81 147.08,420.53 152.79,422.85" fill="#fc9b53"/><polygon points="203.41,417.54 197.33,414.87 203.89,411.46 209.98,414.08" fill="#fb5853"/><polygon points="113.78,436.57 108.3,434.29 115.28,429.46 120.79,431.68" fill="#fdd253"/><polygon points="81.65,447.82 76.39,445.63 83.5,440.25 88.79,442.37" fill="#dbfd54"/><polygon points="158.58,425.32 152.79,422.85 159.58,418.73 165.39,421.15" fill="#fc8353"/><polygon points="216.14,416.85 209.98,414.08 216.48,410.84 222.65,413.56" fill="#fb5553"/><polygon points="228.9,416.42 222.65,413.56 229.09,410.48 235.34,413.29" fill="#fa5553"/><polygon points="126.37,434.04 120.79,431.68 127.74,427.01 133.34,429.31" fill="#fdba53"/><polygon points="171.27,423.7 165.39,421.15 172.13,417.19 178.03,419.69" fill="#fc6853"/><polygon points="241.68,416.24 235.34,413.29 241.71,410.37 248.05,413.27" fill="#fa5250"/><polygon points="94.15,444.64 88.79,442.37 95.87,437.15 101.25,439.35" fill="#f9fd54"/><polygon points="254.47,416.33 248.05,413.27 254.35,410.51 260.77,413.52" fill="#f94e4b"/><polygon points="184,422.34 178.03,419.69 184.72,415.9 190.7,418.49" fill="#fb6253"/><polygon points="267.27,416.67 260.77,413.52 267,410.92 273.5,414.02" fill="#f94a47"/><polygon points="139.02,431.75 133.34,429.31 140.24,424.81 145.94,427.19" fill="#fca953"/><polygon points="280.08,417.27 273.5,414.02 279.65,411.58 286.23,414.78" fill="#f94542"/><polygon points="292.89,418.13 286.23,414.78 292.31,412.5 298.96,415.8" fill="#f8403d"/><polygon points="196.77,421.22 190.7,418.49 197.33,414.87 203.41,417.54" fill="#fb5d53"/><polygon points="106.72,441.69 101.25,439.35 108.3,434.29 113.78,436.57" fill="#fde953"/><polygon points="74.46,453.5 69.22,451.24 76.39,445.63 81.65,447.82" fill="#c1fd54"/><polygon points="151.71,429.72 145.94,427.19 152.79,422.85 158.58,425.32" fill="#fc9c53"/><polygon points="209.56,420.37 203.41,417.54 209.98,414.08 216.14,416.85" fill="#fb5953"/><polygon points="119.35,439 113.78,436.57 120.79,431.68 126.37,434.04" fill="#fdd153"/><polygon points="222.38,419.77 216.14,416.85 222.65,413.56 228.9,416.42" fill="#fa5653"/><polygon points="164.45,427.93 158.58,425.32 165.39,421.15 171.27,423.7" fill="#fc8553"/><polygon points="86.99,450.15 81.65,447.82 88.79,442.37 94.15,444.64" fill="#defd54"/><polygon points="235.23,419.43 228.9,416.42 235.34,413.29 241.68,416.24" fill="#fa5552"/><polygon points="177.23,426.4 171.27,423.7 178.03,419.69 184,422.34" fill="#fc6853"/><polygon points="132.03,436.55 126.37,434.04 133.34,429.31 139.02,431.75" fill="#fdb953"/><polygon points="248.09,419.35 241.68,416.24 248.05,413.27 254.47,416.33" fill="#fa514e"/><polygon points="99.59,447.05 94.15,444.64 101.25,439.35 106.72,441.69" fill="#fbfd54"/><polygon points="260.96,419.54 254.47,416.33 260.77,413.52 267.27,416.67" fill="#f94d4a"/><polygon points="190.06,425.13 184,422.34 190.7,418.49 196.77,421.22" fill="#fb6353"/><polygon points="273.85,419.98 267.27,416.67 273.5,414.02 280.08,417.27" fill="#f94845"/><polygon points="144.77,434.34 139.02,431.75 145.94,427.19 151.71,429.72" fill="#fca953"/><polygon points="286.73,420.68 280.08,417.27 286.23,414.78 292.89,418.13" fill="#f94441"/><polygon points="299.62,421.64 292.89,418.13 298.96,415.8 305.69,419.25" fill="#f8423c"/><polygon points="202.91,424.11 196.77,421.22 203.41,417.54 209.56,420.37" fill="#fb5e53"/><polygon points="112.26,444.18 106.72,441.69 113.78,436.57 119.35,439" fill="#fde953"/><polygon points="79.78,455.9 74.46,453.5 81.65,447.82 86.99,450.15" fill="#c4fd54"/><polygon points="157.56,432.39 151.71,429.72 158.58,425.32 164.45,427.93" fill="#fc9c53"/><polygon points="215.79,423.35 209.56,420.37 216.14,416.85 222.38,419.77" fill="#fb5b53"/><polygon points="228.7,422.84 222.38,419.77 228.9,416.42 235.23,419.43" fill="#fa5853"/><polygon points="124.99,441.57 119.35,439 126.37,434.04 132.03,436.55" fill="#fdd153"/><polygon points="170.4,430.7 164.45,427.93 171.27,423.7 177.23,426.4" fill="#fc8953"/><polygon points="92.41,452.63 86.99,450.15 94.15,444.64 99.59,447.05" fill="#e0fd54"/><polygon points="241.63,422.6 235.23,419.43 241.68,416.24 248.09,419.35" fill="#fa5551"/><polygon points="254.58,422.62 248.09,419.35 254.47,416.33 260.96,419.54" fill="#fa504d"/><polygon points="183.27,429.26 177.23,426.4 184,422.34 190.06,425.13" fill="#fb6a53"/><polygon points="137.77,439.2 132.03,436.55 139.02,431.75 144.77,434.34" fill="#fcba53"/><polygon points="267.54,422.9 260.96,419.54 267.27,416.67 273.85,419.98" fill="#f94c48"/><polygon points="105.11,449.6 99.59,447.05 106.72,441.69 112.26,444.18" fill="#fbfd53"/><polygon points="280.5,423.44 273.85,419.98 280.08,417.27 286.73,420.68" fill="#f94944"/><polygon points="196.19,428.07 190.06,425.13 196.77,421.22 202.91,424.11" fill="#fb6453"/><polygon points="293.47,424.24 286.73,420.68 292.89,418.13 299.62,421.64" fill="#f8463f"/><polygon points="306.43,425.31 299.62,421.64 305.69,419.25 312.5,422.87" fill="#f8453a"/><polygon points="150.61,437.08 144.77,434.34 151.71,429.72 157.56,432.39" fill="#fcaa53"/><polygon points="209.13,427.14 202.91,424.11 209.56,420.37 215.79,423.35" fill="#fb6053"/><polygon points="117.88,446.82 112.26,444.18 119.35,439 124.99,441.57" fill="#fde853"/><polygon points="85.17,458.44 79.78,455.9 86.99,450.15 92.41,452.63" fill="#c5fd54"/><polygon points="163.49,435.22 157.56,432.39 164.45,427.93 170.4,430.7" fill="#fc9e53"/><polygon points="222.11,426.48 215.79,423.35 222.38,419.77 228.7,422.84" fill="#fb5d53"/><polygon points="235.1,426.07 228.7,422.84 235.23,419.43 241.63,422.6" fill="#fa5b53"/><polygon points="130.71,444.28 124.99,441.57 132.03,436.55 137.77,439.2" fill="#fdd153"/><polygon points="176.42,433.61 170.4,430.7 177.23,426.4 183.27,429.26" fill="#fc8e53"/><polygon points="248.12,425.92 241.63,422.6 248.09,419.35 254.58,422.62" fill="#fa564f"/><polygon points="97.91,455.25 92.41,452.63 99.59,447.05 105.11,449.6" fill="#e0fd54"/><polygon points="261.15,426.04 254.58,422.62 260.96,419.54 267.54,422.9" fill="#f9524b"/><polygon points="189.39,432.26 183.27,429.26 190.06,425.13 196.19,428.07" fill="#fb7353"/><polygon points="143.59,442 137.77,439.2 144.77,434.34 150.61,437.08" fill="#fcbb53"/><polygon points="274.19,426.42 267.54,422.9 273.85,419.98 280.5,423.44" fill="#f94e47"/><polygon points="287.23,427.06 280.5,423.44 286.73,420.68 293.47,424.24" fill="#f94b42"/><polygon points="110.71,452.3 105.11,449.6 112.26,444.18 117.88,446.82" fill="#fbfd53"/><polygon points="300.28,427.97 293.47,424.24 299.62,421.64 306.43,425.31" fill="#f84a3e"/><polygon points="202.4,431.17 196.19,428.07 202.91,424.11 209.13,427.14" fill="#fb6653"/><polygon points="156.52,439.97 150.61,437.08 157.56,432.39 163.49,435.22" fill="#fcac53"/><polygon points="215.43,430.33 209.13,427.14 215.79,423.35 222.11,426.48" fill="#fb6253"/><polygon points="123.58,449.6 117.88,446.82 124.99,441.57 130.71,444.28" fill="#fde953"/><polygon points="90.65,461.14 85.17,458.44 92.41,452.63 97.91,455.25" fill="#c5fd54"/><polygon points="228.5,429.76 222.11,426.48 228.7,422.84 235.1,426.07" fill="#fa5f53"/><polygon points="169.51,438.2 163.49,435.22 170.4,430.7 176.42,433.61" fill="#fca053"/><polygon points="241.58,429.45 235.1,426.07 241.63,422.6 248.12,425.92" fill="#fa5d52"/><polygon points="136.51,447.15 130.71,444.28 137.77,439.2 143.59,442" fill="#fcd353"/><polygon points="182.53,436.68 176.42,433.61 183.27,429.26 189.39,432.26" fill="#fc9553"/><polygon points="254.68,429.4 248.12,425.92 254.58,422.62 261.15,426.04" fill="#fa584e"/><polygon points="103.49,458.02 97.91,455.25 105.11,449.6 110.71,452.3" fill="#e0fd53"/><polygon points="267.8,429.62 261.15,426.04 267.54,422.9 274.19,426.42" fill="#f9544a"/><polygon points="195.59,435.42 189.39,432.26 196.19,428.07 202.4,431.17" fill="#fb7d53"/><polygon points="280.92,430.1 274.19,426.42 280.5,423.44 287.23,427.06" fill="#f95145"/><polygon points="149.49,444.96 143.59,442 150.61,437.08 156.52,439.97" fill="#fcbe53"/><polygon points="294.04,430.85 287.23,427.06 293.47,424.24 300.28,427.97" fill="#f94e41"/><polygon points="208.69,434.42 202.4,431.17 209.13,427.14 215.43,430.33" fill="#fb6953"/><polygon points="116.39,455.16 110.71,452.3 117.88,446.82 123.58,449.6" fill="#fafd53"/><polygon points="162.52,443.01 156.52,439.97 163.49,435.22 169.51,438.2" fill="#fcae53"/><polygon points="221.82,433.68 215.43,430.33 222.11,426.48 228.5,429.76" fill="#fb6553"/><polygon points="129.36,452.54 123.58,449.6 130.71,444.28 136.51,447.15" fill="#fdeb53"/><polygon points="234.97,433.2 228.5,429.76 235.1,426.07 241.58,429.45" fill="#fa6253"/><polygon points="175.6,441.33 169.51,438.2 176.42,433.61 182.53,436.68" fill="#fca353"/><polygon points="96.2,463.98 90.65,461.14 97.91,455.25 103.49,458.02" fill="#c5fd54"/><polygon points="248.14,432.99 241.58,429.45 248.12,425.92 254.68,429.4" fill="#fa5f51"/><polygon points="261.33,433.04 254.68,429.4 261.15,426.04 267.8,429.62" fill="#fa5a4c"/><polygon points="188.72,439.9 182.53,436.68 189.39,432.26 195.59,435.42" fill="#fb9953"/><polygon points="142.39,450.18 136.51,447.15 143.59,442 149.49,444.96" fill="#fcd653"/><polygon points="274.52,433.36 267.8,429.62 274.19,426.42 280.92,430.1" fill="#f95748"/><polygon points="109.14,460.95 103.49,458.02 110.71,452.3 116.39,455.16" fill="#defd53"/><polygon points="287.73,433.94 280.92,430.1 287.23,427.06 294.04,430.85" fill="#f95444"/><polygon points="201.87,438.73 195.59,435.42 202.4,431.17 208.69,434.42" fill="#fb8953"/><polygon points="155.46,448.07 149.49,444.96 156.52,439.97 162.52,443.01" fill="#fcc253"/><polygon points="215.06,437.83 208.69,434.42 215.43,430.33 221.82,433.68" fill="#fb7553"/><polygon points="122.15,458.16 116.39,455.16 123.58,449.6 129.36,452.54" fill="#f8fd53"/><polygon points="168.59,446.21 162.52,443.01 169.51,438.2 175.6,441.33" fill="#fcb153"/><polygon points="228.28,437.19 221.82,433.68 228.5,429.76 234.97,433.2" fill="#fa6853"/><polygon points="241.52,436.81 234.97,433.2 241.58,429.45 248.14,432.99" fill="#fa6653"/><polygon points="135.22,455.63 129.36,452.54 136.51,447.15 142.39,450.18" fill="#fced53"/><polygon points="181.77,444.62 175.6,441.33 182.53,436.68 188.72,439.9" fill="#fca653"/><polygon points="101.83,466.98 96.2,463.98 103.49,458.02 109.14,460.95" fill="#c3fd53"/><polygon points="254.78,436.69 248.14,432.99 254.68,429.4 261.33,433.04" fill="#fa614f"/><polygon points="268.05,436.85 261.33,433.04 267.8,429.62 274.52,433.36" fill="#f95d4b"/><polygon points="194.98,443.28 188.72,439.9 195.59,435.42 201.87,438.73" fill="#fb9d53"/><polygon points="148.35,453.35 142.39,450.18 149.49,444.96 155.46,448.07" fill="#fcd953"/><polygon points="281.33,437.27 274.52,433.36 280.92,430.1 287.73,433.94" fill="#f95a46"/><polygon points="114.88,464.03 109.14,460.95 116.39,455.16 122.15,458.16" fill="#dcfd53"/><polygon points="208.23,442.21 201.87,438.73 208.69,434.42 215.06,437.83" fill="#fb9553"/><polygon points="161.52,451.33 155.46,448.07 162.52,443.01 168.59,446.21" fill="#fcc653"/><polygon points="221.51,441.4 215.06,437.83 221.82,433.68 228.28,437.19" fill="#fb8653"/><polygon points="127.99,461.33 122.15,458.16 129.36,452.54 135.22,455.63" fill="#f5fd53"/><polygon points="234.82,440.85 228.28,437.19 234.97,433.2 241.52,436.81" fill="#fa7753"/><polygon points="174.75,449.57 168.59,446.21 175.6,441.33 181.77,444.62" fill="#fcb553"/><polygon points="248.15,440.57 241.52,436.81 248.14,432.99 254.78,436.69" fill="#fa6d51"/><polygon points="141.16,458.88 135.22,455.63 142.39,450.18 148.35,453.35" fill="#fcf053"/><polygon points="188.02,448.07 181.77,444.62 188.72,439.9 194.98,443.28" fill="#fbaa53"/><polygon points="261.5,440.56 254.78,436.69 261.33,433.04 268.05,436.85" fill="#fa654d"/><polygon points="107.55,470.13 101.83,466.98 109.14,460.95 114.88,464.03" fill="#c1fd53"/><polygon points="274.85,440.82 268.05,436.85 274.52,433.36 281.33,437.27" fill="#f96149"/><polygon points="201.33,446.82 194.98,443.28 201.87,438.73 208.23,442.21" fill="#fba253"/><polygon points="154.39,456.69 148.35,453.35 155.46,448.07 161.52,451.33" fill="#fcde53"/><polygon points="120.7,467.26 114.88,464.03 122.15,458.16 127.99,461.33" fill="#d9fd53"/><polygon points="214.67,445.85 208.23,442.21 215.06,437.83 221.51,441.4" fill="#fb9b53"/><polygon points="167.66,454.76 161.52,451.33 168.59,446.21 174.75,449.57" fill="#fccb53"/><polygon points="228.05,445.13 221.51,441.4 228.28,437.19 234.82,440.85" fill="#fb9453"/><polygon points="133.91,464.65 127.99,461.33 135.22,455.63 141.16,458.88" fill="#f1fc53"/><polygon points="241.45,444.69 234.82,440.85 241.52,436.81 248.15,440.57" fill="#fa8a53"/><polygon points="180.99,453.09 174.75,449.57 181.77,444.62 188.02,448.07" fill="#fcbb53"/><polygon points="254.86,444.51 248.15,440.57 254.78,436.69 261.5,440.56" fill="#fa8250"/><polygon points="194.36,451.68 188.02,448.07 194.98,443.28 201.33,446.82" fill="#fbaf53"/><polygon points="268.3,444.59 261.5,440.56 268.05,436.85 274.85,440.82" fill="#fa7d4c"/><polygon points="147.18,462.29 141.16,458.88 148.35,453.35 154.39,456.69" fill="#fcf453"/><polygon points="113.34,473.44 107.55,470.13 114.88,464.03 120.7,467.26" fill="#bdfd53"/><polygon points="207.76,450.53 201.33,446.82 208.23,442.21 214.67,445.85" fill="#fba753"/><polygon points="160.51,460.19 154.39,456.69 161.52,451.33 167.66,454.76" fill="#fce453"/><polygon points="221.2,449.65 214.67,445.85 221.51,441.4 228.05,445.13" fill="#fba153"/><polygon points="126.6,470.66 120.7,467.26 127.99,461.33 133.91,464.65" fill="#d5fc53"/><polygon points="173.89,458.35 167.66,454.76 174.75,449.57 180.99,453.09" fill="#fcd253"/><polygon points="234.66,449.03 228.05,445.13 234.82,440.85 241.45,444.69" fill="#fa9c53"/><polygon points="248.15,448.69 241.45,444.69 248.15,440.57 254.86,444.51" fill="#fa9852"/><polygon points="139.91,468.13 133.91,464.65 141.16,458.88 147.18,462.29" fill="#ebfc53"/><polygon points="187.31,456.77 180.99,453.09 188.02,448.07 194.36,451.68" fill="#fbc253"/><polygon points="261.66,448.61 254.86,444.51 261.5,440.56 268.3,444.59" fill="#fa944e"/><polygon points="200.77,455.45 194.36,451.68 201.33,446.82 207.76,450.53" fill="#fbb553"/><polygon points="153.29,465.86 147.18,462.29 154.39,456.69 160.51,460.19" fill="#fcf953"/><polygon points="119.22,476.92 113.34,473.44 120.7,467.26 126.6,470.66" fill="#b9fd53"/><polygon points="214.27,454.4 207.76,450.53 214.67,445.85 221.2,449.65" fill="#fbad53"/><polygon points="166.72,463.85 160.51,460.19 167.66,454.76 173.89,458.35" fill="#fce953"/><polygon points="227.81,453.62 221.2,449.65 228.05,445.13 234.66,449.03" fill="#fba753"/><polygon points="132.58,474.22 126.6,470.66 133.91,464.65 139.91,468.13" fill="#d0fc53"/><polygon points="180.19,462.1 173.89,458.35 180.99,453.09 187.31,456.77" fill="#fcd953"/><polygon points="241.36,453.1 234.66,449.03 241.45,444.69 248.15,448.69" fill="#faa353"/><polygon points="254.94,452.86 248.15,448.69 254.86,444.51 261.66,448.61" fill="#fa9e50"/><polygon points="146,471.78 139.91,468.13 147.18,462.29 153.29,465.86" fill="#e5fc53"/><polygon points="193.71,460.62 187.31,456.77 194.36,451.68 200.77,455.45" fill="#fbcb53"/><polygon points="207.28,459.4 200.77,455.45 207.76,450.53 214.27,454.4" fill="#fbbe53"/><polygon points="159.48,469.6 153.29,465.86 160.51,460.19 166.72,463.85" fill="#f9fc53"/><polygon points="125.18,480.55 119.22,476.92 126.6,470.66 132.58,474.22" fill="#b3fc53"/><polygon points="220.87,458.44 214.27,454.4 221.2,449.65 227.81,453.62" fill="#fbb453"/><polygon points="173.01,467.68 166.72,463.85 173.89,458.35 180.19,462.1" fill="#fcef53"/><polygon points="234.5,457.76 227.81,453.62 234.66,449.03 241.36,453.1" fill="#faae53"/><polygon points="138.65,477.95 132.58,474.22 139.91,468.13 146,471.78" fill="#cafc53"/><polygon points="248.15,457.34 241.36,453.1 248.15,448.69 254.94,452.86" fill="#faaa52"/><polygon points="186.58,466.03 180.19,462.1 187.31,456.77 193.71,460.62" fill="#fbe253"/><polygon points="152.17,475.6 146,471.78 153.29,465.86 159.48,469.6" fill="#defc53"/><polygon points="200.2,464.64 193.71,460.62 200.77,455.45 207.28,459.4" fill="#fbd453"/><polygon points="213.86,463.51 207.28,459.4 214.27,454.4 220.87,458.44" fill="#fbc853"/><polygon points="165.75,473.51 159.48,469.6 166.72,463.85 173.01,467.68" fill="#f1fc53"/><polygon points="227.55,462.66 220.87,458.44 227.81,453.62 234.5,457.76" fill="#fbbf53"/><polygon points="131.23,484.36 125.18,480.55 132.58,474.22 138.65,477.95" fill="#acfc53"/><polygon points="179.38,471.68 173.01,467.68 180.19,462.1 186.58,466.03" fill="#fcf753"/><polygon points="241.27,462.07 234.5,457.76 241.36,453.1 248.15,457.34" fill="#fab853"/><polygon points="144.8,481.84 138.65,477.95 146,471.78 152.17,475.6" fill="#c4fc53"/><polygon points="193.06,470.12 186.58,466.03 193.71,460.62 200.2,464.64" fill="#fbea53"/><polygon points="206.78,468.82 200.2,464.64 207.28,459.4 213.86,463.51" fill="#fbde53"/><polygon points="158.43,479.58 152.17,475.6 159.48,469.6 165.75,473.51" fill="#d6fc53"/><polygon points="220.53,467.8 213.86,463.51 220.87,458.44 227.55,462.66" fill="#fbd353"/><polygon points="172.11,477.58 165.75,473.51 173.01,467.68 179.38,471.68" fill="#e8fc53"/><polygon points="234.32,467.04 227.55,462.66 234.5,457.76 241.27,462.07" fill="#facb53"/><polygon points="137.36,488.33 131.23,484.36 138.65,477.95 144.8,481.84" fill="#a1fc53"/><polygon points="185.84,475.85 179.38,471.68 186.58,466.03 193.06,470.12" fill="#f8fb53"/><polygon points="151.03,485.9 144.8,481.84 152.17,475.6 158.43,479.58" fill="#bcfc53"/><polygon points="199.62,474.39 193.06,470.12 200.2,464.64 206.78,468.82" fill="#fbf253"/><polygon points="213.43,473.19 206.78,468.82 213.86,463.51 220.53,467.8" fill="#fbe853"/><polygon points="164.76,483.74 158.43,479.58 165.75,473.51 172.11,477.58" fill="#cefc53"/><polygon points="227.28,472.26 220.53,467.8 227.55,462.66 234.32,467.04" fill="#fbdf53"/><polygon points="178.55,481.83 172.11,477.58 179.38,471.68 185.84,475.85" fill="#defb53"/><polygon points="143.57,492.48 137.36,488.33 144.8,481.84 151.03,485.9" fill="#95fc53"/><polygon points="192.38,480.2 185.84,475.85 193.06,470.12 199.62,474.39" fill="#eefb53"/><polygon points="157.35,490.14 151.03,485.9 158.43,479.58 164.76,483.74" fill="#b2fc53"/><polygon points="206.26,478.83 199.62,474.39 206.78,468.82 213.43,473.19" fill="#fafb53"/><polygon points="220.18,477.73 213.43,473.19 220.53,467.8 227.28,472.26" fill="#fbf253"/><polygon points="171.19,488.07 164.76,483.74 172.11,477.58 178.55,481.83" fill="#c5fc53"/><polygon points="185.08,486.26 178.55,481.83 185.84,475.85 192.38,480.2" fill="#d4fb53"/><polygon points="149.87,496.8 143.57,492.48 151.03,485.9 157.35,490.14" fill="#81fc53"/><polygon points="199.01,484.72 192.38,480.2 199.62,474.39 206.26,478.83" fill="#e2fb53"/><polygon points="212.99,483.45 206.26,478.83 213.43,473.19 220.18,477.73" fill="#eefb53"/><polygon points="163.76,494.56 157.35,490.14 164.76,483.74 171.19,488.07" fill="#a6fc53"/><polygon points="177.7,492.58 171.19,488.07 178.55,481.83 185.08,486.26" fill="#bafb53"/><polygon points="191.69,490.87 185.08,486.26 192.38,480.2 199.01,484.72" fill="#c9fb53"/><polygon points="156.26,501.3 149.87,496.8 157.35,490.14 163.76,494.56" fill="#60fc53"/><polygon points="205.73,489.42 199.01,484.72 206.26,478.83 212.99,483.45" fill="#d6fb53"/><polygon points="170.25,499.15 163.76,494.56 171.19,488.07 177.7,492.58" fill="#95fc53"/><polygon points="184.3,497.27 177.7,492.58 185.08,486.26 191.69,490.87" fill="#aefb53"/><polygon points="198.4,495.65 191.69,490.87 199.01,484.72 205.73,489.42" fill="#befb53"/><polygon points="162.74,505.98 156.26,501.3 163.76,494.56 170.25,499.15" fill="#53fc53"/><polygon points="176.84,503.93 170.25,499.15 177.7,492.58 184.3,497.27" fill="#79fb53"/><polygon points="190.99,502.14 184.3,497.27 191.69,490.87 198.4,495.65" fill="#9cfb53"/><polygon points="169.3,510.85 162.74,505.98 170.25,499.15 176.84,503.93" fill="#53fb61"/><polygon points="183.5,508.89 176.84,503.93 184.3,497.27 190.99,502.14" fill="#59fb53"/><polygon points="175.95,515.9 169.3,510.85 176.84,503.93 183.5,508.89" fill="#53fb6e"/></g><ellipse cx="184" cy="420.94" rx="2.6" ry="3.2" fill="#c00000" stroke="#4a0000" stroke-width="0.8"/><g fill="#000"><circle cx="62.15" cy="502.67" r="1.7"/><circle cx="60.36" cy="471.78" r="1.7"/><circle cx="58.57" cy="440.89" r="1.7"/><circle cx="56.79" cy="409.99" r="1.7"/><circle cx="55" cy="379.1" r="1.7"/><circle cx="176.5" cy="608.4" r="1.7"/><circle cx="154.08" cy="595.04" r="1.7"/><circle cx="131.66" cy="581.68" r="1.7"/><circle cx="109.24" cy="568.32" r="1.7"/><circle cx="86.82" cy="554.96" r="1.7"/><circle cx="64.4" cy="541.6" r="1.7"/><circle cx="176.5" cy="608.4" r="1.7"/><circle cx="202.28" cy="596.3" r="1.7"/><circle cx="228.06" cy="584.2" r="1.7"/><circle cx="253.84" cy="572.1" r="1.7"/><circle cx="279.62" cy="560" r="1.7"/><circle cx="305.4" cy="547.9" r="1.7"/></g><g font-family="Liberation Serif" font-size="13.8" fill="#111" stroke="#111" stroke-width="0.2" opacity="0.99"><text x="55.45" y="499.07" text-anchor="end">70</text><text x="53.66" y="468.18" text-anchor="end">80</text><text x="51.87" y="437.29" text-anchor="end">90</text><text x="50.09" y="406.39" text-anchor="end">100</text><text x="48.3" y="375.5" text-anchor="end">110</text><text x="168.9" y="621.6" text-anchor="end">5</text><text x="146.48" y="608.24" text-anchor="end">5.2</text><text x="124.06" y="594.88" text-anchor="end">5.4</text><text x="101.64" y="581.52" text-anchor="end">5.6</text><text x="79.22" y="568.16" text-anchor="end">5.8</text><text x="56.8" y="554.8" text-anchor="end">6</text><text x="183.5" y="620.1">0.75</text><text x="209.28" y="608">0.95</text><text x="235.06" y="595.9">1.15</text><text x="260.84" y="583.8">1.35</text><text x="286.62" y="571.7">1.55</text><text x="312.4" y="559.6">1.75</text></g><g font-family="Liberation Serif" fill="#111" stroke="#111" stroke-width="0.2" opacity="0.99"><text x="0" y="0" font-size="14.6" text-anchor="middle" transform="translate(13.2,456.2) rotate(-90)">Removal efficiency (%)</text><text x="84" y="612.7" font-size="14.8" text-anchor="start">pH</text><text x="254" y="615.6" font-size="14.8" text-anchor="start">Dosage (g)</text><text x="183.2" y="646.9" font-size="14.8" text-anchor="middle">(C)</text></g><clipPath id="fld"><polygon points="515.1,601.8 416.4,528.8 536.6,478 639.6,539.4"/></clipPath><path d="M413.88,493.87L536.6,446 M536.6,446L642.09,503.97 M411.89,466.16L536.6,420.6 M536.6,420.6L644.07,475.85 M409.89,438.44L536.6,395.2 M536.6,395.2L646.05,447.74 M407.9,410.72L536.6,369.8 M536.6,369.8L648.02,419.62 M438.43,484.3L432.04,375.28 M462.97,474.72L458.18,367.56 M487.51,465.15L484.32,359.84 M512.06,455.57L510.46,352.12 M615.72,489.48L621.65,379.73 M589.35,474.98L593.3,367.95 M562.97,460.49L564.95,356.17" stroke="#111" stroke-width="1.2" fill="none"/><polyline points="416.4,528.8 405.9,383 536.6,344.4 650,391.5 639.6,539.4" stroke="#111" stroke-width="1.2" fill="none" stroke-linejoin="round"/><path d="M536.6,344.4L536.6,478" stroke="#111" stroke-width="1.2"/><polygon points="515.1,601.8 416.4,528.8 536.6,478 639.6,539.4" fill="#636363" stroke="#111" stroke-width="1.3" stroke-linejoin="round"/><g fill="none" stroke-width="2.2" stroke-linejoin="round" stroke-linecap="round" clip-path="url(#fld)"><polyline points="492.01,497.01 492.25,497.3 492.49,497.6 492.62,497.75 492.74,497.89 492.99,498.19 493.24,498.48 493.49,498.78 493.58,498.88 493.75,499.07 494,499.36 494.27,499.65 494.53,499.95 494.66,500.09 494.79,500.24 495.06,500.53 495.33,500.82 495.6,501.11 495.86,501.38 495.88,501.4 496.16,501.68 496.43,501.97 496.72,502.26 497,502.55 497.23,502.78 497.28,502.83 497.57,503.12 497.86,503.4 498.16,503.69 498.45,503.97 498.75,504.26 498.8,504.31 499.05,504.54 499.35,504.83 499.65,505.11 499.96,505.39 500.26,505.67 500.57,505.96 500.64,506.02 500.88,506.24 501.2,506.52 501.51,506.8 501.83,507.08 502.15,507.36 502.47,507.64 502.79,507.92 502.86,507.98 503.12,508.19 503.45,508.47 503.78,508.75 504.11,509.03 504.44,509.3 504.78,509.58 505.11,509.86 505.45,510.13 505.71,510.34 505.79,510.41 506.14,510.68 506.48,510.96 506.83,511.23 507.18,511.5 507.53,511.78 507.88,512.05 508.24,512.32 508.59,512.6 508.95,512.87 509.31,513.14 509.67,513.41 509.84,513.54 510.04,513.68 510.4,513.95 510.77,514.22 511.14,514.49 511.51,514.76 511.88,515.03 512.26,515.3 512.63,515.57 513.01,515.84 513.39,516.11 513.78,516.37 514.16,516.64 514.54,516.91 514.93,517.17 515.32,517.44 515.71,517.71 516.1,517.97 516.5,518.24 516.9,518.5 517.29,518.76 517.69,519.03 518.09,519.29 518.5,519.56 518.9,519.82 519.31,520.08 519.72,520.34 520.13,520.61 520.54,520.87 520.95,521.13 521.37,521.39 521.79,521.65 522.21,521.91 522.63,522.17 523.05,522.43 523.47,522.69 523.9,522.95 524.33,523.21 524.76,523.47 525.19,523.73 525.62,523.98 526.05,524.24 526.49,524.5 526.93,524.76 527.37,525.01 527.81,525.27 528.25,525.52 528.7,525.78 529.14,526.03 529.59,526.29 529.76,526.38 530.04,526.54 530.49,526.8 530.95,527.05 531.4,527.31 531.86,527.56 532.32,527.81 532.78,528.06 533.24,528.32 533.7,528.57 534.17,528.82 534.64,529.07 535.1,529.32 535.47,529.52 535.57,529.57 536.05,529.82 536.52,530.07 537,530.32 537.47,530.57 537.95,530.82 538.43,531.07 538.92,531.31 539.4,531.56 539.89,531.81 539.9,531.82 540.37,532.06 540.86,532.3 541.35,532.55 541.85,532.79 542.34,533.04 542.84,533.28 543.34,533.53 543.71,533.71 543.84,533.77 544.34,534.02 544.84,534.26 545.35,534.5 545.85,534.75 546.36,534.99 546.87,535.23 547.13,535.35 547.38,535.47 547.9,535.71 548.41,535.96 548.93,536.2 549.45,536.44 549.97,536.68 550.27,536.82 550.49,536.92 551.01,537.15 551.54,537.39 552.07,537.63 552.6,537.87 553.13,538.11 553.21,538.14 553.66,538.34 554.2,538.58 554.73,538.82 555.27,539.05 555.81,539.29 555.99,539.36 556.35,539.52 556.9,539.76 557.44,539.99 557.99,540.22 558.54,540.46 558.63,540.49 559.09,540.69 559.64,540.92 560.2,541.15 560.75,541.38 561.15,541.55 561.31,541.62 561.87,541.85 562.43,542.08 563,542.3 563.56,542.53 563.59,542.55 564.13,542.76 564.7,542.99 565.27,543.22 565.84,543.45 565.94,543.48 566.42,543.67 566.99,543.9 567.57,544.12 568.15,544.35 568.21,544.37 568.73,544.57 569.32,544.8 569.9,545.02 570.42,545.22 570.49,545.25 571.08,545.47 571.67,545.69 572.27,545.91 572.57,546.02 572.86,546.13 573.46,546.35 574.06,546.57 574.66,546.79 574.66,546.79 575.26,547.01 575.87,547.23 576.48,547.45 576.71,547.53 577.09,547.67 577.7,547.88 578.31,548.1 578.71,548.24 578.93,548.31 579.54,548.53 580.16,548.74 580.67,548.92 580.78,548.96 581.41,549.17 582.03,549.38 582.59,549.57 582.66,549.59 583.29,549.81 583.92,550.02 584.47,550.2 584.56,550.23 585.19,550.44 585.83,550.65 586.32,550.8 586.47,550.85 587.11,551.06 587.76,551.27 588.14,551.39 588.4,551.47 589.05,551.68 589.7,551.88 589.92,551.95 590.36,552.09 591.01,552.29 591.67,552.49 591.68,552.5 592.33,552.7 592.99,552.9 593.41,553.02 593.65,553.1 594.32,553.3 594.99,553.5 595.12,553.53 595.66,553.69 596.33,553.89 596.8,554.03 597.01,554.09 597.69,554.28 598.37,554.48 598.45,554.5 599.05,554.67 599.74,554.87 600.09,554.97 600.42,555.06 601.11,555.25 601.7,555.41 601.8,555.44 602.5,555.63 603.2,555.82 603.29,555.85 603.9,556.01 604.6,556.2 604.86,556.27 605.3,556.38" stroke="#ff0b00"/><polyline points="466.39,507.59 466.69,507.87 466.99,508.15 467.11,508.26 467.29,508.43 467.6,508.71 467.9,508.99 468.21,509.27 468.52,509.55 468.83,509.82 469.14,510.1 469.45,510.38 469.51,510.44 469.77,510.66 470.08,510.94 470.4,511.22 470.72,511.5 471.04,511.77 471.37,512.05 471.69,512.33 472.01,512.61 472.34,512.88 472.48,513 472.67,513.16 473,513.44 473.33,513.71 473.67,513.99 474,514.26 474.34,514.54 474.67,514.82 475.01,515.09 475.35,515.37 475.69,515.64 476.04,515.92 476.38,516.19 476.44,516.24 476.73,516.47 477.08,516.74 477.43,517.02 477.78,517.29 478.13,517.56 478.48,517.84 478.84,518.11 479.2,518.38 479.55,518.66 479.91,518.93 480.27,519.2 480.64,519.48 481,519.75 481.37,520.02 481.73,520.29 482.1,520.57 482.47,520.84 482.84,521.11 483.21,521.38 483.41,521.52 483.59,521.65 483.96,521.92 484.34,522.19 484.72,522.46 485.1,522.73 485.48,523.01 485.86,523.28 486.25,523.55 486.63,523.82 487.02,524.09 487.41,524.35 487.8,524.62 488.19,524.89 488.58,525.16 488.97,525.43 489.37,525.7 489.76,525.97 490.16,526.24 490.56,526.51 490.96,526.77 491.36,527.04 491.77,527.31 492.17,527.58 492.58,527.84 492.99,528.11 493.4,528.38 493.81,528.64 494.22,528.91 494.63,529.18 495.05,529.44 495.46,529.71 495.88,529.98 496.12,530.13 496.3,530.24 496.72,530.51 497.14,530.77 497.57,531.04 497.99,531.3 498.42,531.57 498.85,531.83 499.27,532.1 499.7,532.36 500.14,532.63 500.57,532.89 501,533.16 501.44,533.42 501.88,533.68 502.32,533.95 502.76,534.21 503.2,534.47 503.64,534.74 504.08,535 504.53,535.26 504.81,535.43 504.98,535.52 505.42,535.78 505.87,536.05 506.33,536.31 506.78,536.57 507.23,536.83 507.69,537.09 508.14,537.35 508.6,537.61 509.06,537.88 509.52,538.14 509.99,538.4 510.45,538.66 510.5,538.69 510.92,538.92 511.38,539.18 511.85,539.44 512.32,539.69 512.79,539.95 513.26,540.21 513.74,540.47 514.21,540.73 514.69,540.99 515.17,541.25 515.18,541.26 515.64,541.5 516.13,541.76 516.61,542.02 517.09,542.28 517.58,542.53 518.06,542.79 518.55,543.05 519.04,543.31 519.3,543.44 519.53,543.56 520.02,543.82 520.52,544.07 521.01,544.33 521.51,544.59 522,544.84 522.5,545.1 523,545.35 523.05,545.37 523.51,545.61 524.01,545.86 524.51,546.11 525.02,546.37 525.53,546.62 526.04,546.88 526.52,547.12 526.55,547.13 527.06,547.38 527.57,547.64 528.09,547.89 528.6,548.14 529.12,548.39 529.64,548.65 529.78,548.71 530.16,548.9 530.68,549.15 531.21,549.4 531.73,549.65 532.26,549.9 532.79,550.15 532.88,550.2 533.32,550.4 533.85,550.65 534.38,550.9 534.91,551.15 535.45,551.4 535.84,551.58 535.98,551.65 536.52,551.9 537.06,552.15 537.6,552.4 538.14,552.65 538.68,552.89 538.69,552.9 539.23,553.14 539.78,553.39 540.33,553.64 540.88,553.88 541.42,554.13 541.43,554.13 541.98,554.38 542.54,554.62 543.09,554.87 543.65,555.12 544.07,555.3 544.21,555.36 544.77,555.61 545.33,555.85 545.9,556.1 546.46,556.34 546.64,556.42 547.03,556.58 547.6,556.83 548.16,557.07 548.74,557.31 549.15,557.49 549.31,557.56 549.88,557.8 550.46,558.04 551.03,558.28 551.59,558.52 551.61,558.52 552.19,558.77 552.77,559.01 553.36,559.25 553.94,559.49 553.97,559.5 554.53,559.73 555.12,559.97 555.71,560.21 556.3,560.45 556.31,560.45 556.89,560.69 557.48,560.92 558.08,561.16 558.59,561.37 558.68,561.4 559.27,561.64 559.88,561.88 560.48,562.11 560.83,562.25 561.08,562.35 561.69,562.59 562.29,562.82 562.9,563.06 563.03,563.11 563.51,563.29 564.12,563.53 564.74,563.76 565.19,563.94 565.35,564 565.97,564.23 566.58,564.46 567.2,564.7 567.32,564.74 567.83,564.93 568.45,565.16 569.07,565.39 569.41,565.52 569.7,565.62 570.33,565.85 570.96,566.09 571.47,566.27 571.59,566.32 572.22,566.55 572.85,566.78 573.49,567 573.5,567.01 574.13,567.23 574.77,567.46 575.41,567.69 575.5,567.72 576.05,567.92 576.7,568.14 577.34,568.37 577.47,568.42 577.99,568.6 578.64,568.82 579.29,569.05 579.42,569.09 579.94,569.27" stroke="#ff8000"/><polyline points="446.95,515.61 447.27,515.89 447.59,516.17 447.91,516.45 448.24,516.73 448.56,517 448.89,517.28 449.22,517.56 449.55,517.84 449.88,518.11 449.88,518.12 450.21,518.39 450.54,518.67 450.88,518.95 451.21,519.22 451.55,519.5 451.89,519.78 452.23,520.05 452.57,520.33 452.91,520.61 453.26,520.88 453.6,521.16 453.95,521.44 454.29,521.71 454.64,521.99 454.99,522.26 455.34,522.54 455.46,522.63 455.69,522.82 456.05,523.09 456.4,523.37 456.76,523.64 457.12,523.92 457.48,524.19 457.84,524.47 458.2,524.74 458.56,525.02 458.92,525.29 459.29,525.57 459.65,525.84 460.02,526.12 460.39,526.39 460.76,526.67 461.13,526.94 461.51,527.22 461.88,527.49 462.25,527.77 462.63,528.04 463.01,528.31 463.39,528.59 463.77,528.86 464.15,529.14 464.53,529.41 464.91,529.68 465.3,529.96 465.69,530.23 466.07,530.5 466.46,530.78 466.85,531.05 467.24,531.32 467.64,531.59 468.03,531.87 468.43,532.14 468.82,532.41 469.22,532.69 469.62,532.96 470.02,533.23 470.42,533.5 470.82,533.77 471.23,534.05 471.63,534.32 472.04,534.59 472.45,534.86 472.85,535.13 473.26,535.41 473.68,535.68 474.09,535.95 474.5,536.22 474.92,536.49 475.33,536.76 475.75,537.03 476.17,537.3 476.59,537.58 477.01,537.85 477.43,538.12 477.8,538.35 477.86,538.39 478.28,538.66 478.71,538.93 479.14,539.2 479.56,539.47 479.99,539.74 480.43,540.01 480.86,540.28 481.29,540.55 481.73,540.82 482.16,541.09 482.6,541.36 483.04,541.63 483.48,541.9 483.92,542.17 484.36,542.43 484.81,542.7 485.2,542.94 485.25,542.97 485.7,543.24 486.15,543.51 486.59,543.78 487.05,544.05 487.5,544.31 487.95,544.58 488.4,544.85 488.86,545.12 489.31,545.39 489.77,545.65 490.23,545.92 490.69,546.19 490.79,546.25 491.15,546.46 491.61,546.72 492.08,546.99 492.54,547.26 493.01,547.53 493.48,547.79 493.95,548.06 494.42,548.33 494.89,548.59 495.36,548.86 495.54,548.96 495.83,549.13 496.31,549.39 496.79,549.66 497.26,549.92 497.74,550.19 498.22,550.46 498.71,550.72 499.19,550.99 499.67,551.25 499.8,551.32 500.16,551.52 500.64,551.78 501.13,552.05 501.62,552.31 502.11,552.58 502.6,552.84 503.1,553.11 503.59,553.37 503.7,553.43 504.09,553.64 504.58,553.9 505.08,554.16 505.58,554.43 506.08,554.69 506.59,554.95 507.09,555.22 507.35,555.36 507.59,555.48 508.1,555.74 508.61,556.01 509.12,556.27 509.62,556.53 510.14,556.8 510.65,557.06 510.8,557.14 511.16,557.32 511.68,557.58 512.19,557.84 512.71,558.11 513.23,558.37 513.75,558.63 514.08,558.8 514.27,558.89 514.8,559.15 515.32,559.41 515.84,559.67 516.37,559.94 516.9,560.2 517.22,560.36 517.43,560.46 517.96,560.72 518.49,560.98 519.03,561.24 519.56,561.5 520.1,561.76 520.25,561.83 520.63,562.02 521.17,562.28 521.71,562.54 522.25,562.79 522.8,563.05 523.18,563.23 523.34,563.31 523.89,563.57 524.43,563.83 524.98,564.09 525.53,564.35 526.01,564.57 526.08,564.6 526.63,564.86 527.19,565.12 527.74,565.38 528.3,565.63 528.77,565.85 528.85,565.89 529.41,566.15 529.97,566.4 530.54,566.66 531.1,566.92 531.46,567.08 531.66,567.17 532.23,567.43 532.8,567.68 533.36,567.94 533.93,568.2 534.08,568.26 534.5,568.45 535.08,568.71 535.65,568.96 536.23,569.21 536.65,569.4 536.8,569.47 537.38,569.72 537.96,569.98 538.54,570.23 539.12,570.48 539.16,570.5 539.71,570.74 540.29,570.99 540.88,571.24 541.47,571.5 541.63,571.57 542.05,571.75 542.64,572 543.24,572.25 543.83,572.5 544.05,572.6 544.42,572.76 545.02,573.01 545.62,573.26 546.22,573.51 546.42,573.6 546.82,573.76 547.42,574.01 548.02,574.26 548.63,574.51 548.76,574.57 549.23,574.76 549.84,575.01 550.45,575.26 551.06,575.51 551.07,575.51 551.67,575.76 552.29,576.01 552.9,576.25 553.33,576.43 553.52,576.5 554.13,576.75 554.75,577 555.37,577.24 555.57,577.32 556,577.49 556.62,577.74 557.24,577.98 557.77,578.19 557.87,578.23 558.5,578.48 559.13,578.72 559.76,578.97 559.95,579.04 560.39,579.21" stroke="#ffd700"/><polyline points="430.38,522.45 430.71,522.73 431.05,523.01 431.38,523.29 431.71,523.57 432.05,523.85 432.39,524.13 432.72,524.41 433.06,524.69 433.4,524.97 433.75,525.24 434.09,525.52 434.26,525.66 434.43,525.8 434.78,526.08 435.12,526.36 435.47,526.64 435.82,526.92 436.17,527.19 436.52,527.47 436.87,527.75 437.23,528.03 437.58,528.31 437.94,528.59 438.29,528.86 438.65,529.14 439.01,529.42 439.37,529.7 439.73,529.98 440.09,530.25 440.46,530.53 440.82,530.81 441.19,531.09 441.56,531.37 441.92,531.64 442.29,531.92 442.66,532.2 443.04,532.48 443.41,532.75 443.78,533.03 444.16,533.31 444.53,533.59 444.91,533.86 445.29,534.14 445.67,534.42 446.05,534.7 446.43,534.97 446.82,535.25 447.2,535.53 447.59,535.8 447.97,536.08 448.36,536.36 448.75,536.64 449.14,536.91 449.53,537.19 449.92,537.47 450.32,537.74 450.71,538.02 451.11,538.3 451.5,538.57 451.9,538.85 452.3,539.13 452.7,539.4 453.1,539.68 453.51,539.96 453.91,540.23 454.32,540.51 454.72,540.79 455.13,541.06 455.54,541.34 455.95,541.61 456.36,541.89 456.77,542.17 457.18,542.44 457.6,542.72 458.01,542.99 458.43,543.27 458.58,543.37 458.85,543.55 459.27,543.82 459.69,544.1 460.11,544.37 460.53,544.65 460.95,544.92 461.38,545.2 461.81,545.48 462.23,545.75 462.66,546.03 463.09,546.3 463.52,546.58 463.95,546.85 464.39,547.13 464.82,547.4 465.25,547.68 465.69,547.95 466.13,548.23 466.22,548.28 466.57,548.5 467.01,548.78 467.45,549.05 467.89,549.33 468.33,549.6 468.78,549.88 469.22,550.15 469.67,550.43 470.12,550.7 470.57,550.98 471.02,551.25 471.47,551.52 471.92,551.8 472.04,551.87 472.38,552.07 472.83,552.35 473.29,552.62 473.75,552.9 474.2,553.17 474.66,553.44 475.12,553.72 475.59,553.99 476.05,554.26 476.51,554.54 476.98,554.81 477.01,554.83 477.45,555.09 477.91,555.36 478.38,555.63 478.85,555.91 479.33,556.18 479.8,556.45 480.27,556.73 480.75,557 481.22,557.27 481.47,557.42 481.7,557.54 482.18,557.82 482.66,558.09 483.14,558.36 483.62,558.64 484.11,558.91 484.59,559.18 485.08,559.45 485.56,559.73 485.58,559.73 486.05,560 486.54,560.27 487.03,560.54 487.52,560.81 488.02,561.09 488.51,561.36 489.01,561.63 489.41,561.85 489.5,561.9 490,562.17 490.5,562.45 491,562.72 491.5,562.99 492,563.26 492.51,563.53 493.01,563.8 493.04,563.82 493.52,564.07 494.03,564.34 494.54,564.62 495.05,564.89 495.56,565.16 496.07,565.43 496.5,565.65 496.58,565.7 497.1,565.97 497.61,566.24 498.13,566.51 498.65,566.78 499.17,567.05 499.69,567.32 499.81,567.38 500.21,567.59 500.74,567.86 501.26,568.13 501.79,568.4 502.31,568.67 502.84,568.94 503,569.02 503.37,569.21 503.9,569.48 504.43,569.75 504.97,570.01 505.5,570.28 506.04,570.55 506.09,570.58 506.57,570.82 507.11,571.09 507.65,571.36 508.19,571.63 508.74,571.89 509.08,572.07 509.28,572.16 509.82,572.43 510.37,572.7 510.92,572.97 511.46,573.23 512,573.5 512.01,573.5 512.56,573.77 513.12,574.04 513.67,574.3 514.22,574.57 514.78,574.84 514.84,574.87 515.34,575.1 515.9,575.37 516.46,575.64 517.02,575.9 517.58,576.17 517.62,576.19 518.14,576.44 518.71,576.7 519.27,576.97 519.84,577.24 520.33,577.47 520.41,577.5 520.98,577.77 521.55,578.03 522.12,578.3 522.7,578.56 523,578.7 523.27,578.83 523.85,579.09 524.42,579.36 525,579.62 525.58,579.89 525.61,579.9 526.16,580.15 526.75,580.41 527.33,580.68 527.92,580.94 528.17,581.06 528.5,581.21 529.09,581.47 529.68,581.73 530.27,582 530.7,582.19 530.86,582.26 531.46,582.52 532.05,582.79 532.65,583.05 533.18,583.28 533.24,583.31 533.84,583.57 534.44,583.83 535.04,584.1 535.62,584.35 535.65,584.36 536.25,584.62 536.86,584.88 537.46,585.14 538.03,585.39 538.07,585.4 538.68,585.66 539.29,585.93 539.9,586.19 540.41,586.4 540.52,586.45 541.13,586.71 541.75,586.97 542.36,587.23 542.75,587.39 542.98,587.49 543.6,587.75" stroke="#caff00"/><polyline points="452.36,555.17 452.49,555.25 452.93,555.53 453.38,555.81 453.82,556.09 454.26,556.37 454.71,556.65 455.16,556.93 455.6,557.21 456.05,557.49 456.5,557.77 456.95,558.05 457.41,558.34 457.85,558.61 457.86,558.62 458.31,558.9 458.77,559.17 459.23,559.45 459.68,559.73 460.14,560.01 460.6,560.29 461.06,560.57 461.53,560.85 461.99,561.13 462.45,561.41 462.69,561.55 462.92,561.69 463.39,561.97 463.86,562.25 464.32,562.53 464.8,562.81 465.27,563.09 465.74,563.37 466.21,563.65 466.69,563.93 467.1,564.17 467.16,564.21 467.64,564.49 468.12,564.77 468.6,565.05 469.08,565.33 469.56,565.61 470.04,565.89 470.53,566.17 471.01,566.44 471.2,566.56 471.5,566.72 471.98,567 472.47,567.28 472.96,567.56 473.45,567.84 473.95,568.12 474.44,568.4 474.93,568.68 475.07,568.75 475.43,568.96 475.92,569.23 476.42,569.51 476.92,569.79 477.42,570.07 477.92,570.35 478.42,570.63 478.74,570.8 478.93,570.91 479.43,571.18 479.94,571.46 480.44,571.74 480.95,572.02 481.46,572.3 481.97,572.58 482.25,572.73 482.48,572.85 483,573.13 483.51,573.41 484.02,573.69 484.54,573.97 485.06,574.24 485.58,574.52 485.63,574.55 486.1,574.8 486.62,575.08 487.14,575.36 487.66,575.63 488.19,575.91 488.71,576.19 488.9,576.28 489.24,576.47 489.77,576.74 490.3,577.02 490.83,577.3 491.36,577.57 491.89,577.85 492.06,577.94 492.42,578.13 492.96,578.41 493.5,578.68 494.03,578.96 494.57,579.24 495.11,579.51 495.14,579.53 495.65,579.79 496.19,580.07 496.74,580.34 497.28,580.62 497.83,580.9 498.14,581.05 498.38,581.17 498.92,581.45 499.47,581.73 500.02,582 500.58,582.28 501.07,582.52 501.13,582.55 501.68,582.83 502.24,583.1 502.79,583.38 503.35,583.66 503.91,583.93 503.93,583.94 504.47,584.21 505.03,584.48 505.6,584.76 506.16,585.03 506.72,585.31 506.74,585.31 507.29,585.58 507.86,585.86 508.43,586.13 509,586.41 509.49,586.65 509.57,586.68 510.14,586.96 510.72,587.23 511.29,587.51 511.87,587.78 512.2,587.94 512.44,588.05 513.02,588.33 513.6,588.6 514.18,588.88 514.77,589.15 514.86,589.19 515.35,589.42 515.94,589.7 516.52,589.97 517.11,590.24 517.47,590.41 517.7,590.52 518.29,590.79 518.88,591.06 519.47,591.34 520.05,591.6 520.07,591.61 520.66,591.88 521.26,592.15 521.85,592.43 522.45,592.7 522.59,592.76 523.05,592.97 523.65,593.24 524.26,593.52 524.86,593.79 525.1,593.89 525.47,594.06 526.07,594.33 526.68,594.6 527.29,594.87 527.57,595 527.9,595.15 528.51,595.42" stroke="#4aed00"/></g><polygon points="515.1,601.8 416.4,528.8 536.6,478 639.6,539.4" fill="none" stroke="#111" stroke-width="1.3" stroke-linejoin="round"/><g stroke="#201010" stroke-width="0.65" stroke-opacity="0.82" stroke-linejoin="round"><polygon points="535.8,377.22 530.89,375.34 536.72,373.37 541.64,375.21" fill="#fa524f"/><polygon points="529.91,379.39 525.01,377.47 530.89,375.34 535.8,377.22" fill="#fa5552"/><polygon points="540.78,379.17 535.8,377.22 541.64,375.21 546.63,377.13" fill="#fa524f"/><polygon points="523.96,381.71 519.07,379.75 525.01,377.47 529.91,379.39" fill="#fa5553"/><polygon points="534.87,381.37 529.91,379.39 535.8,377.22 540.78,379.17" fill="#fa5552"/><polygon points="545.81,381.19 540.78,379.17 546.63,377.13 551.67,379.1" fill="#fa514f"/><polygon points="517.95,384.2 513.08,382.2 519.07,379.75 523.96,381.71" fill="#fb5553"/><polygon points="528.91,383.74 523.96,381.71 529.91,379.39 534.87,381.37" fill="#fa5553"/><polygon points="539.9,383.43 534.87,381.37 540.78,379.17 545.81,381.19" fill="#fa5552"/><polygon points="550.91,383.27 545.81,381.19 551.67,379.1 556.78,381.15" fill="#fa514f"/><polygon points="511.89,386.84 507.03,384.8 513.08,382.2 517.95,384.2" fill="#fb5753"/><polygon points="522.89,386.26 517.95,384.2 523.96,381.71 528.91,383.74" fill="#fb5553"/><polygon points="533.92,385.83 528.91,383.74 534.87,381.37 539.9,383.43" fill="#fa5553"/><polygon points="544.98,385.55 539.9,383.43 545.81,381.19 550.91,383.27" fill="#fa5452"/><polygon points="505.77,389.65 500.93,387.57 507.03,384.8 511.89,386.84" fill="#fb5a53"/><polygon points="556.07,385.42 550.91,383.27 556.78,381.15 561.96,383.26" fill="#fa514e"/><polygon points="516.81,388.95 511.89,386.84 517.95,384.2 522.89,386.26" fill="#fb5653"/><polygon points="527.89,388.4 522.89,386.26 528.91,383.74 533.92,385.83" fill="#fb5553"/><polygon points="538.99,387.99 533.92,385.83 539.9,383.43 544.98,385.55" fill="#fa5553"/><polygon points="499.6,392.63 494.77,390.51 500.93,387.57 505.77,389.65" fill="#fb5d53"/><polygon points="550.13,387.74 544.98,385.55 550.91,383.27 556.07,385.42" fill="#fa5451"/><polygon points="510.68,391.8 505.77,389.65 511.89,386.84 516.81,388.95" fill="#fb5953"/><polygon points="561.3,387.64 556.07,385.42 561.96,383.26 567.19,385.44" fill="#fa514e"/><polygon points="521.79,391.13 516.81,388.95 522.89,386.26 527.89,388.4" fill="#fb5653"/><polygon points="493.38,395.77 488.57,393.6 494.77,390.51 499.6,392.63" fill="#fb6253"/><polygon points="532.95,390.6 527.89,388.4 533.92,385.83 538.99,387.99" fill="#fb5553"/><polygon points="544.13,390.23 538.99,387.99 544.98,385.55 550.13,387.74" fill="#fa5553"/><polygon points="504.49,394.82 499.6,392.63 505.77,389.65 510.68,391.8" fill="#fb5c53"/><polygon points="555.35,390.01 550.13,387.74 556.07,385.42 561.3,387.64" fill="#fa5451"/><polygon points="515.65,394.02 510.68,391.8 516.81,388.95 521.79,391.13" fill="#fb5853"/><polygon points="566.59,389.94 561.3,387.64 567.19,385.44 572.49,387.7" fill="#fa514e"/><polygon points="487.1,399.09 482.31,396.87 488.57,393.6 493.38,395.77" fill="#fc6753"/><polygon points="526.84,393.38 521.79,391.13 527.89,388.4 532.95,390.6" fill="#fb5653"/><polygon points="498.25,398.01 493.38,395.77 499.6,392.63 504.49,394.82" fill="#fb6053"/><polygon points="538.07,392.88 532.95,390.6 538.99,387.99 544.13,390.23" fill="#fa5553"/><polygon points="549.33,392.53 544.13,390.23 550.13,387.74 555.35,390.01" fill="#fa5553"/><polygon points="509.44,397.09 504.49,394.82 510.68,391.8 515.65,394.02" fill="#fb5b53"/><polygon points="480.77,402.57 476,400.31 482.31,396.87 487.1,399.09" fill="#fc7753"/><polygon points="560.62,392.34 555.35,390.01 561.3,387.64 566.59,389.94" fill="#fa5451"/><polygon points="520.68,396.32 515.65,394.02 521.79,391.13 526.84,393.38" fill="#fb5753"/><polygon points="571.94,392.3 566.59,389.94 572.49,387.7 577.85,390.02" fill="#fa504e"/><polygon points="491.95,401.37 487.1,399.09 493.38,395.77 498.25,398.01" fill="#fc6553"/><polygon points="531.95,395.7 526.84,393.38 532.95,390.6 538.07,392.88" fill="#fb5653"/><polygon points="503.18,400.32 498.25,398.01 504.49,394.82 509.44,397.09" fill="#fb6053"/><polygon points="543.26,395.23 538.07,392.88 544.13,390.23 549.33,392.53" fill="#fa5553"/><polygon points="474.39,406.22 469.64,403.91 476,400.31 480.77,402.57" fill="#fc9353"/><polygon points="554.6,394.91 549.33,392.53 555.35,390.01 560.62,392.34" fill="#fa5553"/><polygon points="514.46,399.43 509.44,397.09 515.65,394.02 520.68,396.32" fill="#fb5a53"/><polygon points="485.61,404.9 480.77,402.57 487.1,399.09 491.95,401.37" fill="#fc7253"/><polygon points="565.97,394.75 560.62,392.34 566.59,389.94 571.94,392.3" fill="#fa5351"/><polygon points="525.77,398.68 520.68,396.32 526.84,393.38 531.95,395.7" fill="#fb5653"/><polygon points="577.36,394.75 571.94,392.3 577.85,390.02 583.28,392.42" fill="#fa504d"/><polygon points="496.87,403.73 491.95,401.37 498.25,398.01 503.18,400.32" fill="#fc6553"/><polygon points="467.96,410.05 463.23,407.69 469.64,403.91 474.39,406.22" fill="#fca053"/><polygon points="537.12,398.09 531.95,395.7 538.07,392.88 543.26,395.23" fill="#fb5553"/><polygon points="508.18,402.71 503.18,400.32 509.44,397.09 514.46,399.43" fill="#fb5f53"/><polygon points="548.51,397.65 543.26,395.23 549.33,392.53 554.6,394.91" fill="#fa5553"/><polygon points="479.21,408.6 474.39,406.22 480.77,402.57 485.61,404.9" fill="#fc8f53"/><polygon points="559.93,397.37 554.6,394.91 560.62,392.34 565.97,394.75" fill="#fa5553"/><polygon points="519.54,401.84 514.46,399.43 520.68,396.32 525.77,398.68" fill="#fb5a53"/><polygon points="490.51,407.31 485.61,404.9 491.95,401.37 496.87,403.73" fill="#fc6d53"/><polygon points="461.48,414.05 456.77,411.64 463.23,407.69 467.96,410.05" fill="#fcab53"/><polygon points="571.38,397.24 565.97,394.75 571.94,392.3 577.36,394.75" fill="#fa5350"/><polygon points="530.93,401.12 525.77,398.68 531.95,395.7 537.12,398.09" fill="#fb5653"/><polygon points="582.85,397.26 577.36,394.75 583.28,392.42 588.78,394.89" fill="#fa504d"/><polygon points="501.85,406.16 496.87,403.73 503.18,400.32 508.18,402.71" fill="#fc6453"/><polygon points="472.76,412.48 467.96,410.05 474.39,406.22 479.21,408.6" fill="#fc9e53"/><polygon points="542.36,400.56 537.12,398.09 543.26,395.23 548.51,397.65" fill="#fb5553"/><polygon points="513.25,405.17 508.18,402.71 514.46,399.43 519.54,401.84" fill="#fb5e53"/><polygon points="553.83,400.15 548.51,397.65 554.6,394.91 559.93,397.37" fill="#fa5553"/><polygon points="454.96,418.22 450.26,415.76 456.77,411.64 461.48,414.05" fill="#fcba53"/><polygon points="484.09,411.06 479.21,408.6 485.61,404.9 490.51,407.31" fill="#fc8c53"/><polygon points="565.33,399.9 559.93,397.37 565.97,394.75 571.38,397.24" fill="#fa5553"/><polygon points="524.68,404.33 519.54,401.84 525.77,398.68 530.93,401.12" fill="#fb5953"/><polygon points="495.47,409.79 490.51,407.31 496.87,403.73 501.85,406.16" fill="#fc6a53"/><polygon points="576.85,399.8 571.38,397.24 577.36,394.75 582.85,397.26" fill="#fa5350"/><polygon points="466.26,416.53 461.48,414.05 467.96,410.05 472.76,412.48" fill="#fcaa53"/><polygon points="536.16,403.64 530.93,401.12 537.12,398.09 542.36,400.56" fill="#fb5653"/><polygon points="588.41,399.85 582.85,397.26 588.78,394.89 594.35,397.44" fill="#fa504d"/><polygon points="506.9,408.67 501.85,406.16 508.18,402.71 513.25,405.17" fill="#fc6353"/><polygon points="448.38,422.57 443.71,420.06 450.26,415.76 454.96,418.22" fill="#fdce53"/><polygon points="547.67,403.1 542.36,400.56 548.51,397.65 553.83,400.15" fill="#fb5553"/><polygon points="477.62,414.99 472.76,412.48 479.21,408.6 484.09,411.06" fill="#fc9d53"/><polygon points="518.37,407.71 513.25,405.17 519.54,401.84 524.68,404.33" fill="#fb5e53"/><polygon points="559.22,402.73 553.83,400.15 559.93,397.37 565.33,399.9" fill="#fa5553"/><polygon points="459.71,420.76 454.96,418.22 461.48,414.05 466.26,416.53" fill="#fcb853"/><polygon points="489.03,413.59 484.09,411.06 490.51,407.31 495.47,409.79" fill="#fc8953"/><polygon points="570.79,402.5 565.33,399.9 571.38,397.24 576.85,399.8" fill="#fa5553"/><polygon points="529.89,406.89 524.68,404.33 530.93,401.12 536.16,403.64" fill="#fb5953"/><polygon points="441.76,427.1 437.12,424.53 443.71,420.06 448.38,422.57" fill="#fde453"/><polygon points="500.5,412.35 495.47,409.79 501.85,406.16 506.9,408.67" fill="#fc6953"/><polygon points="582.4,402.43 576.85,399.8 582.85,397.26 588.41,399.85" fill="#fa5250"/><polygon points="471.1,419.09 466.26,416.53 472.76,412.48 477.62,414.99" fill="#fca953"/><polygon points="541.45,406.23 536.16,403.64 542.36,400.56 547.67,403.1" fill="#fb5653"/><polygon points="594.03,402.52 588.41,399.85 594.35,397.44 599.98,400.07" fill="#fa4f4c"/><polygon points="512.01,411.26 506.9,408.67 513.25,405.17 518.37,407.71" fill="#fc6353"/><polygon points="453.12,425.17 448.38,422.57 454.96,418.22 459.71,420.76" fill="#fdcd53"/><polygon points="553.04,405.73 547.67,403.1 553.83,400.15 559.22,402.73" fill="#fb5553"/><polygon points="482.54,417.57 477.62,414.99 484.09,411.06 489.03,413.59" fill="#fc9c53"/><polygon points="435.1,431.81 430.48,429.19 437.12,424.53 441.76,427.1" fill="#fdf753"/><polygon points="564.67,405.38 559.22,402.73 565.33,399.9 570.79,402.5" fill="#fa5553"/><polygon points="523.57,410.32 518.37,407.71 524.68,404.33 529.89,406.89" fill="#fb5d53"/><polygon points="464.53,423.38 459.71,420.76 466.26,416.53 471.1,419.09" fill="#fcb753"/><polygon points="494.04,416.21 489.03,413.59 495.47,409.79 500.5,412.35" fill="#fc8853"/><polygon points="576.33,405.19 570.79,402.5 576.85,399.8 582.4,402.43" fill="#fa5553"/><polygon points="535.17,409.53 529.89,406.89 536.16,403.64 541.45,406.23" fill="#fb5953"/><polygon points="446.47,429.75 441.76,427.1 448.38,422.57 453.12,425.17" fill="#fde253"/><polygon points="588.01,405.15 582.4,402.43 588.41,399.85 594.03,402.52" fill="#fa524f"/><polygon points="505.59,414.99 500.5,412.35 506.9,408.67 512.01,411.26" fill="#fc6953"/><polygon points="476,421.73 471.1,419.09 477.62,414.99 482.54,417.57" fill="#fca853"/><polygon points="546.81,408.9 541.45,406.23 547.67,403.1 553.04,405.73" fill="#fb5653"/><polygon points="428.39,436.7 423.79,434.02 430.48,429.19 435.1,431.81" fill="#ecfd53"/><polygon points="599.72,405.27 594.03,402.52 599.98,400.07 605.68,402.77" fill="#fa4f4c"/><polygon points="517.19,413.92 512.01,411.26 518.37,407.71 523.57,410.32" fill="#fb6353"/><polygon points="457.91,427.84 453.12,425.17 459.71,420.76 464.53,423.38" fill="#fdcb53"/><polygon points="558.48,408.43 553.04,405.73 559.22,402.73 564.67,405.38" fill="#fb5553"/><polygon points="487.53,420.24 482.54,417.57 489.03,413.59 494.04,416.21" fill="#fc9c53"/><polygon points="439.79,434.52 435.1,431.81 441.76,427.1 446.47,429.75" fill="#fdf653"/><polygon points="570.19,408.11 564.67,405.38 570.79,402.5 576.33,405.19" fill="#fa5553"/><polygon points="528.83,413.01 523.57,410.32 529.89,406.89 535.17,409.53" fill="#fb5d53"/><polygon points="469.41,426.07 464.53,423.38 471.1,419.09 476,421.73" fill="#fcb653"/><polygon points="499.12,418.89 494.04,416.21 500.5,412.35 505.59,414.99" fill="#fc8753"/><polygon points="421.64,441.77 417.07,439.02 423.79,434.02 428.39,436.7" fill="#d3fd54"/><polygon points="581.93,407.95 576.33,405.19 582.4,402.43 588.01,405.15" fill="#fa5552"/><polygon points="540.51,412.25 535.17,409.53 541.45,406.23 546.81,408.9" fill="#fb5953"/><polygon points="451.25,432.48 446.47,429.75 453.12,425.17 457.91,427.84" fill="#fde153"/><polygon points="593.7,407.95 588.01,405.15 594.03,402.52 599.72,405.27" fill="#fa524f"/><polygon points="510.75,417.7 505.59,414.99 512.01,411.26 517.19,413.92" fill="#fc6953"/><polygon points="480.97,424.45 476,421.73 482.54,417.57 487.53,420.24" fill="#fca853"/><polygon points="552.23,411.65 546.81,408.9 553.04,405.73 558.48,408.43" fill="#fb5653"/><polygon points="605.49,408.1 599.72,405.27 605.68,402.77 611.45,405.55" fill="#fa4f4c"/><polygon points="433.05,439.46 428.39,436.7 435.1,431.81 439.79,434.52" fill="#edfd53"/><polygon points="522.43,416.67 517.19,413.92 523.57,410.32 528.83,413.01" fill="#fb6353"/><polygon points="462.77,430.59 457.91,427.84 464.53,423.38 469.41,426.07" fill="#fdcb53"/><polygon points="563.99,411.21 558.48,408.43 564.67,405.38 570.19,408.11" fill="#fb5553"/><polygon points="414.85,447.01 410.3,444.21 417.07,439.02 421.64,441.77" fill="#bafd54"/><polygon points="492.59,422.98 487.53,420.24 494.04,416.21 499.12,418.89" fill="#fc9c53"/><polygon points="575.78,410.92 570.19,408.11 576.33,405.19 581.93,407.95" fill="#fa5553"/><polygon points="534.16,415.78 528.83,413.01 535.17,409.53 540.51,412.25" fill="#fb5e53"/><polygon points="444.54,437.3 439.79,434.52 446.47,429.75 451.25,432.48" fill="#fdf553"/><polygon points="504.26,421.66 499.12,418.89 505.59,414.99 510.75,417.7" fill="#fc8753"/><polygon points="474.36,428.84 469.41,426.07 476,421.73 480.97,424.45" fill="#fcb653"/><polygon points="587.6,410.79 581.93,407.95 588.01,405.15 593.7,407.95" fill="#fa5552"/><polygon points="426.28,444.59 421.64,441.77 428.39,436.7 433.05,439.46" fill="#d4fd53"/><polygon points="545.92,415.05 540.51,412.25 546.81,408.9 552.23,411.65" fill="#fb5953"/><polygon points="599.45,410.82 593.7,407.95 599.72,405.27 605.49,408.1" fill="#fa514f"/><polygon points="456.08,435.28 451.25,432.48 457.91,427.84 462.77,430.59" fill="#fde153"/><polygon points="515.97,420.5 510.75,417.7 517.19,413.92 522.43,416.67" fill="#fc6953"/><polygon points="486.01,427.25 480.97,424.45 487.53,420.24 492.59,422.98" fill="#fca853"/><polygon points="557.73,414.48 552.23,411.65 558.48,408.43 563.99,411.21" fill="#fb5653"/><polygon points="611.32,411.01 605.49,408.1 611.45,405.55 617.3,408.42" fill="#f94e4c"/><polygon points="437.78,442.3 433.05,439.46 439.79,434.52 444.54,437.3" fill="#eefd53"/><polygon points="527.74,419.49 522.43,416.67 528.83,413.01 534.16,415.78" fill="#fb6353"/><polygon points="569.57,414.07 563.99,411.21 570.19,408.11 575.78,410.92" fill="#fb5553"/><polygon points="467.7,433.41 462.77,430.59 469.41,426.07 474.36,428.84" fill="#fcca53"/><polygon points="419.46,449.89 414.85,447.01 421.64,441.77 426.28,444.59" fill="#bbfd54"/><polygon points="497.71,425.8 492.59,422.98 499.12,418.89 504.26,421.66" fill="#fc9c53"/><polygon points="581.44,413.81 575.78,410.92 581.93,407.95 587.6,410.79" fill="#fa5553"/><polygon points="539.55,418.63 534.16,415.78 540.51,412.25 545.92,415.05" fill="#fb5e53"/><polygon points="449.35,440.16 444.54,437.3 451.25,432.48 456.08,435.28" fill="#fdf553"/><polygon points="509.46,424.51 504.26,421.66 510.75,417.7 515.97,420.5" fill="#fc8753"/><polygon points="479.37,431.7 474.36,428.84 480.97,424.45 486.01,427.25" fill="#fcb553"/><polygon points="593.35,413.72 587.6,410.79 593.7,407.95 599.45,410.82" fill="#fa5452"/><polygon points="430.98,447.49 426.28,444.59 433.05,439.46 437.78,442.3" fill="#d5fd53"/><polygon points="551.4,417.94 545.92,415.05 552.23,411.65 557.73,414.48" fill="#fb5a53"/><polygon points="605.28,413.78 599.45,410.82 605.49,408.1 611.32,411.01" fill="#fa514e"/><polygon points="460.99,438.17 456.08,435.28 462.77,430.59 467.7,433.41" fill="#fde053"/><polygon points="521.27,423.38 515.97,420.5 522.43,416.67 527.74,419.49" fill="#fc6953"/><polygon points="491.11,430.13 486.01,427.25 492.59,422.98 497.71,425.8" fill="#fca853"/><polygon points="563.3,417.4 557.73,414.48 563.99,411.21 569.57,414.07" fill="#fb5653"/><polygon points="617.23,414.01 611.32,411.01 617.3,408.42 623.21,411.36" fill="#f94e4b"/><polygon points="442.57,445.23 437.78,442.3 444.54,437.3 449.35,440.16" fill="#eefd53"/><polygon points="533.12,422.4 527.74,419.49 534.16,415.78 539.55,418.63" fill="#fb6353"/><polygon points="575.22,417.01 569.57,414.07 575.78,410.92 581.44,413.81" fill="#fb5553"/><polygon points="472.69,436.33 467.7,433.41 474.36,428.84 479.37,431.7" fill="#fcca53"/><polygon points="424.14,452.86 419.46,449.89 426.28,444.59 430.98,447.49" fill="#bcfd54"/><polygon points="502.9,428.71 497.71,425.8 504.26,421.66 509.46,424.51" fill="#fc9c53"/><polygon points="587.18,416.79 581.44,413.81 587.6,410.79 593.35,413.72" fill="#fa5553"/><polygon points="545.02,421.57 539.55,418.63 545.92,415.05 551.4,417.94" fill="#fb5e53"/><polygon points="454.23,443.11 449.35,440.16 456.08,435.28 460.99,438.17" fill="#fdf553"/><polygon points="514.74,427.45 509.46,424.51 515.97,420.5 521.27,423.38" fill="#fc8853"/><polygon points="484.45,434.63 479.37,431.7 486.01,427.25 491.11,430.13" fill="#fcb653"/><polygon points="599.16,416.73 593.35,413.72 599.45,410.82 605.28,413.78" fill="#fa5451"/><polygon points="435.74,450.47 430.98,447.49 437.78,442.3 442.57,445.23" fill="#d5fd53"/><polygon points="556.96,420.9 551.4,417.94 557.73,414.48 563.3,417.4" fill="#fb5a53"/><polygon points="611.17,416.82 605.28,413.78 611.32,411.01 617.23,414.01" fill="#fa514e"/><polygon points="465.95,441.14 460.99,438.17 467.7,433.41 472.69,436.33" fill="#fde153"/><polygon points="526.63,426.34 521.27,423.38 527.74,419.49 533.12,422.4" fill="#fc6953"/><polygon points="496.27,433.09 491.11,430.13 497.71,425.8 502.9,428.71" fill="#fca853"/><polygon points="568.93,420.39 563.3,417.4 569.57,414.07 575.22,417.01" fill="#fb5753"/><polygon points="623.21,417.08 617.23,414.01 623.21,411.36 629.2,414.39" fill="#f94e4b"/><polygon points="447.42,448.23 442.57,445.23 449.35,440.16 454.23,443.11" fill="#eefd53"/><polygon points="538.57,425.38 533.12,422.4 539.55,418.63 545.02,421.57" fill="#fb6453"/><polygon points="580.94,420.04 575.22,417.01 581.44,413.81 587.18,416.79" fill="#fa5553"/><polygon points="477.75,439.32 472.69,436.33 479.37,431.7 484.45,434.63" fill="#fccb53"/><polygon points="428.88,455.91 424.14,452.86 430.98,447.49 435.74,450.47" fill="#bcfd53"/><polygon points="508.15,431.7 502.9,428.71 509.46,424.51 514.74,427.45" fill="#fc9c53"/><polygon points="592.98,419.85 587.18,416.79 593.35,413.72 599.16,416.73" fill="#fa5553"/><polygon points="550.55,424.59 545.02,421.57 551.4,417.94 556.96,420.9" fill="#fb5f53"/><polygon points="459.17,446.14 454.23,443.11 460.99,438.17 465.95,441.14" fill="#fdf553"/><polygon points="520.08,430.46 514.74,427.45 521.27,423.38 526.63,426.34" fill="#fc8a53"/><polygon points="489.6,437.65 484.45,434.63 491.11,430.13 496.27,433.09" fill="#fcb653"/><polygon points="605.05,419.82 599.16,416.73 605.28,413.78 611.17,416.82" fill="#fa5451"/><polygon points="440.57,453.54 435.74,450.47 442.57,445.23 447.42,448.23" fill="#d5fd53"/><polygon points="562.58,423.95 556.96,420.9 563.3,417.4 568.93,420.39" fill="#fb5b53"/><polygon points="617.15,419.95 611.17,416.82 617.23,414.01 623.21,417.08" fill="#fa504e"/><polygon points="470.99,444.2 465.95,441.14 472.69,436.33 477.75,439.32" fill="#fde153"/><polygon points="532.06,429.38 526.63,426.34 533.12,422.4 538.57,425.38" fill="#fc6c53"/><polygon points="501.51,436.14 496.27,433.09 502.9,428.71 508.15,431.7" fill="#fca953"/><polygon points="574.64,423.47 568.93,420.39 575.22,417.01 580.94,420.04" fill="#fb5753"/><polygon points="629.26,420.25 623.21,417.08 629.2,414.39 635.26,417.5" fill="#f94d4a"/><polygon points="452.34,451.33 447.42,448.23 454.23,443.11 459.17,446.14" fill="#eefd53"/><polygon points="544.09,428.46 538.57,425.38 545.02,421.57 550.55,424.59" fill="#fb6453"/><polygon points="586.73,423.15 580.94,420.04 587.18,416.79 592.98,419.85" fill="#fa5553"/><polygon points="482.87,442.4 477.75,439.32 484.45,434.63 489.6,437.65" fill="#fccc53"/><polygon points="513.48,434.77 508.15,431.7 514.74,427.45 520.08,430.46" fill="#fc9d53"/><polygon points="433.68,459.04 428.88,455.91 435.74,450.47 440.57,453.54" fill="#bbfd53"/><polygon points="598.86,423 592.98,419.85 599.16,416.73 605.05,419.82" fill="#fa5553"/><polygon points="556.16,427.69 550.55,424.59 556.96,420.9 562.58,423.95" fill="#fb6053"/><polygon points="464.18,449.26 459.17,446.14 465.95,441.14 470.99,444.2" fill="#fdf653"/><polygon points="525.5,433.56 520.08,430.46 526.63,426.34 532.06,429.38" fill="#fc8d53"/><polygon points="494.81,440.76 489.6,437.65 496.27,433.09 501.51,436.14" fill="#fcb853"/><polygon points="611.01,423 605.05,419.82 611.17,416.82 617.15,419.95" fill="#fa5350"/><polygon points="445.47,456.7 440.57,453.54 447.42,448.23 452.34,451.33" fill="#d4fd53"/><polygon points="568.27,427.09 562.58,423.95 568.93,420.39 574.64,423.47" fill="#fb5c53"/><polygon points="623.19,423.17 617.15,419.95 623.21,417.08 629.26,420.25" fill="#fa504d"/><polygon points="476.09,447.34 470.99,444.2 477.75,439.32 482.87,442.4" fill="#fce253"/><polygon points="537.57,432.51 532.06,429.38 538.57,425.38 544.09,428.46" fill="#fb7053"/><polygon points="506.82,439.27 501.51,436.14 508.15,431.7 513.48,434.77" fill="#fcaa53"/><polygon points="580.42,426.64 574.64,423.47 580.94,420.04 586.73,423.15" fill="#fb5853"/><polygon points="635.39,423.5 629.26,420.25 635.26,417.5 641.4,420.7" fill="#f94d4a"/><polygon points="457.33,454.5 452.34,451.33 459.17,446.14 464.18,449.26" fill="#edfd53"/><polygon points="549.68,431.62 544.09,428.46 550.55,424.59 556.16,427.69" fill="#fb6553"/><polygon points="592.6,426.35 586.73,423.15 592.98,419.85 598.86,423" fill="#fa5653"/><polygon points="488.06,445.57 482.87,442.4 489.6,437.65 494.81,440.76" fill="#fccd53"/><polygon points="518.87,437.93 513.48,434.77 520.08,430.46 525.5,433.56" fill="#fc9f53"/><polygon points="438.55,462.26 433.68,459.04 440.57,453.54 445.47,456.7" fill="#bafd53"/><polygon points="604.81,426.23 598.86,423 605.05,419.82 611.01,423" fill="#fa5553"/><polygon points="561.84,430.88 556.16,427.69 562.58,423.95 568.27,427.09" fill="#fb6153"/><polygon points="469.26,452.46 464.18,449.26 470.99,444.2 476.09,447.34" fill="#fdf753"/><polygon points="530.98,436.75 525.5,433.56 532.06,429.38 537.57,432.51" fill="#fc9153"/><polygon points="617.05,426.27 611.01,423 617.15,419.95 623.19,423.17" fill="#fa5350"/><polygon points="500.1,443.95 494.81,440.76 501.51,436.14 506.82,439.27" fill="#fcb953"/><polygon points="574.04,430.31 568.27,427.09 574.64,423.47 580.42,426.64" fill="#fb5d53"/><polygon points="450.43,459.94 445.47,456.7 452.34,451.33 457.33,454.5" fill="#d3fd53"/><polygon points="629.31,426.47 623.19,423.17 629.26,420.25 635.39,423.5" fill="#fa504d"/><polygon points="543.14,435.73 537.57,432.51 544.09,428.46 549.68,431.62" fill="#fb7653"/><polygon points="481.26,450.56 476.09,447.34 482.87,442.4 488.06,445.57" fill="#fce453"/><polygon points="586.27,429.89 580.42,426.64 586.73,423.15 592.6,426.35" fill="#fb5a53"/><polygon points="512.19,442.49 506.82,439.27 513.48,434.77 518.87,437.93" fill="#fcab53"/><polygon points="641.6,426.83 635.39,423.5 641.4,420.7 647.61,423.99" fill="#f94d4a"/><polygon points="462.38,457.77 457.33,454.5 464.18,449.26 469.26,452.46" fill="#ebfd53"/><polygon points="555.35,434.87 549.68,431.62 556.16,427.69 561.84,430.88" fill="#fb6753"/><polygon points="598.54,429.64 592.6,426.35 598.86,423 604.81,426.23" fill="#fa5753"/><polygon points="493.33,448.82 488.06,445.57 494.81,440.76 500.1,443.95" fill="#fccf53"/><polygon points="524.34,441.18 518.87,437.93 525.5,433.56 530.98,436.75" fill="#fca053"/><polygon points="443.48,465.57 438.55,462.26 445.47,456.7 450.43,459.94" fill="#b9fd53"/><polygon points="610.84,429.55 604.81,426.23 611.01,423 617.05,426.27" fill="#fa5553"/><polygon points="567.59,434.16 561.84,430.88 568.27,427.09 574.04,430.31" fill="#fb6253"/><polygon points="474.41,455.75 469.26,452.46 476.09,447.34 481.26,450.56" fill="#fdf853"/><polygon points="623.16,429.62 617.05,426.27 623.19,423.17 629.31,426.47" fill="#fa5250"/><polygon points="536.54,440.03 530.98,436.75 537.57,432.51 543.14,435.73" fill="#fc9553"/><polygon points="505.45,447.23 500.1,443.95 506.82,439.27 512.19,442.49" fill="#fcbb53"/><polygon points="579.88,433.62 574.04,430.31 580.42,426.64 586.27,429.89" fill="#fb5e53"/><polygon points="455.46,463.27 450.43,459.94 457.33,454.5 462.38,457.77" fill="#d2fd53"/><polygon points="635.51,429.86 629.31,426.47 635.39,423.5 641.6,426.83" fill="#fa4f4d"/><polygon points="548.79,439.04 543.14,435.73 549.68,431.62 555.35,434.87" fill="#fb7c53"/><polygon points="486.5,453.88 481.26,450.56 488.06,445.57 493.33,448.82" fill="#fce553"/><polygon points="592.2,433.24 586.27,429.89 592.6,426.35 598.54,429.64" fill="#fb5b53"/><polygon points="517.64,445.79 512.19,442.49 518.87,437.93 524.34,441.18" fill="#fcad53"/><polygon points="467.51,461.13 462.38,457.77 469.26,452.46 474.41,455.75" fill="#e9fd53"/><polygon points="604.56,433.02 598.54,429.64 604.81,426.23 610.84,429.55" fill="#fa5953"/><polygon points="561.08,438.2 555.35,434.87 561.84,430.88 567.59,434.16" fill="#fb6853"/><polygon points="498.66,452.16 493.33,448.82 500.1,443.95 505.45,447.23" fill="#fcd153"/><polygon points="529.88,444.52 524.34,441.18 530.98,436.75 536.54,440.03" fill="#fca253"/><polygon points="448.49,468.96 443.48,465.57 450.43,459.94 455.46,463.27" fill="#b7fd53"/><polygon points="616.94,432.96 610.84,429.55 617.05,426.27 623.16,429.62" fill="#fa5652"/><polygon points="573.42,437.53 567.59,434.16 574.04,430.31 579.88,433.62" fill="#fb6353"/><polygon points="479.63,459.13 474.41,455.75 481.26,450.56 486.5,453.88" fill="#fcfa53"/><polygon points="629.35,433.07 623.16,429.62 629.31,426.47 635.51,429.86" fill="#fa524f"/><polygon points="542.17,443.39 536.54,440.03 543.14,435.73 548.79,439.04" fill="#fc9853"/><polygon points="510.88,450.6 505.45,447.23 512.19,442.49 517.64,445.79" fill="#fcbe53"/><polygon points="585.8,437.02 579.88,433.62 586.27,429.89 592.2,433.24" fill="#fb6053"/><polygon points="460.56,466.69 455.46,463.27 462.38,457.77 467.51,461.13" fill="#d0fd53"/><polygon points="554.51,442.43 548.79,439.04 555.35,434.87 561.08,438.2" fill="#fb8353"/><polygon points="491.81,457.29 486.5,453.88 493.33,448.82 498.66,452.16" fill="#fce753"/><polygon points="598.21,436.67 592.2,433.24 598.54,429.64 604.56,433.02" fill="#fb5d53"/><polygon points="523.16,449.19 517.64,445.79 524.34,441.18 529.88,444.52" fill="#fcae53"/><polygon points="472.7,464.57 467.51,461.13 474.41,455.75 479.63,459.13" fill="#e7fd53"/><polygon points="610.65,436.49 604.56,433.02 610.84,429.55 616.94,432.96" fill="#fa5a53"/><polygon points="566.89,441.63 561.08,438.2 567.59,434.16 573.42,437.53" fill="#fb6953"/><polygon points="504.07,455.6 498.66,452.16 505.45,447.23 510.88,450.6" fill="#fcd453"/><polygon points="535.49,447.94 529.88,444.52 536.54,440.03 542.17,443.39" fill="#fca453"/><polygon points="453.56,472.45 448.49,468.96 455.46,463.27 460.56,466.69" fill="#b5fd53"/><polygon points="623.12,436.46 616.94,432.96 623.16,429.62 629.35,433.07" fill="#fa5852"/><polygon points="579.32,440.99 573.42,437.53 579.88,433.62 585.8,437.02" fill="#fb6553"/><polygon points="484.91,462.6 479.63,459.13 486.5,453.88 491.81,457.29" fill="#fcfc53"/><polygon points="547.87,446.85 542.17,443.39 548.79,439.04 554.51,442.43" fill="#fc9a53"/><polygon points="516.38,454.06 510.88,450.6 517.64,445.79 523.16,449.19" fill="#fcc153"/><polygon points="591.79,440.51 585.8,437.02 592.2,433.24 598.21,436.67" fill="#fb6153"/><polygon points="465.72,470.2 460.56,466.69 467.51,461.13 472.7,464.57" fill="#cdfd53"/><polygon points="560.3,445.92 554.51,442.43 561.08,438.2 566.89,441.63" fill="#fb8a53"/><polygon points="497.2,460.78 491.81,457.29 498.66,452.16 504.07,455.6" fill="#fcea53"/><polygon points="604.29,440.2 598.21,436.67 604.56,433.02 610.65,436.49" fill="#fa5e53"/><polygon points="528.75,452.68 523.16,449.19 529.88,444.52 535.49,447.94" fill="#fcb153"/><polygon points="616.82,440.05 610.65,436.49 616.94,432.96 623.12,436.46" fill="#fa5c53"/><polygon points="477.96,468.11 472.7,464.57 479.63,459.13 484.91,462.6" fill="#e4fd53"/><polygon points="572.78,445.15 566.89,441.63 573.42,437.53 579.32,440.99" fill="#fb7253"/><polygon points="509.54,459.12 504.07,455.6 510.88,450.6 516.38,454.06" fill="#fcd753"/><polygon points="541.17,451.46 535.49,447.94 542.17,443.39 547.87,446.85" fill="#fca653"/><polygon points="458.7,476.03 453.56,472.45 460.56,466.69 465.72,470.2" fill="#b2fd53"/><polygon points="585.3,444.54 579.32,440.99 585.8,437.02 591.79,440.51" fill="#fb6753"/><polygon points="490.27,466.17 484.91,462.6 491.81,457.29 497.2,460.78" fill="#fafc53"/><polygon points="553.65,450.4 547.87,446.85 554.51,442.43 560.3,445.92" fill="#fb9d53"/><polygon points="521.95,457.61 516.38,454.06 523.16,449.19 528.75,452.68" fill="#fcc453"/><polygon points="597.86,444.1 591.79,440.51 598.21,436.67 604.29,440.2" fill="#fb6353"/><polygon points="470.96,473.81 465.72,470.2 472.7,464.57 477.96,468.11" fill="#cbfd53"/><polygon points="566.17,449.5 560.3,445.92 566.89,441.63 572.78,445.15" fill="#fb9153"/><polygon points="610.45,443.81 604.29,440.2 610.65,436.49 616.82,440.05" fill="#fa6053"/><polygon points="502.65,464.38 497.2,460.78 504.07,455.6 509.54,459.12" fill="#fcec53"/><polygon points="534.41,456.26 528.75,452.68 535.49,447.94 541.17,451.46" fill="#fcb353"/><polygon points="483.3,471.74 477.96,468.11 484.91,462.6 490.27,466.17" fill="#e1fc53"/><polygon points="578.74,448.76 572.78,445.15 579.32,440.99 585.3,444.54" fill="#fb7c53"/><polygon points="515.09,462.74 509.54,459.12 516.38,454.06 521.95,457.61" fill="#fcda53"/><polygon points="546.93,455.07 541.17,451.46 547.87,446.85 553.65,450.4" fill="#fca953"/><polygon points="463.91,479.71 458.7,476.03 465.72,470.2 470.96,473.81" fill="#affd53"/><polygon points="591.35,448.19 585.3,444.54 591.79,440.51 597.86,444.1" fill="#fb6953"/><polygon points="495.71,469.82 490.27,466.17 497.2,460.78 502.65,464.38" fill="#f7fc53"/><polygon points="559.5,454.04 553.65,450.4 560.3,445.92 566.17,449.5" fill="#fb9f53"/><polygon points="527.59,461.26 521.95,457.61 528.75,452.68 534.41,456.26" fill="#fcc853"/><polygon points="604,447.77 597.86,444.1 604.29,440.2 610.45,443.81" fill="#fb6553"/><polygon points="476.27,477.51 470.96,473.81 477.96,468.11 483.3,471.74" fill="#c8fd53"/><polygon points="572.12,453.17 566.17,449.5 572.78,445.15 578.74,448.76" fill="#fb9753"/><polygon points="508.18,468.06 502.65,464.38 509.54,459.12 515.09,462.74" fill="#fcf053"/><polygon points="540.15,459.94 534.41,456.26 541.17,451.46 546.93,455.07" fill="#fcb753"/><polygon points="584.78,452.47 578.74,448.76 585.3,444.54 591.35,448.19" fill="#fb8653"/><polygon points="488.71,475.47 483.3,471.74 490.27,466.17 495.71,469.82" fill="#ddfc53"/><polygon points="552.77,458.78 546.93,455.07 553.65,450.4 559.5,454.04" fill="#fcac53"/><polygon points="520.72,466.45 515.09,462.74 521.95,457.61 527.59,461.26" fill="#fcde53"/><polygon points="469.2,483.48 463.91,479.71 470.96,473.81 476.27,477.51" fill="#abfd53"/><polygon points="597.49,451.93 591.35,448.19 597.86,444.1 604,447.77" fill="#fb7253"/><polygon points="501.21,473.58 495.71,469.82 502.65,464.38 508.18,468.06" fill="#f3fc53"/><polygon points="565.43,457.78 559.5,454.04 566.17,449.5 572.12,453.17" fill="#fba353"/><polygon points="533.32,465.01 527.59,461.26 534.41,456.26 540.15,459.94" fill="#fccc53"/><polygon points="481.66,481.31 476.27,477.51 483.3,471.74 488.71,475.47" fill="#c4fd53"/><polygon points="578.15,456.95 572.12,453.17 578.74,448.76 584.78,452.47" fill="#fb9a53"/><polygon points="513.78,471.84 508.18,468.06 515.09,462.74 520.72,466.45" fill="#fcf353"/><polygon points="545.97,463.72 540.15,459.94 546.93,455.07 552.77,458.78" fill="#fcbc53"/><polygon points="590.9,456.27 584.78,452.47 591.35,448.19 597.49,451.93" fill="#fb8f53"/><polygon points="494.19,479.29 488.71,475.47 495.71,469.82 501.21,473.58" fill="#d9fc53"/><polygon points="558.68,462.59 552.77,458.78 559.5,454.04 565.43,457.78" fill="#fcaf53"/><polygon points="526.42,470.27 520.72,466.45 527.59,461.26 533.32,465.01" fill="#fce353"/><polygon points="474.55,487.34 469.2,483.48 476.27,477.51 481.66,481.31" fill="#a5fd53"/><polygon points="506.79,477.43 501.21,473.58 508.18,468.06 513.78,471.84" fill="#effc53"/><polygon points="571.44,461.62 565.43,457.78 572.12,453.17 578.15,456.95" fill="#fba653"/><polygon points="539.11,468.85 533.32,465.01 540.15,459.94 545.97,463.72" fill="#fcd153"/><polygon points="487.11,485.2 481.66,481.31 488.71,475.47 494.19,479.29" fill="#c0fc53"/><polygon points="584.25,460.82 578.15,456.95 584.78,452.47 590.9,456.27" fill="#fb9e53"/><polygon points="519.46,475.72 513.78,471.84 520.72,466.45 526.42,470.27" fill="#fcf753"/><polygon points="551.86,467.59 545.97,463.72 552.77,458.78 558.68,462.59" fill="#fcc153"/><polygon points="499.74,483.21 494.19,479.29 501.21,473.58 506.79,477.43" fill="#d5fc53"/><polygon points="564.67,466.49 558.68,462.59 565.43,457.78 571.44,461.62" fill="#fbb253"/><polygon points="532.19,474.17 526.42,470.27 533.32,465.01 539.11,468.85" fill="#fce753"/><polygon points="479.98,491.31 474.55,487.34 481.66,481.31 487.11,485.2" fill="#9efd53"/><polygon points="512.44,481.38 506.79,477.43 513.78,471.84 519.46,475.72" fill="#eafc53"/><polygon points="577.53,465.55 571.44,461.62 578.15,456.95 584.25,460.82" fill="#fbaa53"/><polygon points="544.99,472.79 539.11,468.85 545.97,463.72 551.86,467.59" fill="#fcd653"/><polygon points="492.64,489.2 487.11,485.2 494.19,479.29 499.74,483.21" fill="#bcfc53"/><polygon points="525.21,479.7 519.46,475.72 526.42,470.27 532.19,474.17" fill="#fcfb53"/><polygon points="557.84,471.56 551.86,467.59 558.68,462.59 564.67,466.49" fill="#fcc653"/><polygon points="505.37,487.23 499.74,483.21 506.79,477.43 512.44,481.38" fill="#d1fc53"/><polygon points="570.74,470.49 564.67,466.49 571.44,461.62 577.53,465.55" fill="#fbb853"/><polygon points="538.04,478.18 532.19,474.17 539.11,468.85 544.99,472.79" fill="#fceb53"/><polygon points="485.49,495.38 479.98,491.31 487.11,485.2 492.64,489.2" fill="#97fc53"/><polygon points="518.18,485.43 512.44,481.38 519.46,475.72 525.21,479.7" fill="#e5fc53"/><polygon points="550.94,476.83 544.99,472.79 551.86,467.59 557.84,471.56" fill="#fcdc53"/><polygon points="498.25,493.29 492.64,489.2 499.74,483.21 505.37,487.23" fill="#b7fc53"/><polygon points="531.04,483.78 525.21,479.7 532.19,474.17 538.04,478.18" fill="#f8fc53"/><polygon points="563.89,475.63 557.84,471.56 564.67,466.49 570.74,470.49" fill="#fccc53"/><polygon points="511.08,491.36 505.37,487.23 512.44,481.38 518.18,485.43" fill="#ccfc53"/><polygon points="543.98,482.29 538.04,478.18 544.99,472.79 550.94,476.83" fill="#fcf053"/><polygon points="491.07,499.55 485.49,495.38 492.64,489.2 498.25,493.29" fill="#8ffc53"/><polygon points="523.98,489.58 518.18,485.43 525.21,479.7 531.04,483.78" fill="#dffc53"/><polygon points="556.97,480.97 550.94,476.83 557.84,471.56 563.89,475.63" fill="#fce253"/><polygon points="503.93,497.49 498.25,493.29 505.37,487.23 511.08,491.36" fill="#b1fc53"/><polygon points="536.95,487.96 531.04,483.78 538.04,478.18 543.98,482.29" fill="#f3fc53"/><polygon points="516.87,495.58 511.08,491.36 518.18,485.43 523.98,489.58" fill="#c7fc53"/><polygon points="549.99,486.51 543.98,482.29 550.94,476.83 556.97,480.97" fill="#fcf553"/><polygon points="496.73,503.82 491.07,499.55 498.25,493.29 503.93,497.49" fill="#81fc53"/><polygon points="529.87,493.84 523.98,489.58 531.04,483.78 536.95,487.96" fill="#d9fc53"/><polygon points="509.69,501.79 503.93,497.49 511.08,491.36 516.87,495.58" fill="#aafc53"/><polygon points="542.94,492.25 536.95,487.96 543.98,482.29 549.99,486.51" fill="#ecfc53"/><polygon points="522.73,499.92 516.87,495.58 523.98,489.58 529.87,493.84" fill="#c1fc53"/><polygon points="502.46,508.2 496.73,503.82 503.93,497.49 509.69,501.79" fill="#6efc53"/><polygon points="535.84,498.2 529.87,493.84 536.95,487.96 542.94,492.25" fill="#d3fc53"/><polygon points="515.53,506.2 509.69,501.79 516.87,495.58 522.73,499.92" fill="#a0fc53"/><polygon points="528.67,504.36 522.73,499.92 529.87,493.84 535.84,498.2" fill="#bafc53"/><polygon points="508.27,512.69 502.46,508.2 509.69,501.79 515.53,506.2" fill="#5dfc53"/><polygon points="521.45,510.72 515.53,506.2 522.73,499.92 528.67,504.36" fill="#96fc53"/><polygon points="514.17,517.28 508.27,512.69 515.53,506.2 521.45,510.72" fill="#55fc53"/></g><ellipse cx="526.63" cy="423.04" rx="2.6" ry="3.2" fill="#c00000" stroke="#4a0000" stroke-width="0.8"/><g fill="#000"><circle cx="413.88" cy="493.87" r="1.7"/><circle cx="411.89" cy="466.16" r="1.7"/><circle cx="409.89" cy="438.44" r="1.7"/><circle cx="407.9" cy="410.72" r="1.7"/><circle cx="405.9" cy="383" r="1.7"/><circle cx="515.1" cy="601.8" r="1.7"/><circle cx="490.43" cy="583.55" r="1.7"/><circle cx="465.75" cy="565.3" r="1.7"/><circle cx="441.07" cy="547.05" r="1.7"/><circle cx="416.4" cy="528.8" r="1.7"/><circle cx="515.1" cy="601.8" r="1.7"/><circle cx="540" cy="589.32" r="1.7"/><circle cx="564.9" cy="576.84" r="1.7"/><circle cx="589.8" cy="564.36" r="1.7"/><circle cx="614.7" cy="551.88" r="1.7"/><circle cx="639.6" cy="539.4" r="1.7"/></g><g font-family="Liberation Serif" font-size="12.8" fill="#111" stroke="#111" stroke-width="0.2" opacity="0.99"><text x="406.58" y="490.27" text-anchor="end">70</text><text x="404.59" y="462.56" text-anchor="end">80</text><text x="402.59" y="434.84" text-anchor="end">90</text><text x="400.6" y="407.12" text-anchor="end">100</text><text x="398.6" y="379.4" text-anchor="end">110</text><text x="508.1" y="614.4" text-anchor="end">40</text><text x="483.43" y="596.15" text-anchor="end">45</text><text x="458.75" y="577.9" text-anchor="end">50</text><text x="434.07" y="559.65" text-anchor="end">55</text><text x="409.4" y="541.4" text-anchor="end">60</text><text x="521.6" y="614.4">0.75</text><text x="546.5" y="601.92">0.95</text><text x="571.4" y="589.44">1.15</text><text x="596.3" y="576.96">1.35</text><text x="621.2" y="564.48">1.55</text><text x="646.1" y="552">1.75</text></g><g font-family="Liberation Serif" fill="#111" stroke="#111" stroke-width="0.2" opacity="0.99"><text x="0" y="0" font-size="13.7" text-anchor="middle" transform="translate(363.7,442.7) rotate(-90)">Removal efficiency (%)</text><text x="392.1" y="598.4" font-size="13.6" text-anchor="start">Time (min)</text><text x="590.2" y="604.7" font-size="13.7" text-anchor="start">Dosage (g)</text><text x="562.2" y="646.8" font-size="14.8" text-anchor="middle">(d)</text></g></svg></body></html>
